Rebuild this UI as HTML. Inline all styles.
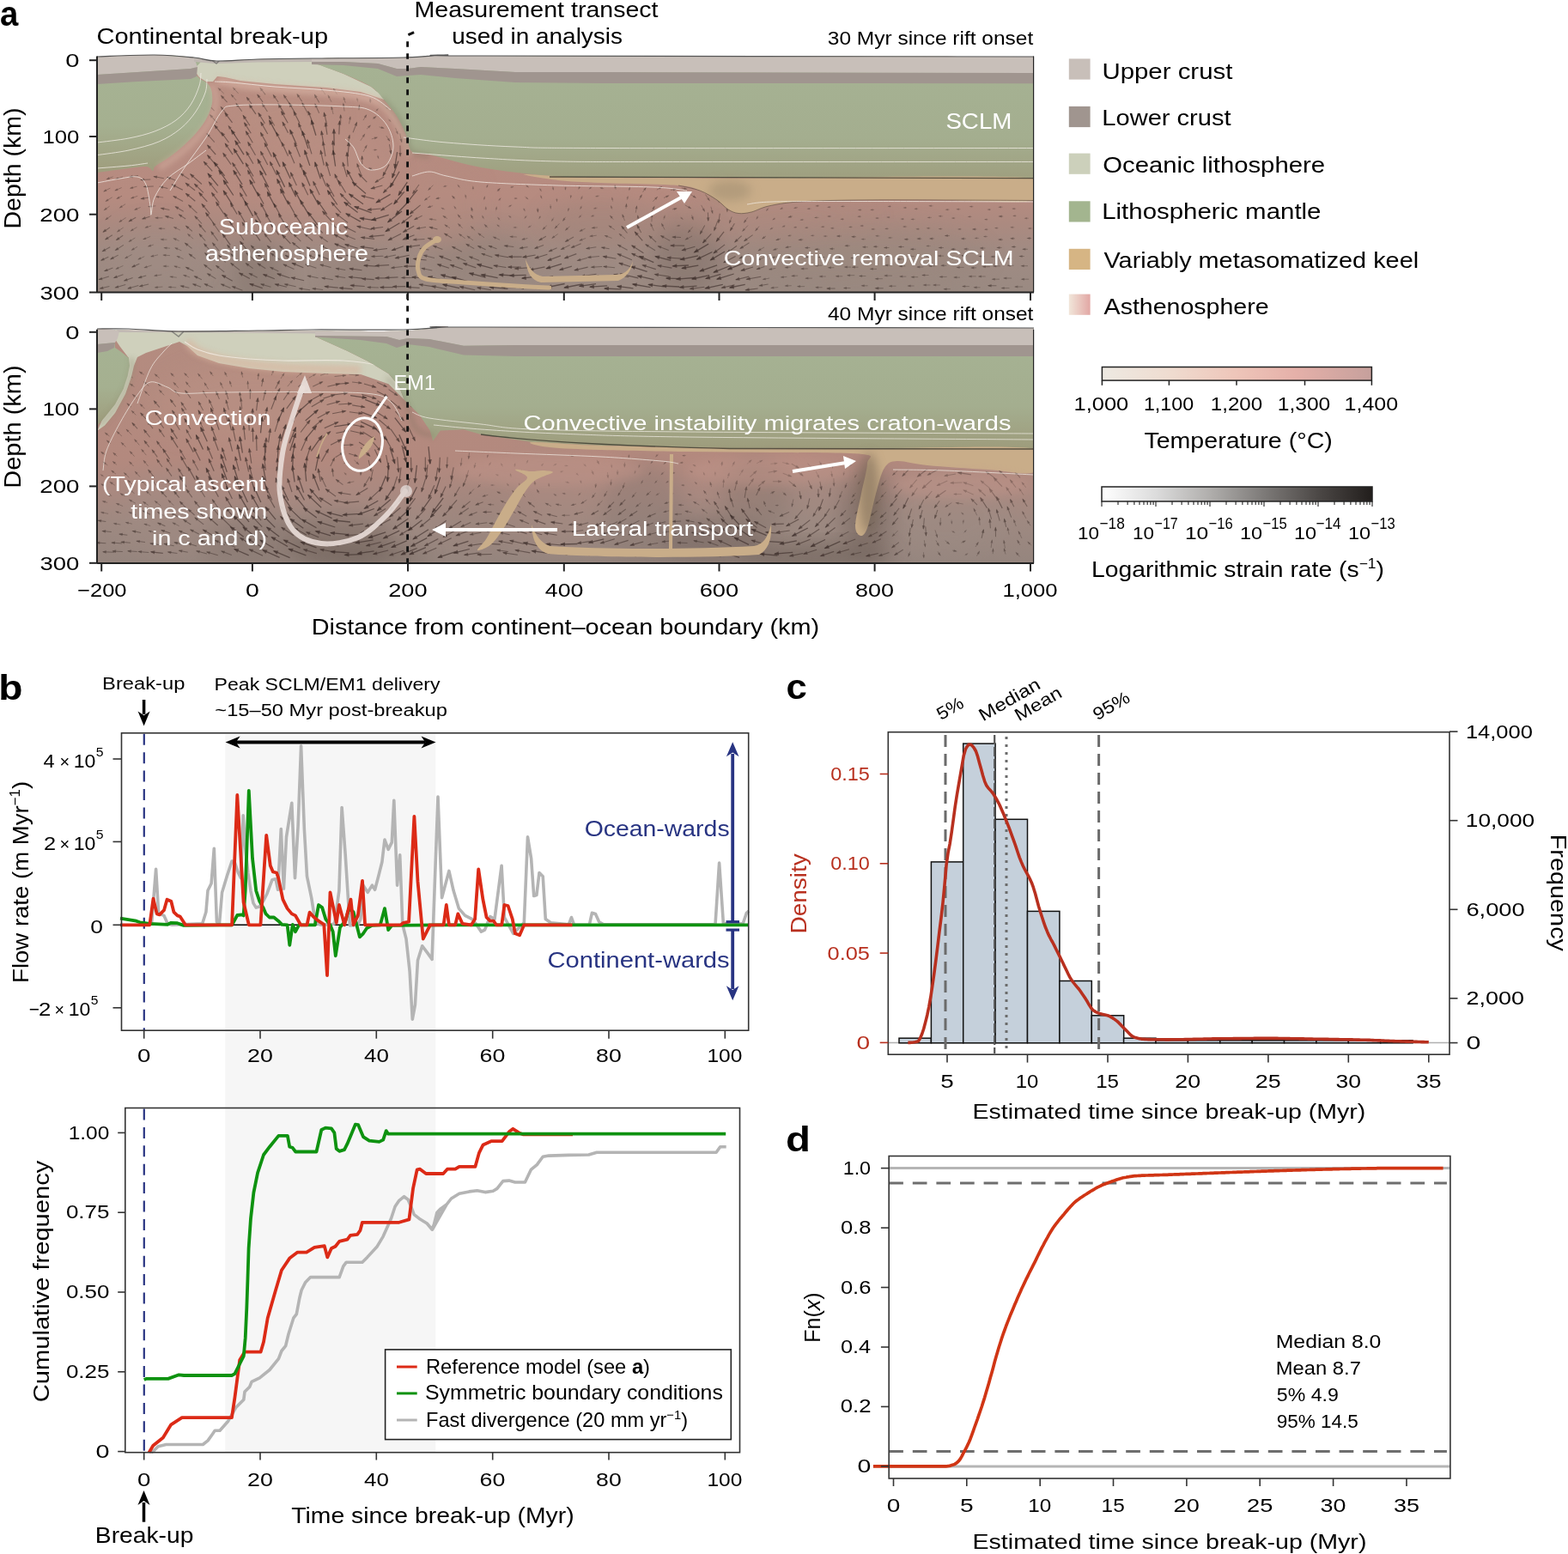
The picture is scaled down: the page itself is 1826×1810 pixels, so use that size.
<!DOCTYPE html>
<html><head><meta charset="utf-8"><title>Figure</title><style>html,body{margin:0;padding:0;background:#fff;overflow:hidden;}svg{display:block;}</style></head><body>
<svg width="1826" height="1810" viewBox="0 0 1826 1810" font-family='"Liberation Sans", Arial, sans-serif'>
<defs>
<linearGradient id="gGreen" x1="0" y1="0" x2="0" y2="1">
 <stop offset="0" stop-color="#a6b394"/><stop offset="0.6" stop-color="#a5b090"/><stop offset="1" stop-color="#9f9d7d"/>
</linearGradient>
<linearGradient id="gGreen2" x1="0" y1="0" x2="0" y2="1">
 <stop offset="0" stop-color="#a6b394"/><stop offset="0.65" stop-color="#a4ae8f"/><stop offset="1" stop-color="#9e9c7c"/>
</linearGradient>
<linearGradient id="gAst1" gradientUnits="userSpaceOnUse" x1="0" y1="60" x2="0" y2="341">
 <stop offset="0" stop-color="#b98e82"/><stop offset="0.6" stop-color="#b68b80"/><stop offset="0.72" stop-color="#ab8a80"/><stop offset="0.83" stop-color="#a08b83"/><stop offset="1" stop-color="#9a8a82"/>
</linearGradient>
<linearGradient id="gAst2" gradientUnits="userSpaceOnUse" x1="0" y1="378" x2="0" y2="656">
 <stop offset="0" stop-color="#b48c80"/><stop offset="0.56" stop-color="#b3897e"/><stop offset="0.7" stop-color="#aa8980"/><stop offset="0.83" stop-color="#9e8981"/><stop offset="1" stop-color="#95857e"/>
</linearGradient>
<linearGradient id="gAstLeg" x1="0" y1="0" x2="1" y2="0">
 <stop offset="0" stop-color="#f1e6da"/><stop offset="1" stop-color="#e2a7a4"/>
</linearGradient>
<linearGradient id="gTemp" x1="0" y1="0" x2="1" y2="0">
 <stop offset="0" stop-color="#ede9e2"/><stop offset="0.25" stop-color="#efdcd0"/><stop offset="0.5" stop-color="#eec5b9"/><stop offset="0.72" stop-color="#e5b0a9"/><stop offset="1" stop-color="#c6a09c"/>
</linearGradient>
<linearGradient id="gStrain" x1="0" y1="0" x2="1" y2="0">
 <stop offset="0" stop-color="#ffffff"/><stop offset="0.2" stop-color="#dcdcdc"/><stop offset="0.4" stop-color="#b0aeac"/><stop offset="0.6" stop-color="#7d7a78"/><stop offset="0.8" stop-color="#4c4846"/><stop offset="1" stop-color="#221e1c"/>
</linearGradient>
<filter id="blur6" x="-50%" y="-50%" width="200%" height="200%"><feGaussianBlur stdDeviation="6"/></filter>
<filter id="blur12" x="-50%" y="-50%" width="200%" height="200%"><feGaussianBlur stdDeviation="12"/></filter>
<filter id="blur3" x="-50%" y="-50%" width="200%" height="200%"><feGaussianBlur stdDeviation="3"/></filter>
<clipPath id="clipTop"><path d="M113 66C124.2 65.7 161.2 63.8 180 64C198.8 64.2 214 65.8 226 67C238 68.2 239.7 70.7 252 71C264.3 71.3 281.5 69.5 300 69C318.5 68.5 334.7 68.3 363 68C391.3 67.7 443.8 67.7 470 67C496.2 66.3 505 64.3 520 64C535 63.7 446 64.7 560 65C674 65.3 1096.7 65.8 1204 66 L1204 340.5 L113 340.5 Z"/></clipPath><clipPath id="clipBot"><path d="M113 383C119.2 383.2 134.2 384.1 150 384.5C165.8 384.9 183 385.3 208 385.5C233 385.7 273.5 385.5 300 385.5C326.5 385.5 338.7 385.5 367 385.5C395.3 385.5 444.5 386.4 470 385.5C495.5 384.6 505 381.1 520 380.4C535 379.6 446 380.7 560 381C674 381.3 1096.7 381.8 1204 382 L1204 656 L113 656 Z"/></clipPath></defs>
<rect width="1826" height="1810" fill="#fff"/>
<g clip-path="url(#clipTop)">
<rect x="113" y="60" width="1091" height="281" fill="url(#gAst1)"/>
<ellipse cx="300" cy="320" rx="30" ry="40" fill="#7f6f68" opacity="0.45" filter="url(#blur12)"/>
<ellipse cx="180" cy="300" rx="60" ry="40" fill="#a08c84" opacity="0.4" filter="url(#blur12)"/>
<ellipse cx="560" cy="300" rx="60" ry="30" fill="#8c7b73" opacity="0.35" filter="url(#blur12)"/>
<ellipse cx="800" cy="300" rx="40" ry="45" fill="#7a6a63" opacity="0.45" filter="url(#blur12)"/>
<ellipse cx="700" cy="260" rx="70" ry="30" fill="#9a8076" opacity="0.3" filter="url(#blur12)"/>
<ellipse cx="380" cy="200" rx="80" ry="60" fill="#b99084" opacity="0.5" filter="url(#blur12)"/>
<ellipse cx="330" cy="140" rx="60" ry="40" fill="#b98f82" opacity="0.5" filter="url(#blur12)"/>
<ellipse cx="1000" cy="300" rx="150" ry="40" fill="#958479" opacity="0.3" filter="url(#blur12)"/>
<ellipse cx="520" cy="240" rx="40" ry="50" fill="#b48c80" opacity="0.4" filter="url(#blur12)"/>
<ellipse cx="900" cy="250" rx="120" ry="30" fill="#ad8a7f" opacity="0.3" filter="url(#blur12)"/>
<ellipse cx="420" cy="320" rx="40" ry="25" fill="#8e7b73" opacity="0.4" filter="url(#blur12)"/>
<path d="M439.3 107.6L437 105.3M416.7 118.6L415.8 114.4M450.2 118.2L447.5 115.8M462.6 116.1L458.9 118.1M437.5 129.8L440.2 126.8M448.8 124.8L452.4 126.3M466.5 123.7L465.6 127.9M451.8 138.3L455 141.4M467.9 136.6L468.6 140M434.6 174.8L438.4 174.3M439.5 180.7L440.8 184.4M520.5 216.4L516.8 217.2M535.6 218.8L533.2 215.6M550.9 221.1L550.9 217.5M566.6 218.8L567.9 215.5M594.3 218.2L597.7 217.6M612.1 215.7L615.3 217.9M628.5 219.2L630.2 222.5M643.7 217L644.4 221M658.7 217.5L658.4 220.9M675.3 216.9L673.9 220M689.1 217.4L686.5 220M703.2 219.6L699.2 218.9M732.4 222L733.5 218.4M850.8 216.2L850.9 220M542.9 231.5L542 227.1M563.5 233.1L564.4 229.2M580.6 233.8L582.8 231M598.8 231.1L602 231.1M611.2 228.9L614.7 231.7M629.3 227.2L630.8 230.8M648.3 230.9L648.5 234.5M665 227L664.5 230.3M678.4 227.9L676.8 231.8M698 228L693.9 228.9M713.6 234.7L712.8 230.4M730.2 233L731.2 228.9M518.1 244L514.2 242.2M531.4 244L529.1 240.5M565.8 244.9L565.8 241.2M577.6 245.4L578.3 241.2M591.8 241.1L595.3 239.1M609.7 242.6L611.1 245.5M641 238.2L641.3 242.7M662.6 242L661.5 245.6M677.5 239.7L675.8 243.1M695.6 242L691.7 243M712.9 243.7L711.5 240M881.4 239.1L880.5 242.6M895.1 242.1L892.6 245.4M911.9 242L908.9 243.4M929.1 241.6L924.9 242.4M944.4 243L940.5 243.2M954.2 239.7L950.4 239.8M967.5 241.2L964.1 241.3M983.8 240.4L979.8 240.4M1003.3 244.5L999.9 244.5M1018.1 244.4L1014.2 244.4M1037.8 240.4L1034.5 240.4M1055.9 241.9L1052.6 241.9M1069.2 243.2L1065.4 243.2M1086.5 239.8L1082.3 239.8M1105.5 244.2L1101.7 244.2M1118.5 243.7L1114.4 243.7M1133.4 240.6L1129.7 240.6M1153.9 244.1L1150.5 244.1M1167.7 241.2L1163.4 241.2M1183.1 243.1L1179.2 243.1M563.6 255.2L561.7 251.5M582.2 256.5L579.9 253.4M595.4 253.6L592.7 251.6M613.4 250.9L611.1 254.2M629.4 251.5L628 254.5M644.9 253.4L642.6 257.3M677.5 250.1L674.4 253.2M692.2 250.9L688.8 252M772.8 255.7L774.1 251.4M792.2 252.9L795.1 255.3M882.9 251.4L881.1 254.9M903 254L900 255.9M936.2 255.8L932.3 256.2M953.5 253.4L949 253.5M968.1 252L964.2 252M983 255.3L979.4 255.3M1003.1 252.2L999.3 252.2M1023.6 254.1L1020 254.1M1036.4 253.1L1033.2 253.1M1053 255.1L1049.5 255.1M1065.5 255.4L1061.4 255.4M1084.9 253.4L1080.6 253.4M1098.1 251.8L1093.6 251.8M1112.2 254.1L1108.8 254.1M1131.5 252.4L1127.7 252.4M1150.3 255.6L1147 255.6M1183.5 251.4L1180.1 251.4M1197.9 254.2L1193.6 254.2M582.2 264.4L579 262M602.4 264.9L598.3 264.9M619 262.6L615.3 264.9M792.3 262.5L788.7 263.1M900.5 265L897.1 267M914.5 263L911.3 264M928 264.5L924.8 264.9M941.3 265.1L937.9 265.3M960.4 264.1L956.7 264.2M971.5 265.8L967.9 265.8M992.6 264.4L989 264.4M1006 263L1002.3 263M1019.3 266.9L1015.1 266.9M1034.8 266.4L1031.1 266.4M1056.2 264L1052 264M1071 266.8L1067.3 266.8M1083.3 265.8L1079.7 265.8M1097.3 266.6L1093.6 266.6M1119.6 266.9L1116.1 266.9M1150.6 267.3L1147 267.3M1162.5 265.6L1158.9 265.6M1181.4 264.8L1177.2 264.8M1202.2 266L1197.8 266M921.7 274.1L918 274.7M948.4 274.3L944.8 274.4M963.7 275.1L959.6 275.1M1008 278.6L1003.6 278.6M1024.5 274.8L1020.1 274.8M1039.4 276.9L1034.9 276.9M1140.1 277.4L1135.6 277.4M1150.1 275.5L1145.9 275.5M1083.7 286.5L1079.2 286.5" stroke="#3a2b27" stroke-opacity="0.27" stroke-width="0.80" fill="none"/><path d="M436.1 104.4L439.6 106.2L437.8 107.9ZM415.6 113.3L417.5 116.6L415.1 117.1ZM446.6 115L450.2 116.6L448.6 118.3ZM457.9 118.6L460.6 115.8L461.7 117.9ZM441 125.9L439.4 129.4L437.6 127.8ZM453.6 126.7L449.7 126.4L450.6 124.2ZM465.3 129.1L465 125.2L467.3 125.7ZM455.8 142.2L452.4 140.5L454 138.8ZM468.9 141.2L466.9 137.8L469.3 137.3ZM439.6 174.2L436.1 175.9L435.8 173.5ZM441.2 185.5L438.9 182.4L441.2 181.6ZM515.6 217.5L519 215.5L519.5 217.9ZM532.5 214.6L535.7 216.9L533.8 218.3ZM550.9 216.3L552.1 220L549.7 220ZM568.4 214.3L568.1 218.2L565.9 217.3ZM598.9 217.3L595.5 219.2L595 216.9ZM616.3 218.6L612.5 217.5L613.9 215.5ZM630.7 223.6L628 220.8L630.1 219.7ZM644.5 222.2L642.8 218.7L645.1 218.3ZM658.3 222.1L657.4 218.3L659.8 218.6ZM673.4 221.1L673.8 217.3L676 218.2ZM685.6 220.8L687.4 217.4L689.1 219.1ZM698 218.6L701.9 218.1L701.4 220.5ZM733.8 217.3L733.9 221.2L731.6 220.5ZM850.9 221.2L849.6 217.5L852 217.5ZM541.7 225.9L543.7 229.3L541.3 229.8ZM564.7 228L565 231.9L562.7 231.4ZM583.6 230L582.3 233.7L580.4 232.2ZM603.2 231.1L599.5 232.3L599.5 229.9ZM615.7 232.5L612 231.1L613.5 229.2ZM631.3 231.9L628.8 229L631 228ZM648.6 235.7L647.2 232.1L649.6 231.9ZM664.3 231.5L663.7 227.6L666.1 228ZM676.3 232.9L676.7 229L678.9 230ZM692.7 229.1L696.1 227.2L696.6 229.5ZM712.5 229.2L714.4 232.6L712.1 233.1ZM731.4 227.7L731.8 231.6L729.4 231.1ZM513.1 241.7L517 242.2L516 244.3ZM528.4 239.5L531.5 241.9L529.5 243.2ZM565.8 240L567 243.7L564.6 243.7ZM578.5 240.1L579.1 243.9L576.7 243.5ZM596.4 238.5L593.8 241.4L592.6 239.3ZM611.6 246.6L609 243.8L611.1 242.7ZM641.4 243.9L639.9 240.3L642.3 240.1ZM661.1 246.7L661.1 242.8L663.4 243.6ZM675.3 244.2L675.9 240.3L678 241.4ZM690.6 243.3L693.8 241.3L694.4 243.6ZM711.1 238.8L713.5 241.9L711.2 242.7ZM880.2 243.7L880 239.9L882.3 240.5ZM891.9 246.3L893.2 242.7L895.1 244.2ZM907.8 244L910.6 241.3L911.7 243.4ZM923.8 242.6L927.2 240.8L927.6 243.1ZM939.3 243.3L942.9 241.9L943 244.2ZM949.2 239.9L952.9 238.5L952.9 240.9ZM962.9 241.3L966.6 240.1L966.6 242.5ZM978.6 240.4L982.3 239.2L982.3 241.6ZM998.7 244.5L1002.4 243.3L1002.4 245.7ZM1013 244.4L1016.7 243.2L1016.7 245.6ZM1033.3 240.4L1037 239.2L1037 241.6ZM1051.4 241.9L1055.1 240.7L1055.1 243.1ZM1064.2 243.2L1067.9 242L1067.9 244.4ZM1081.1 239.8L1084.8 238.6L1084.8 241ZM1100.5 244.2L1104.2 243L1104.2 245.4ZM1113.2 243.7L1116.9 242.5L1116.9 244.9ZM1128.5 240.6L1132.2 239.4L1132.2 241.8ZM1149.3 244.1L1153 242.9L1153 245.3ZM1162.2 241.2L1165.9 240L1165.9 242.4ZM1178 243.1L1181.7 241.9L1181.7 244.3ZM561.2 250.4L563.9 253.2L561.8 254.3ZM579.2 252.5L582.4 254.8L580.4 256.2ZM591.8 250.9L595.5 252.1L594 254ZM610.5 255.1L611.6 251.4L613.6 252.8ZM627.4 255.6L628 251.8L630.1 252.8ZM642 258.3L642.8 254.5L644.9 255.7ZM673.6 254L675.4 250.6L677.1 252.3ZM687.6 252.3L690.8 250.1L691.5 252.4ZM774.5 250.3L774.6 254.2L772.3 253.5ZM796 256L792.4 254.6L793.9 252.7ZM880.5 255.9L881.2 252.1L883.3 253.2ZM899 256.6L901.5 253.5L902.8 255.6ZM931.1 256.3L934.7 254.7L934.9 257.1ZM947.8 253.5L951.4 252.2L951.5 254.6ZM963 252L966.6 250.8L966.7 253.2ZM978.2 255.3L981.9 254.1L981.9 256.5ZM998.1 252.2L1001.8 251L1001.8 253.4ZM1018.8 254.1L1022.5 252.9L1022.5 255.3ZM1032 253.1L1035.7 251.9L1035.7 254.3ZM1048.3 255.1L1052 253.9L1052 256.3ZM1060.2 255.4L1063.9 254.2L1063.9 256.6ZM1079.4 253.4L1083.1 252.2L1083.1 254.6ZM1092.4 251.8L1096.1 250.6L1096.1 253ZM1107.6 254.1L1111.3 252.9L1111.3 255.3ZM1126.5 252.4L1130.2 251.2L1130.2 253.6ZM1145.8 255.6L1149.5 254.4L1149.5 256.8ZM1178.9 251.4L1182.6 250.2L1182.6 252.6ZM1192.4 254.2L1196.1 253L1196.1 255.4ZM578 261.3L581.7 262.5L580.3 264.4ZM597.1 265L600.8 263.7L600.9 266.1ZM614.3 265.5L616.8 262.5L618.1 264.6ZM787.5 263.3L791 261.5L791.4 263.9ZM896.1 267.6L898.7 264.7L899.9 266.8ZM910.2 264.4L913.4 262.1L914.1 264.4ZM923.6 265.1L927.1 263.4L927.4 265.7ZM936.7 265.3L940.3 263.9L940.4 266.3ZM955.5 264.2L959.2 262.9L959.3 265.3ZM966.7 265.8L970.4 264.6L970.4 267ZM987.8 264.4L991.5 263.2L991.5 265.6ZM1001.1 263L1004.8 261.8L1004.8 264.2ZM1013.9 266.9L1017.6 265.7L1017.6 268.1ZM1029.9 266.4L1033.6 265.2L1033.6 267.6ZM1050.8 264L1054.5 262.8L1054.5 265.2ZM1066.1 266.8L1069.8 265.6L1069.8 268ZM1078.5 265.8L1082.2 264.6L1082.2 267ZM1092.4 266.6L1096.1 265.4L1096.1 267.8ZM1114.9 266.9L1118.6 265.7L1118.6 268.1ZM1145.8 267.3L1149.5 266.1L1149.5 268.5ZM1157.7 265.6L1161.4 264.4L1161.4 266.8ZM1176 264.8L1179.7 263.6L1179.7 266ZM1196.6 266L1200.3 264.8L1200.3 267.2ZM916.8 275L920.2 273.1L920.7 275.5ZM943.6 274.5L947.2 273.2L947.3 275.6ZM958.4 275.1L962.1 273.9L962.1 276.3ZM1002.4 278.6L1006.1 277.4L1006.1 279.8ZM1018.9 274.8L1022.6 273.6L1022.6 276ZM1033.7 276.9L1037.4 275.7L1037.4 278.1ZM1134.4 277.4L1138.1 276.2L1138.1 278.6ZM1144.7 275.5L1148.4 274.3L1148.4 276.7ZM1078 286.5L1081.7 285.3L1081.7 287.7Z" fill="#3a2b27" fill-opacity="0.27"/><path d="M260.7 109L254.4 102.8M277.5 108.8L271.5 102.2M378.8 110L374 102.9M392.5 109.7L388.2 102.9M245.8 116.9L240.2 111.8M275 116.9L269.5 110.4M385.9 118.6L382.2 111.1M402.2 119.7L400.2 113.3M431.5 119.7L431 115.2M388.1 133L386 124.6M401.1 129.4L399.8 120.8M417.9 128.2L418.5 122.8M406.5 144.3L408 136.1M423 140.1L426.6 134M434 138.5L437.7 135.8M427 150.3L431.2 146.3M441.7 147.9L446.8 149.1M460.5 148.9L463.2 155.8M419.8 163.8L424.6 156.5M432.8 161.9L439.1 160.1M449.8 158.1L453.7 164.1M423 177L427 169.5M434.5 198.2L429.8 195.5M131.6 205.9L124.5 208.5M143 206L134.8 208.6M128.4 219.1L121 222.9M141.7 218.5L134.2 221.8M159.5 217.2L151.9 219.2M504.4 215.7L498.9 221.1M579 222.9L582 219.6M717.1 220.5L716.1 216M748.5 223.8L752.1 218.7M764.9 221.2L770.4 217.7M781 221.4L786.9 220.5M793.7 219L799.6 220.3M814 218L818.7 222.2M829 218.5L831.5 222.9M130.6 229.8L123.3 234.3M142 228.2L136.2 231.3M160.2 228.3L152.8 230.9M190.2 230L182.1 229M501 228.4L494.6 233M512.5 230.5L508 231.4M529.9 231.8L526.8 228.4M744.3 232.7L747.2 227.1M760.2 234.7L765.3 229.6M773 230.5L778.5 227.9M790.7 228L797.7 229.1M804.2 226.5L810.1 230.2M821.5 226.6L826.1 233.4M835.3 229.3L837.4 235.5M854 230L854 236.4M127.7 240.1L121.5 244.5M146.1 237.7L139.6 241.8M163.6 241.5L157 244.3M181.3 239.8L173.1 240.7M504.1 239.7L498.5 241.5M550.2 246.5L549 242M626.1 242.3L626.3 246.8M729 242.7L729.5 237.8M740.3 247.7L741.5 240.2M758.7 247L761.9 240.7M769.9 243.2L775.4 238.6M783 243.9L787.8 242.8M797.8 238.9L804.4 242.6M816.6 238.9L820.4 245.9M827.9 240.8L829.8 248.2M846.6 238.5L846.9 246.4M864.9 238.5L863.6 243.6M129.6 251.1L123.1 255.7M146.6 253.5L139.1 258.5M189.4 253.8L181.1 253.8M508.2 256.2L500.3 255.1M520.9 254.6L516.2 251.6M537.1 255L533.4 250.3M551 255.2L548.5 250.7M658.5 252.9L655.7 257.1M714.2 255.5L710.7 251.5M727.5 257L724.9 250M743.8 258.6L742.7 251.2M758.9 258.3L759.2 249.9M805.6 250.6L807.1 255.6M852.2 252.5L849.6 259.7M870.7 253.3L866.6 259.1M922.7 251.9L918.3 252.9M1168.2 252L1163.6 252M143.7 265L136.8 269.7M159.5 264.6L152.4 268.8M176.1 263L169.3 265.1M192.2 266.3L185.2 266.1M209.8 268L202.7 264.6M524 265.7L518.2 262M538.6 265.6L533.7 261M553.1 268.3L548.6 263.9M568 265.3L564.5 261.7M636.7 262.8L632.2 267.1M651.4 260.4L646.3 265.8M663.4 263.8L658.7 267.9M681.5 266.2L675.3 269.3M695.9 264.9L689.6 265.5M715.9 267.6L709.4 263.1M761.3 268.7L757.8 260.6M774.1 267.5L770.6 260.7M806.7 264.4L801.5 270.6M870.9 262.6L864.9 269.1M884 263.6L880 268.6M1137.4 267L1132.9 267M157.4 277L150.3 281.4M175.1 275.5L167 278.7M194.4 279.1L187.5 278.9M208.6 280.5L202.3 277.8M225.1 278.2L218.8 272.7M541.8 277.7L534.7 272.6M551 279.9L544.4 275.2M564 276.8L557.1 271.9M582.1 279.3L574.7 276.1M601.8 276L594.3 275.7M614.4 277.5L608.1 278.9M649.7 272.5L643.1 277.2M682.1 277.5L675.2 280.1M694.7 274.2L687.2 275.2M712.6 277.4L704.6 274.5M727.9 277.9L721.3 272.4M806 275L798.5 278.9M892 275L887.9 277.9M909 278L904 279.7M935.3 279L930.4 279.4M979.8 275L974.9 275M997 275.7L992.1 275.7M1058.2 278.7L1053.7 278.7M1073.2 278.1L1068.5 278.1M1087.8 277.9L1083 277.9M1105.9 274.6L1100.8 274.6M1124.9 278L1119.8 278M1168 279.1L1163.2 279.1M1181.9 277.8L1177.2 277.8M1201.2 277.5L1196.6 277.5M160 287.4L153.5 291.1M178.8 285L172.8 286.9M198 289.2L191.3 288.6M211.3 291.9L204.1 288.8M890 287.9L883.2 291.9M905.7 289.6L900.8 291.1M921.3 287.3L915.1 288.2M943.3 288.5L937.9 288.7M954.6 290.3L949.4 290.4M971.7 289.8L966.8 289.8M989.8 286.2L984.4 286.2M1010.6 287.8L1004.9 287.8M1022.4 287.3L1017.7 287.3M1035.5 288.5L1029.9 288.5M1052.7 287.5L1046.8 287.5M1066.4 290.3L1060.8 290.3M1098.9 288.5L1093.6 288.5M1112.8 290.2L1108.2 290.2M1128.1 290L1123.1 290M1147.3 289L1141.8 289M1166.7 288.4L1161.4 288.4M1183.2 287.5L1178.6 287.5M1196.9 290.3L1191.2 290.3M153.5 296.5L145.8 300.8M168.2 298.7L161.2 302M184 296.8L176 298.8M198 297.6L190.3 297.2M213.6 301.6L206.3 298.4M890.6 299.4L882.7 302.9M904.4 298.9L899 300.3M924.4 299.3L917.3 300M944.4 299.2L937.4 299.4M960.6 299.6L953.5 299.6M982.1 299.8L976.7 299.8M997.2 300.4L991.3 300.4M1016.6 299.2L1009.7 299.2M1036.2 297.9L1031 297.9M1051.3 301.8L1045.1 301.8M1064.7 298.6L1058 298.6M1084.2 297.9L1078.1 297.9M1099.1 298.1L1092.8 298.1M1112 300.3L1106.7 300.3M1126 297.7L1120.1 297.7M1146.4 298.6L1140.4 298.6M1160.3 298.9L1154.5 298.9M1178.4 301.2L1173 301.2M1192.8 298.5L1187.5 298.5M143.4 309.5L135.3 313.2M176.6 309L168.4 311.7M196.6 310.2L190.5 310.1M210.2 312L203.1 310M903.2 312.4L895.9 313.9M920.8 311.1L914.6 311.7M940.7 312.9L933.2 313.1M957.3 309.2L949.5 309.2M971.3 311.7L964.8 311.7M990.9 311.1L983.8 311.1M999.5 311.2L992.8 311.2M1021 313.3L1013.8 313.3M1038.4 309L1031 309M1054.4 309.9L1047.6 309.9M1075.3 311L1068.2 311M1089.1 309.8L1081.9 309.8M1102.2 309.3L1096.3 309.3M1122.6 311.4L1114.5 311.4M1137 311.9L1131.3 311.9M1152.8 310.7L1144.8 310.7M1164.9 309.9L1157.1 309.9M1180.6 309.2L1173.7 309.2M1197 309.7L1189.6 309.7M188.3 320L180 321.2M205.8 323.2L198.3 322.3M221.1 323L213.9 320.4M896.2 324L888.7 325.4M916.3 322.4L909.7 322.9M929.1 321.1L922.2 321.4M945.9 324.1L938.3 324.2M961.8 322L954.7 322M981.2 321.8L973.8 321.8M995.2 320.7L987 320.7M1008.4 321.5L1001 321.5M1027.9 324.7L1019.7 324.7M1038.9 321.1L1030.3 321.1M1055.3 322.1L1048.1 322.1M1069.1 322.7L1061.6 322.7M1081.6 320.5L1074.2 320.5M1102.6 322.4L1094.6 322.4M1118 323.1L1111.2 323.1M1136.7 321.9L1128.6 321.9M1147.7 322L1139.9 322M1164 325.2L1155.7 325.2M1178.1 324L1169.2 324M1198.2 325.2L1189.8 325.2M189.4 334L180.7 334.8M205.2 334.9L196.5 334.3M906.2 334.6L898.1 335.4M921.7 332.7L914.6 333M937.1 333.6L928.9 333.7M957.6 334.7L950.1 334.8M990.4 335.5L982.9 335.5M1010.6 332.8L1003.6 332.8M1043.5 333.2L1035.8 333.2M1064.6 333L1057.5 333M1083.3 332L1075.7 332M1094.9 332L1087.1 332M1106.7 336.7L1099.5 336.7M1128.9 333.6L1121.1 333.6M1141.5 334.8L1134.5 334.8M1175.5 335.5L1166.6 335.5M1191.1 334L1182.2 334" stroke="#3a2b27" stroke-opacity="0.35" stroke-width="0.92" fill="none"/><path d="M253.5 102L257.7 103.9L255.6 106ZM270.7 101.3L274.7 103.5L272.5 105.5ZM373.3 101.9L376.9 104.6L374.5 106.3ZM387.6 101.9L391.2 104.8L388.6 106.4ZM239.4 111L243.5 112.8L241.5 115ZM268.7 109.5L272.6 111.8L270.3 113.7ZM381.6 110L384.9 113.2L382.2 114.6ZM399.8 112.2L402.5 115.8L399.7 116.7ZM430.9 114L432.8 118.1L429.8 118.4ZM385.7 123.4L388.2 127.2L385.3 127.9ZM399.6 119.6L401.7 123.6L398.8 124.1ZM418.6 121.6L419.7 126L416.7 125.7ZM408.2 134.9L408.9 139.4L406 138.8ZM427.2 133L426.3 137.4L423.7 135.9ZM438.7 135.1L436 138.9L434.3 136.4ZM432.1 145.5L430 149.5L427.9 147.3ZM448 149.4L443.5 149.9L444.2 147ZM463.7 156.9L460.7 153.5L463.5 152.4ZM425.2 155.5L424.1 159.9L421.6 158.3ZM440.2 159.8L436.5 162.4L435.7 159.5ZM454.3 165.1L450.7 162.3L453.2 160.7ZM427.5 168.4L426.9 172.9L424.2 171.5ZM428.8 194.9L433.2 195.8L431.7 198.4ZM123.4 209L126.9 206.1L127.9 208.9ZM133.7 209L137.3 206.2L138.2 209.1ZM120 223.4L123.1 220.1L124.5 222.8ZM133.1 222.3L136.4 219.2L137.6 221.9ZM150.7 219.5L154.5 217L155.3 219.9ZM498.1 222L500.1 217.9L502.2 220ZM582.8 218.7L581 222.9L578.8 220.9ZM715.9 214.8L718.2 218.7L715.3 219.3ZM752.8 217.8L751.5 222.1L749.1 220.4ZM771.4 217.1L768.6 220.7L767 218.1ZM788.1 220.3L784.1 222.5L783.6 219.5ZM800.7 220.5L796.2 221.1L796.8 218.2ZM819.6 223L815.4 221.3L817.4 219.1ZM832.1 224L828.7 221L831.3 219.5ZM122.3 234.9L125.1 231.4L126.7 233.9ZM135.1 231.9L138.2 228.6L139.6 231.2ZM151.7 231.3L155.3 228.5L156.3 231.3ZM180.9 228.9L185.3 227.9L185 230.9ZM493.7 233.8L496.2 230L498 232.4ZM506.8 231.6L510.7 229.3L511.3 232.3ZM526 227.5L530 229.7L527.8 231.7ZM747.8 226L747.1 230.5L744.4 229.2ZM766.1 228.7L764.2 232.9L762 230.8ZM779.6 227.4L776.3 230.6L775.1 227.9ZM798.9 229.3L794.4 230.1L794.9 227.2ZM811.1 230.8L806.7 229.8L808.2 227.3ZM826.8 234.4L823.1 231.7L825.6 230ZM837.8 236.7L835 233.1L837.8 232.1ZM854 237.6L852.5 233.2L855.5 233.3ZM120.5 245.2L123.1 241.5L124.9 243.9ZM138.6 242.4L141.4 238.9L143 241.4ZM155.9 244.7L159.2 241.7L160.4 244.4ZM171.9 240.8L176 238.9L176.3 241.9ZM497.4 241.9L501 239.1L501.9 242ZM548.7 240.8L551.2 244.6L548.3 245.4ZM626.4 248L624.7 243.8L627.7 243.7ZM729.7 236.6L730.7 241.1L727.7 240.7ZM741.7 239.1L742.5 243.5L739.5 243.1ZM762.5 239.6L761.9 244.2L759.2 242.8ZM776.4 237.9L774 241.7L772.1 239.4ZM789 242.5L785.2 244.9L784.5 242ZM805.4 243.1L800.9 242.3L802.4 239.7ZM821 247L817.6 243.9L820.2 242.5ZM830.1 249.4L827.6 245.6L830.5 244.9ZM846.9 247.6L845.3 243.3L848.3 243.2ZM863.3 244.8L862.9 240.2L865.8 241ZM122.1 256.4L124.7 252.7L126.5 255.1ZM138.1 259.1L140.8 255.5L142.5 258ZM179.9 253.8L184.2 252.3L184.2 255.3ZM499.1 255L503.6 254.1L503.2 257ZM515.2 251L519.6 252L518 254.5ZM532.6 249.3L536.5 251.8L534.1 253.6ZM547.9 249.7L551.3 252.7L548.7 254.2ZM655 258.1L656.2 253.7L658.6 255.4ZM709.9 250.6L713.9 252.8L711.7 254.8ZM724.5 248.9L727.4 252.4L724.6 253.4ZM742.5 250L744.6 254L741.7 254.5ZM759.3 248.7L760.6 253L757.6 252.9ZM807.4 256.7L804.7 253L807.6 252.2ZM849.1 260.8L849.2 256.3L852 257.3ZM865.9 260.1L867.2 255.7L869.6 257.5ZM917.1 253.2L921 250.8L921.7 253.7ZM1162.4 252L1166.7 250.5L1166.7 253.5ZM135.8 270.4L138.5 266.7L140.2 269.2ZM151.4 269.4L154.3 265.9L155.8 268.5ZM168.2 265.4L171.8 262.7L172.7 265.6ZM184 266L188.3 264.7L188.2 267.7ZM201.7 264.1L206.2 264.6L204.9 267.3ZM517.2 261.3L521.6 262.4L520 264.9ZM532.9 260.1L537 262L534.9 264.2ZM547.8 263L551.9 265L549.8 267.1ZM563.6 260.8L567.7 262.9L565.6 264.9ZM631.3 267.9L633.4 263.9L635.5 266.1ZM645.5 266.7L647.4 262.5L649.6 264.5ZM657.8 268.7L660 264.8L662 267ZM674.3 269.8L677.4 266.5L678.8 269.2ZM688.4 265.6L692.5 263.7L692.8 266.7ZM708.4 262.4L712.8 263.6L711.1 266.1ZM757.3 259.5L760.4 262.9L757.7 264.1ZM770.1 259.6L773.4 262.8L770.7 264.1ZM800.8 271.5L802.4 267.2L804.7 269.2ZM864 269.9L865.9 265.8L868.1 267.8ZM879.2 269.5L880.7 265.2L883.1 267.1ZM1131.7 267L1136 265.5L1136 268.5ZM149.3 282L152.1 278.5L153.7 281.1ZM165.8 279.1L169.3 276.2L170.4 279ZM186.3 278.8L190.7 277.5L190.5 280.5ZM201.2 277.3L205.8 277.6L204.6 280.4ZM217.9 272L222.1 273.6L220.2 275.9ZM533.8 271.9L538.1 273.2L536.3 275.6ZM543.4 274.5L547.8 275.8L546 278.2ZM556.2 271.2L560.5 272.5L558.8 274.9ZM573.6 275.6L578.1 275.9L576.9 278.7ZM593.1 275.6L597.4 274.3L597.3 277.3ZM607 279.2L610.8 276.8L611.5 279.7ZM642.1 277.9L644.7 274.2L646.5 276.6ZM674.1 280.5L677.6 277.6L678.7 280.4ZM686 275.3L690.1 273.3L690.5 276.3ZM703.5 274L708 274.1L707 276.9ZM720.4 271.7L724.6 273.2L722.7 275.6ZM797.4 279.4L800.5 276.1L801.9 278.8ZM886.9 278.6L889.5 274.9L891.3 277.3ZM902.8 280.1L906.4 277.3L907.4 280.1ZM929.2 279.5L933.4 277.7L933.6 280.7ZM973.7 275L978 273.5L978 276.5ZM990.9 275.7L995.2 274.2L995.2 277.2ZM1052.5 278.7L1056.8 277.2L1056.8 280.2ZM1067.3 278.1L1071.6 276.6L1071.6 279.6ZM1081.8 277.9L1086.1 276.4L1086.1 279.4ZM1099.6 274.6L1103.9 273.1L1103.9 276.1ZM1118.6 278L1122.9 276.5L1122.9 279.5ZM1162 279.1L1166.3 277.6L1166.3 280.6ZM1176 277.8L1180.3 276.3L1180.3 279.3ZM1195.4 277.5L1199.7 276L1199.7 279ZM152.5 291.7L155.4 288.3L156.9 290.9ZM171.7 287.3L175.3 284.5L176.2 287.4ZM190.2 288.4L194.6 287.4L194.3 290.4ZM203 288.3L207.5 288.6L206.3 291.4ZM882.2 292.5L885.1 289L886.7 291.6ZM899.6 291.5L903.3 288.8L904.2 291.6ZM913.9 288.4L917.9 286.3L918.4 289.2ZM936.7 288.8L940.9 287.1L941 290.1ZM948.2 290.4L952.5 288.8L952.6 291.8ZM965.6 289.8L969.9 288.3L969.9 291.3ZM983.2 286.2L987.5 284.7L987.5 287.7ZM1003.7 287.8L1008 286.3L1008 289.3ZM1016.5 287.3L1020.8 285.8L1020.8 288.8ZM1028.7 288.5L1033 287L1033 290ZM1045.6 287.5L1049.9 286L1049.9 289ZM1059.6 290.3L1063.9 288.8L1063.9 291.8ZM1092.4 288.5L1096.7 287L1096.7 290ZM1107 290.2L1111.3 288.7L1111.3 291.7ZM1121.9 290L1126.2 288.5L1126.2 291.5ZM1140.6 289L1144.9 287.5L1144.9 290.5ZM1160.2 288.4L1164.5 286.9L1164.5 289.9ZM1177.4 287.5L1181.7 286L1181.7 289ZM1190 290.3L1194.3 288.8L1194.3 291.8ZM144.8 301.3L147.8 297.9L149.3 300.6ZM160.1 302.5L163.4 299.3L164.6 302ZM174.8 299.1L178.6 296.6L179.3 299.5ZM189.1 297.1L193.5 295.8L193.3 298.8ZM205.2 297.9L209.7 298.3L208.5 301ZM881.6 303.4L884.9 300.3L886.2 303ZM897.8 300.7L901.6 298.1L902.4 301ZM916.1 300.1L920.2 298.2L920.5 301.2ZM936.2 299.4L940.5 297.8L940.6 300.8ZM952.3 299.7L956.6 298.1L956.6 301.1ZM975.5 299.8L979.8 298.3L979.8 301.3ZM990.1 300.4L994.4 298.9L994.4 301.9ZM1008.5 299.2L1012.8 297.7L1012.8 300.7ZM1029.8 297.9L1034.1 296.4L1034.1 299.4ZM1043.9 301.8L1048.2 300.3L1048.2 303.3ZM1056.8 298.6L1061.1 297.1L1061.1 300.1ZM1076.9 297.9L1081.2 296.4L1081.2 299.4ZM1091.6 298.1L1095.9 296.6L1095.9 299.6ZM1105.5 300.3L1109.8 298.8L1109.8 301.8ZM1118.9 297.7L1123.2 296.2L1123.2 299.2ZM1139.2 298.6L1143.5 297.1L1143.5 300.1ZM1153.3 298.9L1157.6 297.4L1157.6 300.4ZM1171.8 301.2L1176.1 299.7L1176.1 302.7ZM1186.3 298.5L1190.6 297L1190.6 300ZM134.2 313.7L137.5 310.5L138.7 313.3ZM167.2 312.1L170.9 309.3L171.8 312.2ZM189.3 310.1L193.7 308.6L193.6 311.6ZM202 309.7L206.5 309.4L205.7 312.3ZM894.7 314.1L898.6 311.8L899.2 314.7ZM913.4 311.8L917.5 309.9L917.8 312.9ZM932 313.1L936.2 311.5L936.3 314.5ZM948.3 309.2L952.6 307.7L952.6 310.7ZM963.6 311.7L967.9 310.2L967.9 313.2ZM982.6 311.1L986.9 309.6L986.9 312.6ZM991.6 311.2L995.9 309.7L995.9 312.7ZM1012.6 313.3L1016.9 311.8L1016.9 314.8ZM1029.8 309L1034.1 307.5L1034.1 310.5ZM1046.4 309.9L1050.7 308.4L1050.7 311.4ZM1067 311L1071.3 309.5L1071.3 312.5ZM1080.7 309.8L1085 308.3L1085 311.3ZM1095.1 309.3L1099.4 307.8L1099.4 310.8ZM1113.3 311.4L1117.6 309.9L1117.6 312.9ZM1130.1 311.9L1134.4 310.4L1134.4 313.4ZM1143.6 310.7L1147.9 309.2L1147.9 312.2ZM1155.9 309.9L1160.2 308.4L1160.2 311.4ZM1172.5 309.2L1176.8 307.7L1176.8 310.7ZM1188.4 309.7L1192.7 308.2L1192.7 311.2ZM178.8 321.3L182.8 319.3L183.2 322.2ZM197.1 322.1L201.5 321.2L201.2 324.1ZM212.8 320L217.4 320L216.3 322.9ZM887.5 325.6L891.4 323.4L892 326.3ZM908.5 323L912.6 321.2L912.9 324.2ZM921 321.4L925.3 319.8L925.4 322.8ZM937.1 324.2L941.3 322.6L941.4 325.6ZM953.5 322.1L957.8 320.5L957.8 323.5ZM972.6 321.8L976.9 320.3L976.9 323.3ZM985.8 320.7L990.1 319.2L990.1 322.2ZM999.8 321.5L1004.1 320L1004.1 323ZM1018.5 324.7L1022.8 323.2L1022.8 326.2ZM1029.1 321.1L1033.4 319.6L1033.4 322.6ZM1046.9 322.1L1051.2 320.6L1051.2 323.6ZM1060.4 322.7L1064.7 321.2L1064.7 324.2ZM1073 320.5L1077.3 319L1077.3 322ZM1093.4 322.4L1097.7 320.9L1097.7 323.9ZM1110 323.1L1114.3 321.6L1114.3 324.6ZM1127.4 321.9L1131.7 320.4L1131.7 323.4ZM1138.7 322L1143 320.5L1143 323.5ZM1154.5 325.2L1158.8 323.7L1158.8 326.7ZM1168 324L1172.3 322.5L1172.3 325.5ZM1188.6 325.2L1192.9 323.7L1192.9 326.7ZM179.5 334.9L183.6 333L183.9 336ZM195.3 334.2L199.7 333L199.5 336ZM896.9 335.5L901.1 333.6L901.4 336.6ZM913.4 333L917.6 331.3L917.8 334.3ZM927.7 333.7L932 332.1L932.1 335.1ZM948.9 334.8L953.1 333.2L953.2 336.2ZM981.7 335.5L986 334L986 337ZM1002.4 332.8L1006.7 331.3L1006.7 334.3ZM1034.6 333.2L1038.9 331.7L1038.9 334.7ZM1056.3 333L1060.6 331.5L1060.6 334.5ZM1074.5 332L1078.8 330.5L1078.8 333.5ZM1085.9 332L1090.2 330.5L1090.2 333.5ZM1098.3 336.7L1102.6 335.2L1102.6 338.2ZM1119.9 333.6L1124.2 332.1L1124.2 335.1ZM1133.3 334.8L1137.6 333.3L1137.6 336.3ZM1165.4 335.5L1169.7 334L1169.7 337ZM1181 334L1185.3 332.5L1185.3 335.5Z" fill="#3a2b27" fill-opacity="0.35"/><path d="M309.1 110.2L303 102.4M264.6 119.2L257.6 111.5M293.1 121.1L287.4 113.5M306.1 118.9L299.8 110.3M324.1 119L318.3 110.6M337.3 120.9L330.4 110.7M351.7 118.2L346.1 109.7M371.7 119.5L366.4 110.3M249.6 129.1L242.6 121.8M264.7 133.5L257.2 124.5M281.7 129.7L275.1 120.8M311.4 130L305.4 120.8M358.2 131.6L351.9 119.9M371.7 131.8L367 121.3M252.9 143L244.7 133.8M319.8 146.6L313.1 135.1M396.7 143.6L396.7 133.9M273.7 157.6L266.2 146.8M411.1 154.2L415.5 142.8M249.8 165.7L241.1 155.8M404.6 170L407.1 157.5M465.7 155.4L467.8 165.5M453.4 168.1L455.5 179M466 169.5L466.1 181.7M421.8 191L421.6 181.9M420.4 203L415.9 191M160.9 204.5L150.9 206.2M175.3 209.1L164.2 209.5M190.8 207.7L179.2 205.6M204.1 210L195 206.3M220.4 208.9L210.3 202.2M447.2 206L437.1 212.3M178.8 217L167.6 217.4M195.3 219.5L186.3 217.3M488 215L480.8 225.3M173.5 230L164.4 231.6M213.1 234.5L202 228.5M197.4 244.5L187.6 242.5M213.7 246.3L204.3 240.7M229.5 248.1L219.7 238.8M158.2 253.3L150.3 257.8M174.5 252.3L165.9 255M201.9 254.5L192.7 251.8M216.2 255L208.5 249.9M235 260.5L227 251.9M491.6 251.3L482.8 255.7M824.4 247.6L824.8 257M838.3 248.7L836.8 259.4M128 264.9L120.2 270.2M223.9 269.4L216.6 263.2M239.5 270.4L231.9 261.4M255.5 270.2L247.9 259.2M274.9 269.8L268.1 258.7M288.8 270L282.2 259.1M355.9 270.4L348.3 261.4M396.7 268.8L386.2 261M496 264.4L485.4 266.2M509.4 267L500.3 264.5M730.5 271.5L724 263.6M746.7 270.9L742 262.3M820.7 262.4L815.4 272.3M835.8 257.3L831.7 268.3M855.4 260.3L850.5 268.6M130.8 273.7L122.8 278.9M143.2 274.3L135.6 279.5M239.1 280.5L232.2 272.6M253.7 280.5L246 269.9M284 279.7L277.4 269.8M315.8 282.1L308.1 272.4M350.4 281.2L342.1 273M364.1 280.5L354.9 272.3M381.7 281.8L372.4 275.4M413.8 278.8L402 273.9M494.5 278.4L481.5 279.3M507.9 280.1L498.4 277.3M526.3 277.3L517.7 272.1M635.9 275.3L627.9 279.8M668 276L658.6 281.4M764.1 282L756.1 274.7M780.2 280.4L769.7 274.6M793 276.6L783.3 276M863.7 274.7L855.8 281.9M876.6 273.6L866.8 280.6M128.2 287.7L119.4 292.6M143.9 285.4L134.5 291.4M223.5 289.3L215.6 283.2M244.7 291.9L237.8 284.1M254.9 292L247.6 283M272.5 294.9L264.8 285.4M301.1 295.4L292.5 286.1M320.1 294.4L311.4 286.2M334.9 294L325.8 286.5M349.6 289.8L340.6 282.5M366.8 293.6L357.3 288M499.5 291.1L489.2 289.4M515.4 290.5L504.7 286.3M537.9 293.2L526.7 287.3M552.2 289.6L543 284.4M565.6 290.8L556.7 286.5M578.5 289.7L569.3 286.3M598.3 287.4L587.6 286.2M614.5 287.8L605.5 289.1M633.1 285.4L622.9 289.3M648.6 288.7L639.5 292.8M663.7 285.4L653.6 290.4M676.6 283.7L665.5 288.4M694.3 287.7L682.9 289.5M709.6 289.7L700.7 288.2M730.6 291.2L719.6 285.2M763 291.8L751.9 284.7M778.7 291.4L766.4 286.7M872.5 282.8L862.1 289.4M126.3 299.2L117.8 303.2M137.7 297.1L128.9 301.8M227.6 301.3L220.4 295.9M245.5 301.5L238.7 294.7M262.6 305.3L254.8 297.4M276.9 303.9L268.9 295.7M296.4 303.4L286.9 294.5M325.8 302.5L315.6 295.1M340.9 302.5L332.3 297.3M358.7 301.4L347.2 295.4M370.5 302L359 296.9M414.8 300L403.5 297.3M446.3 298.2L432.8 298.8M460.9 296.9L447.8 299.8M506 300.6L493.7 297.4M542.5 304L531.5 299.3M558.2 303.5L546.7 298.9M573.3 299.6L561 295.4M683.8 300.5L672.5 303.4M698 298.4L684.7 299.8M872 295.8L861.2 300.9M131.4 311.9L121.8 315.7M162.3 307.2L153.9 311M225.4 315.7L216.6 311.3M246.5 315L237.8 308.4M261.2 316.8L251.7 309.4M279.2 314.7L268.8 306.5M294.6 312.6L286.4 306.7M309.3 312.8L300.1 307M324.3 316L314.8 311.4M342.5 313.5L330.2 308.1M368.4 312.2L356 308.1M385.5 311.6L373.1 308.3M402.2 314.6L391.4 312.6M468.8 310.4L455.8 312M503.3 315L491.2 312.5M701.1 310.4L688.7 311.2M716.1 311.8L703 310.4M890.3 310.5L881.4 313.6M126.9 322.1L115.5 325.5M143.5 319.7L132.8 323.6M154.6 323.6L144.7 326.9M170.2 320.9L161.5 323.6M234.9 325.7L226.5 321.8M251.4 324.6L241.7 318.8M299.7 323.2L290.4 318.5M370.5 323.7L358.3 321.2M387.8 325.7L375 323.7M402.1 323.4L390.6 321.8M481.1 323.5L467.8 323.4M127.4 333.5L116.6 336M146.2 331.6L134.4 334.9M161.3 332.6L149.1 335.9M173.1 331L162.6 333.5M220.3 335.3L210.5 333.1M234 334.2L224.7 330.8M247.7 334.8L238.3 330.8M268.5 335.6L257.6 330.9M282.4 338.2L270.6 333.7M315.4 334.3L304 330.9M344.6 333.7L331.6 331M361.1 337.8L348.6 335.9M376.1 337.6L364.1 336.1M440.9 335.1L428.1 334.6M894.6 331L884.4 332.8M972.6 336.1L963.2 336.1M1028.7 335.8L1019.6 335.8M1160.4 332.8L1150.9 332.8" stroke="#3a2b27" stroke-opacity="0.44" stroke-width="1.04" fill="none"/><path d="M302.2 101.5L306.7 104.2L303.8 106.4ZM256.8 110.6L261.4 113.1L258.7 115.5ZM286.7 112.5L291 115.3L288.1 117.5ZM299.1 109.3L303.5 112.2L300.5 114.3ZM317.6 109.7L321.9 112.7L318.9 114.7ZM329.7 109.7L334 112.7L331 114.8ZM345.4 108.7L349.6 111.8L346.6 113.7ZM365.8 109.3L369.8 112.6L366.7 114.4ZM241.7 121L246.4 123.2L243.9 125.7ZM256.4 123.5L260.9 126.2L258.2 128.5ZM274.4 119.8L278.8 122.7L275.9 124.9ZM304.7 119.8L308.9 122.9L305.9 124.9ZM351.4 118.9L355.3 122.3L352.1 124ZM366.5 120.2L370.2 124L366.9 125.4ZM243.9 132.9L248.5 135.3L245.8 137.7ZM312.5 134.1L316.6 137.4L313.4 139.2ZM396.7 132.7L398.5 137.6L394.9 137.6ZM265.5 145.8L269.8 148.8L266.9 150.9ZM415.9 141.6L415.9 146.9L412.5 145.6ZM240.3 154.9L244.9 157.4L242.2 159.8ZM407.3 156.4L408.1 161.5L404.6 160.8ZM468.1 166.6L465.3 162.2L468.8 161.5ZM455.7 180.1L453 175.7L456.5 175ZM466.1 182.9L464.3 178L467.9 178ZM421.6 180.7L423.5 185.6L419.9 185.7ZM415.5 189.8L418.9 193.8L415.5 195.1ZM149.7 206.4L154.2 203.8L154.8 207.3ZM163 209.5L167.9 207.5L168 211.1ZM178.1 205.4L183.2 204.5L182.6 208ZM193.9 205.9L199.1 206L197.8 209.4ZM209.3 201.5L214.4 202.7L212.4 205.7ZM436 212.9L439.3 208.8L441.2 211.8ZM166.4 217.5L171.2 215.5L171.3 219.1ZM185.1 217.1L190.3 216.4L189.4 219.9ZM480.1 226.3L481.4 221.2L484.4 223.3ZM163.2 231.8L167.7 229.2L168.4 232.7ZM200.9 227.9L206.1 228.7L204.4 231.8ZM186.4 242.2L191.5 241.5L190.8 245ZM203.3 240.1L208.4 241.1L206.6 244.2ZM218.8 238L223.6 240L221.2 242.7ZM149.2 258.4L152.6 254.4L154.4 257.5ZM164.7 255.3L168.9 252.1L169.9 255.6ZM191.5 251.5L196.7 251.1L195.8 254.6ZM207.5 249.3L212.5 250.4L210.6 253.5ZM226.2 251L230.9 253.4L228.2 255.8ZM481.7 256.2L485.3 252.4L486.9 255.6ZM824.8 258.2L822.8 253.4L826.4 253.2ZM836.6 260.6L835.5 255.5L839.1 256ZM119.2 270.8L122.2 266.6L124.3 269.6ZM215.7 262.5L220.6 264.3L218.3 267ZM231.1 260.5L235.6 263.1L232.9 265.4ZM247.2 258.3L251.5 261.3L248.5 263.3ZM267.4 257.7L271.6 260.9L268.5 262.8ZM281.5 258.1L285.6 261.3L282.6 263.2ZM347.6 260.5L352.1 263.1L349.3 265.4ZM385.2 260.3L390.2 261.8L388.1 264.7ZM484.2 266.4L488.7 263.8L489.3 267.4ZM499.1 264.2L504.3 263.7L503.4 267.2ZM723.2 262.7L727.8 265.3L725 267.6ZM741.4 261.3L745.4 264.7L742.2 266.5ZM814.8 273.4L815.6 268.2L818.7 269.9ZM831.3 269.4L831.3 264.2L834.7 265.5ZM849.8 269.6L850.8 264.5L853.9 266.3ZM121.8 279.5L124.9 275.4L126.9 278.4ZM134.6 280.1L137.6 275.9L139.7 278.9ZM231.5 271.7L236 274.3L233.3 276.6ZM245.3 268.9L249.6 271.8L246.7 273.9ZM276.7 268.8L281 271.9L278 273.9ZM307.4 271.4L311.8 274.2L309 276.4ZM341.2 272.1L346 274.3L343.4 276.8ZM354 271.5L358.9 273.4L356.5 276.1ZM371.4 274.7L376.5 276L374.4 279ZM400.9 273.4L406.1 273.7L404.8 277ZM480.3 279.3L485.1 277.2L485.4 280.8ZM497.2 276.9L502.5 276.6L501.4 280ZM516.7 271.5L521.8 272.5L519.9 275.6ZM626.9 280.4L630.3 276.4L632 279.6ZM657.5 282L660.8 278L662.7 281.1ZM755.2 273.9L760 275.8L757.6 278.5ZM768.6 274L773.8 274.8L772 278ZM782.1 275.9L787.1 274.4L786.9 278ZM854.9 282.7L857.3 278.1L859.8 280.7ZM865.8 281.3L868.7 277L870.8 279.9ZM118.4 293.2L121.8 289.2L123.5 292.4ZM133.5 292L136.6 287.9L138.6 290.9ZM214.6 282.5L219.6 284L217.4 286.9ZM237 283.1L241.6 285.6L238.9 288ZM246.8 282.1L251.3 284.8L248.5 287ZM264 284.4L268.5 287.1L265.7 289.4ZM291.7 285.2L296.3 287.6L293.7 290.1ZM310.5 285.4L315.3 287.4L312.9 290ZM324.9 285.7L329.8 287.5L327.5 290.2ZM339.7 281.8L344.6 283.4L342.3 286.2ZM356.3 287.3L361.4 288.3L359.5 291.4ZM488 289.2L493.1 288.2L492.5 291.8ZM503.6 285.9L508.8 286L507.5 289.4ZM525.6 286.8L530.8 287.4L529.1 290.6ZM542 283.8L547.1 284.6L545.3 287.7ZM555.6 286L560.8 286.5L559.3 289.8ZM568.2 285.9L573.4 285.9L572.1 289.2ZM586.4 286.1L591.5 284.8L591.1 288.4ZM604.3 289.3L608.9 286.8L609.5 290.4ZM621.8 289.7L625.7 286.3L627 289.7ZM638.4 293.3L642.1 289.7L643.6 292.9ZM652.5 290.9L656.1 287.2L657.7 290.4ZM664.4 288.8L668.2 285.3L669.6 288.6ZM681.8 289.7L686.3 287.2L686.9 290.7ZM699.5 288L704.6 287.1L704 290.6ZM718.5 284.6L723.7 285.4L722 288.5ZM750.9 284.1L756 285.2L754.1 288.2ZM765.3 286.3L770.5 286.4L769.3 289.7ZM861.1 290.1L864.3 285.9L866.2 288.9ZM116.7 303.7L120.4 300L121.9 303.2ZM127.8 302.4L131.3 298.5L133 301.6ZM219.4 295.2L224.4 296.7L222.3 299.6ZM237.9 293.9L242.6 296.1L240.1 298.6ZM254 296.5L258.7 298.7L256.1 301.3ZM268 294.9L272.7 297.1L270.2 299.6ZM286 293.7L290.8 295.7L288.4 298.3ZM314.7 294.4L319.7 295.8L317.5 298.7ZM331.3 296.7L336.4 297.7L334.5 300.8ZM346.2 294.8L351.3 295.5L349.7 298.7ZM357.9 296.4L363.1 296.7L361.6 300ZM402.3 297L407.5 296.4L406.7 299.9ZM431.6 298.8L436.4 296.8L436.6 300.4ZM446.6 300.1L451 297.3L451.8 300.8ZM492.5 297.1L497.7 296.6L496.8 300.1ZM530.4 298.9L535.6 299.1L534.2 302.4ZM545.6 298.5L550.8 298.6L549.5 302ZM559.9 295L565.1 294.9L563.9 298.3ZM671.4 303.7L675.7 300.7L676.6 304.2ZM683.5 299.9L688.2 297.6L688.6 301.2ZM860.1 301.4L863.7 297.7L865.3 300.9ZM120.7 316.1L124.6 312.7L125.9 316ZM152.8 311.5L156.5 307.8L158 311.1ZM215.5 310.8L220.7 311.4L219.1 314.6ZM236.8 307.6L241.8 309.2L239.6 312ZM250.8 308.7L255.8 310.3L253.6 313.1ZM267.9 305.8L272.8 307.4L270.6 310.2ZM285.4 306L290.4 307.4L288.3 310.4ZM299.1 306.3L304.2 307.4L302.3 310.5ZM313.7 310.8L318.9 311.4L317.3 314.6ZM329.1 307.6L334.3 307.9L332.9 311.2ZM354.9 307.7L360.1 307.6L358.9 311ZM371.9 307.9L377.1 307.5L376.2 311ZM390.2 312.4L395.3 311.5L394.7 315.1ZM454.7 312.2L459.3 309.8L459.7 313.4ZM490 312.3L495.2 311.5L494.5 315ZM687.5 311.3L692.3 309.2L692.5 312.8ZM701.8 310.2L706.9 309L706.5 312.6ZM880.2 314L884.3 310.7L885.5 314.1ZM114.3 325.8L118.5 322.7L119.5 326.2ZM131.7 324L135.7 320.6L136.9 324ZM143.6 327.3L147.7 324L148.8 327.4ZM160.3 323.9L164.5 320.8L165.6 324.2ZM225.4 321.3L230.6 321.7L229.1 325ZM240.6 318.2L245.8 319.1L243.9 322.2ZM289.3 318L294.5 318.6L292.9 321.8ZM357.1 320.9L362.3 320.2L361.6 323.7ZM373.8 323.5L378.9 322.5L378.3 326ZM389.4 321.6L394.5 320.5L394 324.1ZM466.6 323.4L471.5 321.6L471.5 325.2ZM115.4 336.3L119.8 333.5L120.6 337ZM133.2 335.2L137.5 332.2L138.4 335.6ZM148 336.2L152.2 333.2L153.2 336.7ZM161.5 333.7L165.8 330.9L166.6 334.4ZM209.3 332.8L214.5 332.1L213.7 335.6ZM223.6 330.4L228.8 330.4L227.6 333.8ZM237.2 330.3L242.4 330.6L241 333.9ZM256.5 330.5L261.7 330.7L260.3 334ZM269.5 333.3L274.7 333.3L273.4 336.7ZM302.8 330.6L308.1 330.3L307 333.7ZM330.4 330.7L335.6 330L334.8 333.5ZM347.4 335.7L352.5 334.7L352 338.2ZM362.9 335.9L368 334.8L367.5 338.3ZM426.9 334.6L431.9 333L431.7 336.6ZM883.2 333L887.7 330.4L888.3 333.9ZM962 336.1L966.9 334.3L966.9 337.9ZM1018.4 335.8L1023.3 334L1023.3 337.6ZM1149.7 332.8L1154.6 331L1154.6 334.6Z" fill="#3a2b27" fill-opacity="0.44"/><path d="M297.9 132.9L290.3 121.7M331.7 133.4L324.2 121.1M344.3 132.8L336.9 120.2M270.5 142.9L262 131.6M290.9 146.3L283.2 134.5M308.4 143.7L301 131.7M335.2 143.2L327.6 129.7M349 143.6L342.1 130.1M364.9 144.6L358.9 129.8M380.6 144.9L377.4 131.4M259.6 158.2L249.8 145.9M292.3 155.3L284.6 143.1M311.7 156L303.8 142.3M335.5 154.8L329.1 142.3M354.3 159.9L347.7 143.7M381 156.8L379 143.1M394.8 156.5L395.5 141M266.5 166L257.9 154.3M294.3 166.2L286.4 152.9M311.6 169.1L303.5 154.5M329.2 169.1L321.8 154.4M376.8 167.4L374.3 152.8M251.2 180L241.7 169.1M271.1 180.1L262.3 167.3M297.5 180.7L288.8 165.7M316.4 182.5L308.2 166.8M335.5 181.8L328.2 166.1M349.5 182.7L343 166.5M363 179.4L357.9 162.8M379 182.1L376.1 165.2M388.7 180.5L387.5 164.1M404.9 182.9L406.5 165.9M251.7 192.5L241.7 180.8M269.1 191.7L259.9 178.5M294.9 190.7L286.9 176.9M311.7 191.9L303.6 176.5M342.9 190.2L336.5 175.2M377.3 192.5L373.3 175.4M405.2 193.8L404 177.6M247.3 199.3L237.4 188.4M280.1 204.6L270.8 189.7M295 205.4L286.2 190.1M321.9 203.5L314.5 188.7M355.3 205.6L349.2 190.5M384.6 204.9L379.9 189M404.1 206.2L399.2 189.4M453.1 191.4L446.1 204.8M234.9 214.5L221.8 202.9M296.8 213.3L288.6 198.6M345.4 216.1L338.5 201.1M379.8 216.7L373.6 201.8M396.3 216.8L390 202.9M427.3 212.2L417.8 202.5M212.8 221.2L200.4 214.9M227.1 221.8L216.3 213.4M236.9 224.3L226.6 214.3M253.3 224.5L243.3 212M287.3 228.6L279.3 214.8M315.6 227.7L308.4 213.7M358.7 227.2L351.9 213.2M372.2 226.9L364.8 211.6M389.1 228.9L380.6 213.6M402.6 224.4L394 210.2M445.4 216L432.2 219.8M458.1 212.4L446.6 224.4M227.3 234.3L216.5 225.4M241.3 234.9L231.9 224.5M255.3 236.4L246.6 224.6M288 239.7L279.5 224.7M307.1 237.6L299.8 224.1M408.6 238.5L396.4 225.5M435.7 231.6L421 228M244.2 248.9L235.1 237.7M261 249.5L251.7 235.5M276.1 249.5L268.5 236.6M311.8 251.9L303.6 236.7M326.4 250.8L319 237.3M342.6 247.9L334.8 233.9M397 247.9L386.1 235.6M443.7 243L428.3 244.3M456.6 236.6L443.7 245M489.6 238.9L477.4 249M248.4 259.5L239.7 247.9M268.5 259.7L261.4 248.2M285.1 258.8L277.7 246M303.7 259.4L296.3 246.3M316.2 260.8L309.3 248.9M331.5 260.6L324.4 249.1M350.8 260.8L342.7 248.9M386 257.7L375.7 246.2M405 259.4L391.2 248.6M479.8 250.7L467.8 260M306.3 270.2L297.6 256M324.6 273.5L315.5 260.4M340.2 272.3L331.8 261.3M375.8 271.3L364.4 260M414.3 270.5L400.8 263.7M433 267.5L415.9 263.5M446.1 264.5L432.1 266.4M482.2 263.3L469.6 270.2M268.2 285.3L259.3 272.6M302.9 280.4L294.9 269M338.4 283.8L328.7 273.6M401.3 279.6L389.2 272.9M436.1 278.4L420.6 276.5M447.6 273.8L430.2 275.6M467 272.2L452.3 279.7M482.5 273.8L469.4 279M748.3 280.4L739.4 270.1M828.3 272.3L818.6 282.8M843.1 269.9L834.3 281.1M289 292.8L279.8 281.5M385.2 292L373.2 285.8M402.7 289.3L389.9 283.9M416.7 289.3L401.9 284.6M435.2 289.3L420 287.4M451 289.5L435.1 291.5M469.9 286.8L456.5 291.6M489 285.7L475.1 287.5M749.4 294.8L735.8 286M797.1 286.1L781 286M809.4 287.2L794.4 291.5M844.1 284.9L831.2 294.8M858 286.4L846.7 294.5M310 304L299.3 295.2M382.4 301.9L369.5 296.8M402.7 302.1L388.6 297.9M430.6 303.4L415.5 301.3M476.7 297.2L460.5 300.6M496.6 303L481.6 301.3M525.6 303.5L511.9 298.2M592 299.8L576.7 297M607.7 299.1L592.6 299.1M623.6 297L609 299.6M637.4 296.3L623.1 300.7M652.9 297.9L638 303.4M671.3 295.6L657.7 300.8M717.4 301.3L702.5 298.6M735.9 302.7L719.3 295.7M751.7 303.2L735.8 295.3M793.4 301.1L777.2 300M856.6 298.4L842.9 305.7M353.3 311.7L340.2 306.4M421.5 314.8L407.2 312.9M437.6 310.2L423.9 309.2M453.1 308.6L437.3 309.7M486.6 310.1L470.5 310.2M523 312.3L509.6 307.9M538.7 313.5L524.6 308.5M554.3 311.9L539.7 306.7M589.4 311.5L575.1 309.3M606.7 311.2L591.8 311.1M617.6 311.7L599.6 313M634.5 310.9L617.1 314.4M665.9 310.1L651.8 314.4M684.6 311.1L669.2 314.7M737.7 311.7L721.1 306.4M763.8 313.6L748.3 308.7M782.4 312.1L766 309.2M877 311L863.2 315.1M270.7 327.2L258.7 320.5M290.8 324.5L278.7 318M319.8 324.8L306.7 319.6M337.5 323.7L323 318.9M354.1 326.8L339.3 323.3M422.3 324.2L406.3 322.5M435.7 325.6L421.7 324.7M450.8 323.8L437.2 323.9M463.5 322.8L449.1 323.6M496.7 324.6L480.2 322.6M658.1 322.9L643 326.5M676.9 323.1L660.8 326.7M694.5 319.3L677 321.9M709 321.8L692.9 322.1M732.3 322.8L715.1 319.7M779.4 322.1L762.6 319.5M872.2 322.1L857.1 325.8M886.2 322.2L869.4 325.2M305.7 335.6L291 330.6M333.9 334.2L320.5 331M393.7 335.2L378.2 333.6M410.5 336.6L395.5 335.4M424.7 333.5L408.3 332.3M458 334.6L442.9 334.7M472.2 333.7L457.7 333.8M488.6 335.4L474.6 334.3M505.1 333.9L488.3 331.3M520.3 336.7L503.2 333.3M553.2 337.7L535.6 333.9M571.9 337.7L555.9 335M600.8 335L584.1 334.4M640.1 333.4L623.7 335.9M820.3 334.2L803.6 336.5M855.5 331.9L840.4 335.2M882.6 336L868.3 337.8" stroke="#3a2b27" stroke-opacity="0.52" stroke-width="1.16" fill="none"/><path d="M289.6 120.7L294.4 124.1L291 126.5ZM323.5 120.1L328.2 123.7L324.6 125.9ZM336.3 119.1L340.9 122.8L337.3 124.9ZM261.3 130.7L266.3 133.8L262.9 136.3ZM282.5 133.5L287.3 136.9L283.8 139.2ZM300.4 130.7L305 134.3L301.5 136.5ZM327.1 128.7L331.6 132.4L327.9 134.5ZM341.6 129L346 133L342.2 134.9ZM358.4 128.7L362.5 133L358.6 134.6ZM377.1 130.2L380.4 135.1L376.3 136.1ZM249.1 145L254.1 148L250.9 150.6ZM284 142L288.7 145.6L285.1 147.8ZM303.2 141.3L307.7 145L304.1 147.1ZM328.6 141.3L333 145.2L329.2 147.1ZM347.3 142.6L351.3 146.9L347.4 148.5ZM378.8 142L381.7 147.1L377.5 147.7ZM395.6 139.8L397.4 145.4L393.2 145.2ZM257.2 153.3L262.2 156.5L258.8 159ZM285.7 151.9L290.4 155.5L286.8 157.7ZM303 153.4L307.5 157.2L303.8 159.3ZM321.3 153.3L325.6 157.3L321.9 159.2ZM374.1 151.6L377.1 156.7L372.9 157.4ZM240.9 168.2L246.1 171L242.9 173.7ZM261.6 166.3L266.5 169.6L263 172ZM288.2 164.6L292.8 168.4L289.1 170.5ZM307.6 165.7L312 169.6L308.3 171.5ZM327.7 165L331.9 169.1L328.1 170.9ZM342.6 165.4L346.6 169.7L342.7 171.3ZM357.6 161.7L361.2 166.3L357.2 167.6ZM375.9 164L378.9 169.1L374.7 169.8ZM387.4 162.9L389.9 168.2L385.7 168.5ZM406.6 164.7L408.2 170.4L404 170ZM240.9 179.8L246 182.7L242.9 185.4ZM259.2 177.5L264.1 180.8L260.6 183.2ZM286.3 175.8L290.9 179.5L287.2 181.6ZM303 175.4L307.4 179.3L303.7 181.3ZM336 174.1L340.1 178.4L336.2 180ZM373.1 174.2L376.4 179.1L372.3 180ZM403.9 176.5L406.4 181.8L402.2 182.1ZM236.6 187.5L241.9 190.2L238.8 193ZM270.1 188.7L274.8 192.2L271.3 194.5ZM285.6 189L290.2 192.8L286.5 194.8ZM314 187.6L318.3 191.6L314.6 193.5ZM348.8 189.4L352.8 193.7L348.9 195.3ZM379.6 187.8L383.2 192.5L379.1 193.7ZM398.9 188.2L402.4 192.9L398.4 194.1ZM445.5 205.8L446.2 200L449.9 201.9ZM220.9 202.1L226.5 204.2L223.7 207.4ZM288 197.5L292.5 201.3L288.8 203.4ZM338 200L342.2 204.1L338.4 205.9ZM373.2 200.7L377.2 204.9L373.3 206.5ZM389.5 201.9L393.6 206L389.8 207.7ZM417 201.6L422.3 204.1L419.3 207.1ZM199.3 214.4L205.2 215L203.2 218.7ZM215.4 212.6L221 214.4L218.4 217.7ZM225.7 213.5L231.1 215.8L228.2 218.8ZM242.6 211.1L247.7 214.1L244.4 216.7ZM278.7 213.8L283.3 217.5L279.7 219.6ZM307.8 212.7L312.2 216.6L308.5 218.5ZM351.4 212.1L355.7 216.1L351.9 218ZM364.3 210.5L368.6 214.5L364.8 216.4ZM380 212.5L384.5 216.3L380.8 218.3ZM393.3 209.2L398 212.8L394.4 215ZM431.1 220.1L435.8 216.6L436.9 220.6ZM445.7 225.3L448 219.9L451.1 222.8ZM215.6 224.7L221.2 226.6L218.5 229.8ZM231.1 223.6L236.3 226.3L233.2 229.1ZM245.9 223.6L250.8 226.8L247.4 229.3ZM278.9 223.7L283.4 227.4L279.8 229.5ZM299.2 223L303.7 226.9L300 228.9ZM395.6 224.7L400.9 227.2L397.8 230.1ZM419.9 227.7L425.7 227L424.7 231.1ZM234.4 236.7L239.5 239.7L236.2 242.3ZM251.1 234.5L255.9 237.9L252.3 240.2ZM267.9 235.6L272.5 239.3L268.9 241.4ZM303 235.7L307.5 239.5L303.8 241.5ZM318.4 236.2L322.9 240L319.3 242.1ZM334.2 232.8L338.7 236.6L335.1 238.7ZM385.3 234.7L390.5 237.4L387.4 240.2ZM427.1 244.4L432.4 241.8L432.8 246ZM442.7 245.7L446.2 240.9L448.5 244.4ZM476.5 249.8L479.4 244.7L482 247.9ZM239 247L244 250.1L240.6 252.6ZM260.8 247.2L265.5 250.8L261.9 253ZM277.2 245L281.7 248.7L278.1 250.8ZM295.7 245.2L300.2 249L296.6 251ZM308.7 247.8L313.2 251.5L309.6 253.6ZM323.8 248L328.5 251.6L324.9 253.8ZM342 247.9L346.9 251.3L343.4 253.6ZM374.9 245.3L380.1 247.9L377 250.8ZM390.3 247.8L395.9 249.6L393.3 252.9ZM466.9 260.7L470 255.7L472.5 259ZM296.9 255L301.6 258.6L298 260.8ZM314.8 259.4L319.7 262.7L316.2 265.1ZM331.1 260.4L336.1 263.5L332.8 266ZM363.5 259.1L368.9 261.5L366 264.5ZM399.8 263.2L405.6 263.8L403.7 267.5ZM414.7 263.3L420.5 262.5L419.6 266.6ZM430.9 266.6L436 263.7L436.6 267.9ZM468.5 270.8L472.4 266.3L474.4 270ZM258.6 271.6L263.5 274.9L260.1 277.3ZM294.2 268L299 271.3L295.6 273.7ZM327.9 272.7L333.2 275.3L330.2 278.2ZM388.1 272.4L394 273.2L392 276.9ZM419.4 276.3L425.2 274.9L424.6 279.1ZM429 275.8L434.3 273.1L434.7 277.3ZM451.2 280.2L455.2 275.8L457.1 279.6ZM468.2 279.5L472.6 275.5L474.1 279.4ZM738.6 269.2L743.8 272L740.6 274.7ZM817.8 283.6L820 278.2L823.1 281ZM833.6 282L835.3 276.4L838.6 279ZM279 280.5L284.1 283.5L280.8 286.1ZM372.1 285.3L377.9 285.9L376 289.6ZM388.8 283.4L394.7 283.7L393.1 287.5ZM400.8 284.2L406.7 283.9L405.4 287.9ZM418.8 287.2L424.6 285.8L424 290ZM433.9 291.7L439.1 288.9L439.6 293.1ZM455.3 292L459.8 288.2L461.2 292.1ZM474 287.7L479.1 284.9L479.7 289.1ZM734.8 285.3L740.6 286.6L738.3 290.1ZM779.8 286L785.4 283.9L785.3 288.1ZM793.2 291.9L797.9 288.3L799.1 292.4ZM830.2 295.6L833.3 290.5L835.9 293.9ZM845.7 295.2L849 290.3L851.4 293.7ZM298.4 294.4L304 296.3L301.3 299.5ZM368.3 296.3L374.2 296.4L372.7 300.3ZM387.4 297.6L393.3 297.1L392.1 301.1ZM414.3 301.1L420 299.8L419.5 303.9ZM459.3 300.9L464.2 297.7L465.1 301.8ZM480.4 301.2L486.1 299.7L485.7 303.9ZM510.7 297.7L516.6 297.8L515.1 301.7ZM575.5 296.8L581.3 295.7L580.6 299.9ZM591.4 299.1L596.9 297L596.9 301.2ZM607.8 299.8L612.8 296.8L613.6 300.9ZM621.9 301.1L626.6 297.4L627.8 301.5ZM636.9 303.8L641.3 299.9L642.8 303.9ZM656.5 301.2L660.9 297.3L662.4 301.2ZM701.3 298.4L707.1 297.3L706.3 301.4ZM718.2 295.3L724 295.4L722.4 299.3ZM734.7 294.8L740.5 295.3L738.7 299.1ZM776 299.9L781.6 298.2L781.3 302.4ZM841.9 306.3L845.7 301.8L847.7 305.5ZM339.1 305.9L345 306.1L343.4 309.9ZM406 312.7L411.7 311.4L411.2 315.5ZM422.7 309.2L428.4 307.4L428.1 311.6ZM436.1 309.7L441.5 307.3L441.7 311.5ZM469.3 310.2L474.8 308.1L474.8 312.3ZM508.5 307.5L514.3 307.2L513 311.2ZM523.5 308.1L529.3 307.9L528 311.9ZM538.6 306.3L544.4 306.1L543 310.1ZM573.9 309.1L579.7 307.9L579.1 312ZM590.6 311.1L596.1 309.1L596.1 313.3ZM598.4 313.1L603.8 310.6L604.1 314.8ZM615.9 314.7L620.9 311.5L621.7 315.6ZM650.7 314.8L655.3 311.1L656.5 315.2ZM668 314.9L672.9 311.7L673.8 315.7ZM719.9 306L725.8 305.7L724.5 309.7ZM747.1 308.4L753 308L751.7 312ZM764.8 309L770.6 307.9L769.9 312ZM862 315.5L866.7 311.9L867.9 315.9ZM257.7 319.9L263.5 320.7L261.4 324.4ZM277.7 317.5L283.5 318.2L281.5 321.9ZM305.6 319.2L311.5 319.2L309.9 323.1ZM321.9 318.5L327.8 318.3L326.5 322.2ZM338.2 323L344 322.2L343 326.3ZM405.1 322.4L410.8 320.9L410.3 325ZM420.5 324.6L426.1 322.9L425.8 327.1ZM436 324L441.5 321.8L441.5 326ZM447.9 323.6L453.2 321.2L453.5 325.4ZM479 322.5L484.7 321L484.2 325.2ZM641.9 326.8L646.7 323.4L647.7 327.5ZM659.6 326.9L664.5 323.7L665.4 327.8ZM675.8 322.1L680.9 319.2L681.5 323.4ZM691.7 322.2L697.2 320L697.3 324.2ZM713.9 319.5L719.7 318.4L718.9 322.6ZM761.4 319.3L767.1 318.1L766.5 322.3ZM855.9 326.1L860.7 322.7L861.7 326.8ZM868.2 325.4L873.3 322.4L874 326.5ZM289.8 330.2L295.7 330L294.4 334ZM319.3 330.7L325.1 330L324.1 334ZM377 333.5L382.7 332L382.3 336.1ZM394.3 335.3L400 333.6L399.6 337.8ZM407.1 332.2L412.7 330.5L412.4 334.7ZM441.7 334.7L447.2 332.6L447.2 336.8ZM456.5 333.8L461.9 331.7L462 335.9ZM473.4 334.2L479 332.6L478.7 336.7ZM487.1 331.1L492.8 329.9L492.2 334ZM502 333L507.8 332L507 336.2ZM534.5 333.7L540.3 332.8L539.4 336.9ZM554.7 334.8L560.5 333.6L559.8 337.8ZM582.9 334.3L588.5 332.4L588.3 336.6ZM622.5 336.1L627.7 333.2L628.3 337.3ZM802.5 336.6L807.6 333.8L808.2 338ZM839.3 335.5L844.2 332.2L845.1 336.3ZM867.1 338L872.3 335.2L872.9 339.3Z" fill="#3a2b27" fill-opacity="0.52"/><path d="M323 157.4L313.7 140.3M367.9 157.7L362.6 140.2M279.7 167L269.4 151.5M345.2 168.1L337.8 151.4M359 173L352 152.9M389.2 169.5L388.8 150.6M284 180.1L273.9 164M283.4 191.2L272.3 173.4M326.1 194.2L318.1 177.9M360.8 192.9L354.8 175.2M390.6 193.7L387.9 175.4M462.6 177.1L459.7 195.9M261.6 204.9L249.5 189.1M310 204.1L300.1 185.5M338.2 208L329.3 188.9M373.3 208.2L366.8 189M463.9 187.6L456.8 207M253.9 216.4L242.2 202.2M265.7 213.5L254.9 198.4M282 214.9L272 198.7M312.8 218.1L302.7 199M331.6 217.9L322.1 198.6M361 216.5L353.4 198.5M413.5 215.8L404.2 198.3M465.1 199.8L454.4 218M271.8 227.5L260.3 210.1M301 228.1L290.9 209.7M331.2 225.5L322.8 208.8M344.6 229.1L336.5 212.8M426 225.5L410.5 212.3M474.3 212.2L464.2 227.3M270.3 237.9L260.3 222.2M320.7 241.4L311.4 223.7M335.4 237.3L326.6 220.3M353.2 240.5L343.4 222.1M370.8 238.2L361.1 220.6M392.8 238.5L381.5 221.9M423 237.7L406.6 225.9M454.6 226.4L438.3 235.9M470.8 223.3L458.9 237.5M486.1 221.1L473.1 237.2M294.7 252L285.1 234.5M359.5 249.9L349.6 233.2M380.8 249.7L369.5 233.5M416.6 247.4L400.9 235.6M432.6 247.8L412.9 240.7M475.3 235.3L461 250M369.9 261.8L358.5 247.1M419.8 258.1L403 248.8M438.3 256.9L419.2 254.1M452.7 250.4L432.8 256.4M468 245.9L451.7 258.7M465.4 259.7L449.1 269.5M825.1 284.1L808.6 293.9M761.3 305.6L744.6 298.4M781.2 303.3L763.2 298.6M812.9 297.9L792.4 302.4M829.4 293.5L811.5 302.2M844 293L827.4 302.9M573.5 312.7L555.8 307.8M654 307.4L636.3 312.8M753.6 316.4L734.9 310.3M801.9 309L783.4 309.8M813.3 309.2L794.1 312.5M835.1 308.8L815 315.9M850.6 309.5L831.1 317.2M865.6 306.7L847.7 313.9M516.5 326.4L498.7 322.4M531.4 324.9L513.7 320.1M546.2 328L526.4 322.7M565.6 323.1L546.7 318.2M579.6 323.6L560.5 319.9M600.2 321.2L581.4 320M612.6 320.4L593.8 320.9M628.9 321.6L607.9 324.1M644.1 321.7L624.3 325.6M743.3 323.9L722.5 319M761.5 325.7L742.6 321.3M794.1 324.7L775.9 324.1M808.7 323.5L787.8 325.1M826 320.7L805.9 325M839.3 319.4L822 324.5M854.6 319L834.9 325.1M535 335.7L515.8 331.4M591.4 336.4L570.3 334.3M625.5 333.5L605 335.1M657.6 330.5L637.6 334.5M677.9 331L657.2 335M694 330.7L674.8 333.3M707.2 332.9L687 334.2M723.3 336.8L704 336M737.5 335.8L718.9 333.4M757.5 334.7L736.8 331M773.2 333.9L755.2 331.3M791.1 334L771.4 333M811.5 333.1L791.5 334.7M841.8 331.4L821.4 335.8M867.7 331.3L849.8 335" stroke="#3a2b27" stroke-opacity="0.61" stroke-width="1.28" fill="none"/><path d="M313.1 139.3L318.1 143.4L313.9 145.8ZM362.2 139.1L366.3 144.2L361.7 145.6ZM268.7 150.5L274.1 154.3L270.1 156.9ZM337.3 150.3L342 154.9L337.6 156.8ZM351.6 151.8L355.9 156.7L351.3 158.3ZM388.8 149.4L391.3 155.5L386.5 155.6ZM273.2 163L278.5 166.8L274.5 169.4ZM271.6 172.4L276.9 176.2L272.8 178.8ZM317.6 176.8L322.4 181.2L318.1 183.4ZM354.4 174.1L358.6 179.1L354.1 180.6ZM387.7 174.2L391 179.9L386.2 180.6ZM459.5 197.1L458.1 190.7L462.8 191.5ZM248.7 188.1L254.3 191.5L250.5 194.4ZM299.5 184.4L304.5 188.7L300.3 191ZM328.8 187.8L333.6 192.3L329.2 194.4ZM366.4 187.9L370.6 192.9L366.1 194.4ZM456.4 208.1L456.2 201.6L460.7 203.2ZM241.4 201.2L247.1 204.4L243.4 207.5ZM254.2 197.4L259.7 201L255.8 203.8ZM271.3 197.7L276.6 201.6L272.5 204.1ZM302.2 197.9L307.1 202.2L302.9 204.4ZM321.6 197.5L326.4 202L322.1 204.1ZM352.9 197.4L357.5 202.1L353.1 203.9ZM403.7 197.2L408.6 201.5L404.4 203.7ZM453.8 219L454.8 212.5L459 215ZM259.6 209.1L265 212.8L261 215.5ZM290.3 208.7L295.4 212.9L291.2 215.2ZM322.2 207.7L327.1 212.1L322.8 214.2ZM336 211.7L340.8 216.1L336.5 218.3ZM409.6 211.6L415.8 213.7L412.7 217.3ZM463.5 228.3L464.9 221.9L468.9 224.5ZM259.6 221.2L264.9 225.1L260.9 227.7ZM310.8 222.6L315.8 226.9L311.5 229.2ZM326 219.2L331 223.5L326.7 225.7ZM342.9 221L347.8 225.3L343.6 227.5ZM360.5 219.6L365.6 223.8L361.4 226.1ZM380.8 220.9L386.2 224.6L382.2 227.3ZM405.7 225.2L412 226.9L409.2 230.8ZM437.2 236.5L441.3 231.3L443.7 235.5ZM458.1 238.4L460.2 232.2L463.8 235.3ZM472.4 238.1L474.3 231.8L478.1 234.9ZM284.5 233.4L289.5 237.6L285.3 239.9ZM349 232.2L354.2 236.2L350.1 238.6ZM368.8 232.6L374.3 236.2L370.4 238.9ZM400 234.9L406.3 236.6L403.4 240.5ZM411.8 240.3L418.4 240.1L416.7 244.6ZM460.1 250.9L462.7 244.8L466.1 248.2ZM357.7 246.1L363.4 249.5L359.6 252.4ZM401.9 248.2L408.4 249.1L406.1 253.3ZM418 253.9L424.4 252.4L423.7 257.2ZM431.6 256.7L436.8 252.7L438.2 257.2ZM450.8 259.4L454.1 253.8L457.1 257.6ZM448 270.2L452 265L454.5 269.1ZM807.5 294.5L811.6 289.3L814 293.4ZM743.5 297.9L750.1 298.1L748.1 302.5ZM762 298.3L768.5 297.5L767.3 302.2ZM791.2 302.6L796.7 299L797.7 303.7ZM810.4 302.7L814.9 297.9L817 302.2ZM826.4 303.5L830.4 298.3L832.8 302.5ZM554.6 307.4L561.2 306.8L559.9 311.4ZM635.1 313.1L640.2 309.1L641.6 313.6ZM733.7 309.9L740.3 309.5L738.8 314.1ZM782.2 309.9L788.2 307.2L788.4 312ZM793 312.7L798.6 309.3L799.4 314ZM813.9 316.3L818.8 312L820.4 316.6ZM830 317.7L834.8 313.2L836.6 317.6ZM846.6 314.3L851.3 309.8L853.1 314.3ZM497.5 322.1L504 321.1L502.9 325.8ZM512.5 319.7L519.1 319L517.8 323.7ZM525.3 322.4L531.8 321.7L530.5 326.3ZM545.5 317.9L552 317.1L550.9 321.8ZM559.3 319.7L565.7 318.5L564.8 323.2ZM580.2 319.9L586.4 317.9L586.1 322.7ZM592.6 320.9L598.6 318.4L598.7 323.2ZM606.7 324.3L612.4 321.2L613 325.9ZM623.1 325.8L628.6 322.3L629.6 327ZM721.3 318.8L727.8 317.8L726.7 322.5ZM741.4 321L747.9 320.1L746.8 324.7ZM774.7 324L780.9 321.8L780.7 326.6ZM786.6 325.2L792.5 322.3L792.8 327.1ZM804.7 325.2L810.2 321.6L811.2 326.3ZM820.8 324.8L826 320.8L827.3 325.4ZM833.7 325.5L838.8 321.4L840.3 326ZM514.6 331.1L521.1 330.1L520 334.8ZM569.1 334.2L575.4 332.4L574.9 337.2ZM603.8 335.2L609.7 332.3L610.1 337.1ZM636.5 334.7L642 331.2L642.9 335.9ZM656 335.3L661.5 331.7L662.5 336.5ZM673.7 333.5L679.4 330.3L680 335ZM685.8 334.3L691.7 331.5L692 336.3ZM702.8 336L709 333.8L708.8 338.6ZM717.7 333.3L724.1 331.7L723.5 336.5ZM735.6 330.7L742 329.5L741.2 334.2ZM754 331.2L760.4 329.7L759.7 334.4ZM770.2 332.9L776.4 330.9L776.1 335.6ZM790.3 334.8L796.2 331.9L796.6 336.7ZM820.2 336L825.7 332.4L826.7 337.1ZM848.7 335.2L854.2 331.6L855.1 336.4Z" fill="#3a2b27" fill-opacity="0.61"/>
<path d="M226 66 L363 66 L363 72 L400 86 L432 101 L447 113 L447 116 L420 107 L380 102 L320 98 L280 94 L262 90 L253 89 L248 95 L240 95 L232 90 L227 83 L226 72 Z" fill="#cfd0bc"/>
<path d="M253 94C254.5 94.2 257.5 94.2 262 95C266.5 95.8 270.3 97.7 280 99C289.7 100.3 303.3 101.7 320 103C336.7 104.3 363.3 105.5 380 107C396.7 108.5 409.2 109.7 420 112C430.8 114.3 438 116.2 445 121C452 125.8 457.5 134.3 462 141C466.5 147.7 469.3 154.5 472 161C474.7 167.5 477 176.8 478 180" fill="none" stroke="#dcb8a8" stroke-width="9" opacity="0.6" filter="url(#blur3)"/>
<path d="M113 66C131.8 66 207.2 63.3 226 66C244.8 68.7 225 77.8 226 82C227 86.2 229.7 88.7 232 91C234.3 93.3 237.7 93.8 240 96C242.3 98.2 244.8 100 246 104C247.2 108 247.8 114.5 247 120C246.2 125.5 243.8 131.5 241 137C238.2 142.5 234.5 147.6 230 153C225.5 158.4 219.4 164.6 214 169.5C208.6 174.4 203.1 178.7 197.6 182.7C192.1 186.7 184.3 190.9 181 193.6C177.7 196.3 179.8 198.9 178 199C176.2 199.1 175.8 194.3 170 194C164.2 193.7 152.5 195.8 143 197C133.5 198.2 118 200.3 113 201Z" fill="url(#gGreen)"/>
<path d="M244 98C245 99.3 248.8 102 250 106C251.2 110 251.8 116.5 251 122C250.2 127.5 247.8 133.5 245 139C242.2 144.5 238.5 149.6 234 155C229.5 160.4 223.4 166.6 218 171.5C212.6 176.4 207.1 180.7 201.6 184.7C196.1 188.7 187.8 193.8 185 195.6" fill="none" stroke="#d9b5a6" stroke-width="7" opacity="0.5" filter="url(#blur3)"/>
<path d="M363 66C503.2 65 1063.8 42.5 1204 66C1344.2 89.5 1261.3 183.5 1204 207C1146.7 230.5 944 207.1 860 207C776 206.9 736.7 206.8 700 206.5C663.3 206.2 663.3 206.9 640 205C616.7 203.1 583.3 199.2 560 195C536.7 190.8 513.3 183 500 180C486.7 177 484.7 181.2 480 177C475.3 172.8 475 162 472 155C469 148 466.2 141.5 462 135C457.8 128.5 452 121.7 447 116C442 110.3 439.8 106 432 101C424.2 96 411.5 90.8 400 86C388.5 81.2 369.2 75.3 363 72C356.8 68.7 222.8 67 363 66Z" fill="url(#gGreen2)"/>
<path d="M445 115C447.8 118.3 457.5 128.3 462 135C466.5 141.7 469.3 148.2 472 155C474.7 161.8 473.3 171.5 478 176C482.7 180.5 496.3 181 500 182" fill="none" stroke="#6f6a55" stroke-width="5" opacity="0.35" filter="url(#blur3)"/>
<path d="M610 203C611.7 202.3 645 205.3 660 206C675 206.7 666.7 206.8 700 207C733.3 207.2 776 207.4 860 207.5C944 207.6 1146.7 203.2 1204 207.5C1261.3 211.8 1221.3 229.2 1204 233.5C1186.7 237.8 1134 233.1 1100 233C1066 232.9 1028.3 232.7 1000 233C971.7 233.3 947.5 233.8 930 235C912.5 236.2 904.2 238 895 240C885.8 242 880.8 245.6 875 247C869.2 248.4 864.5 249 860 248.5C855.5 248 852.2 246.6 848 244C843.8 241.4 840.5 236.7 835 233C829.5 229.3 822.5 224.8 815 222C807.5 219.2 809.2 217.5 790 216C770.8 214.5 723.3 214 700 213C676.7 212 665 211.7 650 210C635 208.3 608.3 203.7 610 203Z" fill="#c9ad89"/>
<ellipse cx="850" cy="222" rx="25" ry="12" fill="#9c8a6e" opacity="0.5" filter="url(#blur6)"/>
<path d="M640 206 C700 207.2 800 207.6 1204 207.6" fill="none" stroke="#3b3a30" stroke-width="1.3" opacity="0.8"/>
<path d="M790 216C794.2 217 807.5 219.2 815 222C822.5 224.8 829.5 229.3 835 233C840.5 236.7 843.8 241.4 848 244C852.2 246.6 855.5 248 860 248.5C864.5 249 869.2 248.4 875 247C880.8 245.6 885.8 242 895 240C904.2 238 912.5 236.2 930 235C947.5 233.8 971.7 233.3 1000 233C1028.3 232.7 1066 232.9 1100 233C1134 233.1 1186.7 233.4 1204 233.5" fill="none" stroke="#5a4a40" stroke-width="1" opacity="0.6"/>
<path d="M509 279C506.7 280.5 498.5 284.5 495 288C491.5 291.5 489.3 295.5 488 300C486.7 304.5 485.7 310.8 487 315C488.3 319.2 487.2 322.7 496 325C504.8 327.3 522.7 327.7 540 329C557.3 330.3 583.3 332 600 333C616.7 334 633.3 334.7 640 335" fill="none" stroke="#c9ad89" stroke-width="5" stroke-linecap="round"/>
<ellipse cx="509" cy="279" rx="5" ry="4" fill="#c9ad89"/>
<path d="M612 302 C614 318 618 326 630 329 L720 327 C730 323 736 314 737 304 C733 316 726 320 716 320 L632 322 C622 320 617 314 612 302 Z" fill="#c9ad89"/>
<path d="M113 166C119.2 165.2 138.8 163.2 150 161C161.2 158.8 170.8 156.5 180 153C189.2 149.5 198 145.2 205 140C212 134.8 217.5 128.7 222 122C226.5 115.3 230 106.2 232 100C234 93.8 233.7 87.5 234 85" fill="none" stroke="#f4efe8" stroke-width="1" opacity="0.75"/>
<path d="M113 180.6C119.2 179.7 138 177.6 150 175C162 172.4 175 169.2 185 165C195 160.8 202.8 155.8 210 150C217.2 144.2 223.2 137 228 130C232.8 123 236.8 114.3 239 108C241.2 101.7 240.7 94.7 241 92" fill="none" stroke="#f4efe8" stroke-width="1" opacity="0.75"/>
<path d="M113 196C119.2 195.5 140.2 194 150 193C159.8 192 168.3 190.5 172 190" fill="none" stroke="#f4efe8" stroke-width="1" opacity="0.75"/>
<path d="M198 222C200.8 217.5 208 205.3 215 195C222 184.7 232.8 170.8 240 160C247.2 149.2 252.7 136.2 258 130C263.3 123.8 260 124.3 272 123C284 121.7 308.7 121.8 330 122C351.3 122.2 383.3 123 400 124C416.7 125 421.7 124.5 430 128C438.3 131.5 445.3 138 450 145C454.7 152 458 162.2 458 170C458 177.8 454.3 187.3 450 192C445.7 196.7 437 198.3 432 198C427 197.7 423.3 194.3 420 190C416.7 185.7 415 176.7 412 172C409 167.3 403.7 163.7 402 162" fill="none" stroke="#f4efe8" stroke-width="1" opacity="0.75"/>
<path d="M113 213C117.5 212.2 132.2 209.2 140 208C147.8 206.8 155 204.8 160 206C165 207.2 167.5 209.3 170 215C172.5 220.7 174 234.2 175 240C176 245.8 175.2 251.7 176 250C176.8 248.3 176.8 237 180 230C183.2 223 188.3 214.7 195 208C201.7 201.3 212.5 195.5 220 190C227.5 184.5 236.7 177.5 240 175" fill="none" stroke="#f4efe8" stroke-width="1" opacity="0.75"/>
<path d="M250 95C253.3 95.2 258.3 95 270 96C281.7 97 301.7 99.5 320 101C338.3 102.5 361.7 103.2 380 105C398.3 106.8 417.5 108.2 430 112C442.5 115.8 450.8 125.3 455 128" fill="none" stroke="#f4efe8" stroke-width="1" opacity="0.75"/>
<path d="M470 160C478.3 161 498.3 164.2 520 166C541.7 167.8 570 169.9 600 171C630 172.1 599.3 172.2 700 172.5C800.7 172.8 1120 172.5 1204 172.5" fill="none" stroke="#f4efe8" stroke-width="1" opacity="0.75"/>
<path d="M480 178C493.3 179 531.7 182.3 560 184C588.3 185.7 610 187.2 650 188C690 188.8 707.7 188.4 800 188.5C892.3 188.6 1136.7 188.5 1204 188.5" fill="none" stroke="#f4efe8" stroke-width="1" opacity="0.75"/>
<path d="M480 205C483.3 204.2 493.3 200 500 200C506.7 200 510 203 520 205C530 207 538.3 210.2 560 212C581.7 213.8 616.7 215 650 216C683.3 217 735 217 760 218C785 219 793.3 221.3 800 222" fill="none" stroke="#f4efe8" stroke-width="1" opacity="0.75"/>
<path d="M870 238C875 237.5 878.3 235.6 900 235C921.7 234.4 949.3 234.5 1000 234.5C1050.7 234.5 1170 234.9 1204 235" fill="none" stroke="#f4efe8" stroke-width="1" opacity="0.75"/>
<path d="M113 65 L180 64 L226 67 L230 78 L222 80 L160 84 L113 87 Z" fill="#c8bfb9"/>
<path d="M113 87 L160 84 L222 80 L230 78 L229 89 L222 92 L160 95 L113 98 Z" fill="#a0958f"/>
<path d="M226 67 L250 70 L300 69 L363 68 L363 72 L300 72.5 L250 74 L226 72 Z" fill="#bfb7b1"/>
<path d="M363 67 L470 67 L520 64 L560 65 L700 65.5 L1204 66 L1204 85 L900 84.5 L700 84 L600 84 L530 80 L490 78 L475 80 L462 80 L440 74 L400 72 L363 72 Z" fill="#c8bfb9"/>
<path d="M363 72 L400 72 L440 74 L462 80 L475 80 L490 78 L530 80 L600 84 L700 84 L900 84.5 L1204 85 L1204 97.3 L900 97 L700 97 L600 96 L530 91 L490 87 L475 88 L462 89 L440 80 L400 76 L363 75 Z" fill="#a0958f"/>
<path d="M244 68 L252 74 L258 68" fill="none" stroke="#555" stroke-width="1.5" opacity="0.6"/>
</g>
<path d="M113 66C124.2 65.7 161.2 63.8 180 64C198.8 64.2 214 65.8 226 67C238 68.2 239.7 70.7 252 71C264.3 71.3 281.5 69.5 300 69C318.5 68.5 334.7 68.3 363 68C391.3 67.7 443.8 67.7 470 67C496.2 66.3 505 64.3 520 64C535 63.7 446 64.7 560 65C674 65.3 1096.7 65.8 1204 66" fill="none" stroke="#555" stroke-width="1.2"/>
<g clip-path="url(#clipBot)">
<rect x="113" y="378" width="1091" height="278" fill="url(#gAst2)"/>
<ellipse cx="300" cy="630" rx="70" ry="30" fill="#7c6d66" opacity="0.35" filter="url(#blur12)"/>
<ellipse cx="400" cy="630" rx="60" ry="30" fill="#6f6059" opacity="0.4" filter="url(#blur12)"/>
<ellipse cx="200" cy="600" rx="60" ry="50" fill="#a08b83" opacity="0.4" filter="url(#blur12)"/>
<ellipse cx="750" cy="600" rx="50" ry="60" fill="#867670" opacity="0.4" filter="url(#blur12)"/>
<ellipse cx="830" cy="630" rx="60" ry="25" fill="#6f615b" opacity="0.5" filter="url(#blur12)"/>
<ellipse cx="950" cy="600" rx="60" ry="50" fill="#9a8a82" opacity="0.35" filter="url(#blur12)"/>
<ellipse cx="1100" cy="600" rx="80" ry="50" fill="#9d8e86" opacity="0.3" filter="url(#blur12)"/>
<ellipse cx="300" cy="470" rx="120" ry="50" fill="#ba9285" opacity="0.5" filter="url(#blur12)"/>
<ellipse cx="640" cy="580" rx="60" ry="60" fill="#a88a80" opacity="0.3" filter="url(#blur12)"/>
<ellipse cx="880" cy="580" rx="40" ry="50" fill="#7e6f68" opacity="0.35" filter="url(#blur12)"/>
<ellipse cx="1010" cy="600" rx="30" ry="55" fill="#6a5b54" opacity="0.45" filter="url(#blur12)"/>
<ellipse cx="560" cy="600" rx="50" ry="40" fill="#9a8279" opacity="0.35" filter="url(#blur12)"/>
<ellipse cx="950" cy="648" rx="90" ry="14" fill="#5f524c" opacity="0.5" filter="url(#blur12)"/>
<ellipse cx="420" cy="648" rx="80" ry="12" fill="#5f524c" opacity="0.4" filter="url(#blur12)"/>
<path d="M568.4 529.3L567.4 532.6M663.5 530.4L667.6 531.4M732.6 529.3L732.2 533M766.7 529L763.8 531.7M798.8 530.5L795 530.7M399.6 540.1L403.4 538.2M571.8 538.1L569.7 541.7M585.6 543.8L583.6 540M599.2 544L599.8 540M612.9 540.2L614.7 536.3M630.4 542.8L632.4 540.1M644.1 542.5L647.9 540.4M657.2 542.4L661 542.5M679.2 539.8L682.2 543M711.8 540.3L712.5 544.4M745.1 540.6L743.8 544.5M760.3 536.5L758.2 539.5M775.9 538.3L773.1 540.2M795.8 538.7L792.3 539.1M810.7 543.2L807.4 541.5M826.8 540.2L825.2 536.6M991.8 539.5L989.8 542.5M121.1 555.2L117.5 552.9M403.6 553.2L401.2 550.9M560.1 551.1L558.1 554.8M580.8 554L577.7 552.7M595.2 556L594.4 551.9M607.1 551.7L607.6 547.7M622.2 556L623.2 551.7M636.4 553.3L638.9 549.6M652.1 549.8L655.3 548.8M670.6 550.8L673.2 553.2M740.2 547.5L739.1 551.3M758 549.5L756 552.8M773.4 549.7L770.1 552.6M786.2 550.2L782.9 551.5M807 550.2L803.9 548.7M820.8 553.8L819.2 550.4M832.9 554.4L832.8 549.9M983.1 549.3L982.3 553.2M997.7 552.3L995.4 556M1013 548.9L1009.7 551.9M576.2 565.1L571.8 565M592.6 566.3L590.6 563.4M605.9 567.1L604.6 563.3M639.5 567L639.1 563.3M658.1 561.1L662.4 562.2M675.9 559.3L676.8 562.5M748.8 559L746.9 562.8M765.4 559.4L762.9 562.4M778.6 560.4L775.9 562.1M797.3 565.3L793.9 565M811.9 564.1L809.4 561.7M1001.9 560.1L999.3 563.8M648.3 577.5L645.2 575.5M659.1 575.2L655.4 574.7M676.6 573.8L673.8 576.5M768.1 574.2L764.4 576.7M784.6 574.7L780.6 575.8M907 588.5L903.3 588.6M1122.3 599.4L1119.8 597.2M1108.1 605.5L1108.4 609.9M1121.5 610.4L1122 605.9M1108.4 618.5L1111.6 620.3M1122.4 620.6L1125.2 617.7M1123.5 646.8L1126.7 644.9" stroke="#3a2b27" stroke-opacity="0.27" stroke-width="0.80" fill="none"/><path d="M567.1 533.8L567 529.9L569.3 530.6ZM668.7 531.7L664.8 532L665.4 529.7ZM732.1 534.2L731.3 530.4L733.6 530.6ZM762.9 532.5L764.8 529.1L766.5 530.8ZM793.8 530.8L797.4 529.4L797.5 531.8ZM404.5 537.7L401.7 540.4L400.6 538.3ZM569.1 542.7L569.9 538.9L572 540.1ZM583 538.9L585.8 541.6L583.7 542.7ZM600 538.8L600.6 542.6L598.2 542.3ZM615.2 535.2L614.7 539.1L612.6 538.1ZM633.2 539.2L631.8 542.9L629.9 541.4ZM648.9 539.8L646.3 542.6L645.1 540.5ZM662.2 542.5L658.5 543.6L658.6 541.2ZM683.1 543.8L679.6 542L681.4 540.3ZM712.7 545.6L710.9 542.2L713.3 541.8ZM743.5 545.6L743.5 541.8L745.8 542.5ZM757.5 540.5L758.7 536.8L760.6 538.2ZM772.1 540.9L774.5 537.8L775.8 539.8ZM791.1 539.2L794.7 537.6L794.9 540ZM806.3 541L810.2 541.6L809.1 543.7ZM824.8 535.5L827.3 538.4L825.1 539.3ZM989.2 543.5L990.2 539.7L992.2 541ZM116.5 552.3L120.2 553.2L118.9 555.3ZM400.3 550.1L403.8 551.8L402.2 553.5ZM557.6 555.8L558.2 552L560.4 553.1ZM576.6 552.2L580.5 552.6L579.5 554.8ZM594.1 550.7L596 554.1L593.7 554.6ZM607.7 546.6L608.5 550.4L606.1 550.1ZM623.5 550.5L623.8 554.4L621.5 553.8ZM639.5 548.6L638.5 552.4L636.5 551.1ZM656.5 548.5L653.3 550.7L652.6 548.4ZM674.1 554L670.6 552.4L672.2 550.6ZM738.8 552.5L738.6 548.6L740.9 549.2ZM755.3 553.9L756.2 550.1L758.3 551.3ZM769.2 553.4L771.2 550.1L772.7 551.9ZM781.8 551.9L784.8 549.5L785.7 551.7ZM802.8 548.2L806.7 548.7L805.7 550.9ZM818.7 549.3L821.4 552.2L819.2 553.2ZM832.8 548.7L834.1 552.3L831.7 552.4ZM982 554.4L981.6 550.5L984 551ZM994.8 557L995.7 553.3L997.7 554.5ZM1008.9 552.7L1010.8 549.3L1012.4 551.1ZM570.6 565L574.3 563.9L574.3 566.3ZM589.9 562.4L593 564.8L591 566.1ZM604.2 562.1L606.5 565.2L604.3 566ZM638.9 562.1L640.5 565.7L638.1 565.9ZM663.5 562.4L659.6 562.8L660.2 560.4ZM677.2 563.6L675 560.4L677.3 559.7ZM746.4 563.9L746.9 560.1L749.1 561.1ZM762.1 563.3L763.6 559.7L765.4 561.3ZM774.9 562.8L777.4 559.8L778.6 561.8ZM792.8 564.9L796.5 564L796.3 566.4ZM808.5 560.9L812 562.5L810.4 564.3ZM998.7 564.8L999.8 561.1L1001.7 562.4ZM644.2 574.9L648 575.9L646.7 577.9ZM654.2 574.6L658 573.8L657.7 576.2ZM672.9 577.4L674.7 573.9L676.4 575.7ZM763.3 577.3L765.8 574.3L767.1 576.3ZM779.4 576.1L782.7 574L783.3 576.3ZM902.1 588.7L905.8 587.4L905.9 589.7ZM1118.9 596.4L1122.5 597.9L1120.9 599.8ZM1108.5 611.1L1107 607.5L1109.4 607.3ZM1122.2 604.7L1122.9 608.5L1120.5 608.2ZM1112.6 620.8L1108.8 620.1L1110 618ZM1126 616.8L1124.3 620.3L1122.6 618.7ZM1127.7 644.3L1125.1 647.2L1123.9 645.2Z" fill="#3a2b27" fill-opacity="0.27"/><path d="M154.7 440.1L150.2 437.5M167.5 436.3L162.7 433.2M185.7 440.3L180.4 436M203 438.6L199 434.9M219.5 439.7L214.9 434.9M235.5 441.4L230.7 435.4M248.2 437.9L244.8 433M264.3 438.7L261.8 433.6M282.7 439.6L281.2 433.1M300.4 442.1L301 435.1M316.2 437.2L318.6 431M327 441L330.8 435M345.2 439.6L351.6 434M359.8 440.1L367.5 435.8M471.3 434.1L476.1 438.4M156.4 450.5L151.7 447.2M173.3 449.4L167.8 445M188.2 450.7L184.1 446.8M207.7 451.7L202.3 445.6M221.5 451.2L216.6 445.1M242.7 453.3L238.2 446M259.7 452.4L256.7 445.6M269.7 450.6L267.5 444M289 453.1L288.5 444.3M334.8 450.2L340.4 443.4M159.5 463.8L154.5 459.5M173.9 460.8L168.7 455.9M191.1 460.3L185.8 454.6M209.1 461.7L203.5 454.7M240.9 463.3L236.6 455.6M152.9 474.1L148.1 470M168.4 475.9L163.4 470.8M158.3 483.4L153.5 478.6M127.4 508L122.6 504.3M141.9 508L136.4 502.9M153.3 506.4L147.3 500.2M128.7 516.6L124.6 513.3M146.4 520.5L141.5 515.6M162.3 518.4L156.8 512M123.1 530.2L117.9 526.5M136.3 531.3L132 527.6M156.6 531.6L151.4 525.9M170.3 530.2L165 523.6M546.5 527.4L545.7 534.2M125.3 541.9L120.4 538.3M135.9 541.3L131.6 537.7M155.6 543L150.8 538M172.5 542.9L167.3 536.5M412.4 535.9L417.6 540.8M537.8 533.4L536.7 542.3M553.8 539L552.3 544.7M695.2 535.8L697.4 540.1M727.5 538.7L727.3 543.7M840.4 542.8L841 538.1M852.7 543.3L855.2 538.1M869.9 540.5L874.9 536M881.2 539.7L887.7 536.3M897.4 540.3L904.8 539.6M911.2 538.6L918.5 540.4M940.5 539.6L945.6 545.6M954.4 537.5L956.7 542.2M969.1 539.8L969.7 544.8M135 552.2L130 548.2M150.4 556.2L144.7 550.8M163.1 555.6L157.5 549.5M420.6 546.1L420 553.2M689 547.6L691 552.3M707.5 550.1L708 556.4M719.1 547.3L719.1 552.6M847.4 557.1L849.1 551.2M861 554L865.3 547.2M950.2 549L953.7 556.2M968 548.5L969 555M1026.2 551.6L1021.8 555.5M1045.2 548.3L1039.7 553.1M122.5 566.3L118.1 564M133.7 565.2L128.3 561.6M154 564L149.1 559.6M170.7 566L164.6 559.5M182.3 565.8L177.2 559.8M412.3 560.8L404.9 562.4M559.9 564.1L556.7 567.3M623.1 565.3L622.7 560.7M694.1 563L693.4 567.5M711.9 558.4L711.3 564.7M727.4 562.2L725.3 568.5M828.5 567.1L827.1 561.8M842.2 567.7L842.8 558.8M970.9 557.1L971.2 565.8M986 562.7L984.2 568M1019.1 562.2L1014.2 567.2M1031.8 559.6L1026.6 565.1M1046.3 562.6L1040.9 568.6M1194.7 567.8L1190.2 561.9M130.2 577.6L125.6 575.6M145.4 577.8L140.4 574.9M156.6 574.8L151.2 570.7M175.7 576.9L170.4 572.1M552 569.5L546.4 575.6M568.3 576.4L562.2 578.1M583.4 574.8L579.1 573M600.2 575.6L596.9 571.7M611.8 579.1L607.7 574M627.8 574.6L625.4 570.4M693.4 574.2L689.7 579.5M707 571.9L703.8 577.9M723.8 570.2L719.9 577.1M740.7 573.5L736.3 579.1M757.8 572.2L753 576.7M805.8 577.1L801.4 575.5M822.7 575.8L819.7 571.6M837.8 580.5L835.4 573.2M897.3 574.8L901.6 572.6M911.6 573.4L915.2 576.7M980.7 572.2L977.7 579.6M996.4 574L992.7 578.8M1020.2 574.4L1014.8 579.5M1032 572.9L1026 579.1M1119.8 575.6L1111 575.5M1192 576.6L1187 569.2M125.1 585.4L119.7 583.8M143.1 589.5L135.7 586.5M158 586.3L150.7 582.2M172.7 588.4L166.9 584.5M187.4 589.2L180.5 583.7M202.5 588.8L196.2 582.8M575.3 587.9L568.8 587.5M589.5 586.2L583.3 583.3M605.8 590.9L598.5 585.8M642 589.6L635.5 586.2M654 588.7L647.6 587.2M671 587L665.6 588.4M683.3 582.3L677 586.4M701.5 583.3L695.7 588.8M746.3 585.6L740.8 590M760.3 586.2L754.8 589.6M779.4 584.8L774.1 586.4M796.3 588.4L790.4 588.1M814.4 588.2L807.8 584.5M827.1 587.6L822.1 581.6M891.7 590L889.7 584.3M923.9 581.5L922.2 589.8M995.8 581.1L990.8 586.8M1010.8 586L1005.4 590.5M1025.8 581.2L1019.8 586.8M1108.3 585.5L1101 590.3M1121.7 587L1113.5 585.7M126.1 598.4L117.9 596.7M141.3 597.8L135 595.9M158.1 599.6L150.2 596.6M190.4 600.5L183.5 596.4M663.6 600.2L654.8 600.2M779.4 594.8L772.9 596.4M793.9 598.8L786 599M805.7 597L798.2 595.3M823.8 597.8L817.6 593.2M902 597.8L895 594.9M1002.4 593L995.8 598.3M1107.3 596.9L1104.5 600.6M1137.7 600.3L1134.1 592.6M1194.9 603.9L1190.7 596M140.3 611L132.7 609.7M153.9 610.2L146.7 608.5M175.2 612.5L168.1 610.3M208.7 612.7L201.3 608.9M1018.5 608.2L1011.4 612.6M1032.1 604.8L1025.3 610.6M1095.4 603.1L1095 611.7M1141.1 611.6L1140.4 602.7M1183.3 613.1L1180.7 605.7M1200.1 612.3L1196.5 606.7M181.1 620.5L173.3 618.4M1045.6 618.1L1039.4 624.4M1089 617.4L1091.5 625.6M1175.1 622.7L1173.4 614.9M1189.9 626.9L1186.2 619.1M1060.4 626.3L1059.1 634.9M1076.3 629.2L1077.5 636.5M1089.9 629.4L1093.2 635.5M1100.7 629.6L1105.4 633.5M1119.4 632.2L1124 630.1M1136 637L1139.1 631.8M1154.1 637.9L1155.3 629.3M1170.4 638.5L1169 629.6M1187.8 634.7L1184.9 629.4M1201.1 635.2L1197 631.3M1059.8 642.5L1058 647.7M1075.5 643.3L1075.8 649.4M1092.1 642.4L1094.9 646.7M1109.2 641.1L1113.6 642M1137.5 647.6L1140.4 642.4M1156.2 645.2L1156.5 639.4M1171 645.5L1169.3 639.1M1187.4 648.3L1183.4 643.7" stroke="#3a2b27" stroke-opacity="0.35" stroke-width="0.92" fill="none"/><path d="M149.2 436.8L153.7 437.7L152.2 440.3ZM161.7 432.6L166.1 433.6L164.5 436.2ZM179.5 435.3L183.8 436.8L181.9 439.1ZM198.2 434.1L202.3 435.9L200.3 438.2ZM214.1 434L218.1 436.1L216 438.1ZM230 434.4L233.8 436.9L231.5 438.7ZM244.1 432.1L247.8 434.7L245.3 436.4ZM261.3 432.5L264.5 435.7L261.8 437ZM281 431.9L283.4 435.8L280.5 436.4ZM301.2 433.9L302.3 438.3L299.3 438.1ZM319 429.9L318.9 434.4L316.1 433.4ZM331.5 434L330.5 438.4L327.9 436.8ZM352.5 433.2L350.2 437.2L348.3 434.9ZM368.5 435.2L365.5 438.6L364 436ZM477 439.2L472.8 437.4L474.8 435.2ZM150.7 446.5L155.1 447.7L153.4 450.2ZM166.9 444.2L171.2 445.8L169.3 448.1ZM183.2 446L187.4 447.9L185.3 450ZM201.5 444.8L205.5 447L203.2 449ZM215.9 444.1L219.7 446.6L217.4 448.4ZM237.6 445L241.1 447.9L238.5 449.4ZM256.2 444.5L259.3 447.8L256.5 449ZM267.1 442.9L269.9 446.5L267.1 447.5ZM288.4 443.1L290.2 447.3L287.2 447.4ZM341.2 442.4L339.6 446.7L337.3 444.8ZM153.6 458.8L157.9 460.4L155.9 462.7ZM167.8 455L172 456.9L169.9 459.1ZM185 453.7L189 455.8L186.8 457.9ZM202.8 453.7L206.6 456.2L204.3 458ZM236 454.6L239.4 457.6L236.8 459ZM147.2 469.2L151.5 470.9L149.5 473.2ZM162.6 469.9L166.7 472L164.5 474.1ZM152.6 477.7L156.7 479.7L154.6 481.8ZM121.6 503.5L125.9 504.9L124.1 507.3ZM135.5 502.1L139.7 503.9L137.6 506.1ZM146.5 499.4L150.5 501.4L148.4 503.5ZM123.7 512.6L128 514.1L126.1 516.4ZM140.6 514.8L144.7 516.7L142.6 518.9ZM156 511.1L160 513.4L157.7 515.3ZM116.9 525.8L121.3 527.1L119.5 529.5ZM131.1 526.8L135.4 528.5L133.4 530.7ZM150.6 525L154.6 527.2L152.4 529.2ZM164.2 522.7L168.1 525.1L165.8 527ZM545.6 535.4L544.6 530.9L547.6 531.3ZM119.4 537.6L123.8 538.9L122 541.4ZM130.7 536.9L135 538.5L133 540.8ZM150 537.1L154.1 539.2L151.9 541.3ZM166.5 535.6L170.4 538L168.1 539.9ZM418.5 541.6L414.3 539.8L416.4 537.6ZM536.5 543.5L535.6 539.1L538.6 539.5ZM552 545.9L551.7 541.4L554.6 542.1ZM697.9 541.2L694.6 538L697.3 536.7ZM727.2 544.9L725.9 540.6L728.9 540.7ZM841.2 536.9L842.1 541.4L839.1 541ZM855.8 537L855.2 541.5L852.5 540.2ZM875.8 535.2L873.6 539.2L871.6 537ZM888.7 535.8L885.6 539.1L884.2 536.4ZM906 539.5L901.9 541.4L901.6 538.4ZM919.7 540.7L915.2 541.1L915.9 538.2ZM946.3 546.5L942.4 544.2L944.7 542.3ZM957.2 543.3L954 540.1L956.7 538.8ZM969.8 546L967.8 541.9L970.8 541.5ZM129 547.4L133.3 548.9L131.5 551.3ZM143.8 550L148 551.9L145.9 554.1ZM156.7 548.6L160.7 550.8L158.5 552.8ZM419.9 554.4L418.8 549.9L421.8 550.2ZM691.4 553.4L688.4 550L691.2 548.9ZM708.2 557.6L706.3 553.5L709.3 553.2ZM719.1 553.8L717.6 549.5L720.6 549.5ZM849.4 550L849.7 554.6L846.8 553.7ZM866 546.2L864.9 550.6L862.4 549ZM954.2 557.3L951 554.1L953.7 552.8ZM969.2 556.2L967.1 552.2L970 551.7ZM1020.9 556.3L1023.1 552.3L1025.1 554.6ZM1038.8 553.9L1041.1 550L1043 552.2ZM117.1 563.4L121.6 564.1L120.2 566.7ZM127.4 561L131.8 562.1L130.1 564.6ZM148.2 558.8L152.4 560.6L150.4 562.8ZM163.8 558.7L167.8 560.8L165.7 562.8ZM176.4 558.9L180.3 561.2L178 563.1ZM403.8 562.7L407.6 560.3L408.3 563.2ZM555.8 568.2L557.8 564.1L559.9 566.2ZM622.6 559.5L624.5 563.7L621.5 563.9ZM693.3 568.7L692.4 564.3L695.4 564.7ZM711.2 565.9L710.1 561.5L713.1 561.8ZM724.9 569.6L724.9 565.1L727.7 566ZM826.8 560.6L829.4 564.4L826.5 565.2ZM842.9 557.6L844.1 562L841.1 561.8ZM971.3 567L969.6 562.7L972.6 562.6ZM983.8 569.2L983.8 564.6L986.6 565.6ZM1013.4 568L1015.3 563.9L1017.4 566ZM1025.7 566L1027.6 561.8L1029.8 563.9ZM1040.1 569.5L1041.9 565.3L1044.1 567.3ZM1189.5 560.9L1193.3 563.5L1190.9 565.3ZM124.5 575.1L129 575.5L127.8 578.2ZM139.4 574.3L143.8 575.2L142.3 577.8ZM150.2 570L154.6 571.4L152.8 573.8ZM169.5 571.3L173.7 573.1L171.7 575.3ZM545.6 576.5L547.4 572.3L549.6 574.3ZM561.1 578.4L564.8 575.8L565.6 578.7ZM578 572.6L582.6 572.8L581.4 575.6ZM596.1 570.8L600 573.1L597.8 575ZM607 573.1L610.8 575.5L608.5 577.4ZM624.9 569.4L628.3 572.4L625.7 573.8ZM689 580.5L690.2 576.1L692.7 577.8ZM703.2 579L703.9 574.5L706.6 575.9ZM719.4 578.1L720.1 573.7L722.8 575.1ZM735.6 580L737.1 575.7L739.4 577.6ZM752.1 577.5L754.2 573.5L756.3 575.7ZM800.3 575L804.8 575.1L803.8 577.9ZM819 570.7L822.7 573.3L820.3 575ZM835 572L837.8 575.7L834.9 576.6ZM902.7 572.1L899.6 575.4L898.2 572.7ZM916.1 577.5L911.9 575.7L913.9 573.5ZM977.3 580.8L977.5 576.2L980.3 577.3ZM992 579.8L993.4 575.4L995.8 577.2ZM1013.9 580.4L1016 576.3L1018 578.5ZM1025.2 580L1027.1 575.8L1029.3 577.9ZM1109.8 575.5L1114.1 574L1114.1 577ZM1186.3 568.2L1190 571L1187.5 572.6ZM118.6 583.4L123.1 583.2L122.2 586.1ZM134.6 586.1L139.1 586.3L138 589.1ZM149.7 581.6L154.2 582.4L152.7 585ZM165.9 583.9L170.3 585L168.7 587.5ZM179.6 583L183.9 584.5L182 586.8ZM195.3 582L199.5 583.9L197.4 586ZM567.6 587.5L572 586.2L571.8 589.2ZM582.2 582.8L586.8 583.3L585.5 586ZM597.5 585.1L601.9 586.3L600.2 588.8ZM634.4 585.7L638.9 586.3L637.6 589ZM646.5 587L651 586.5L650.3 589.4ZM664.4 588.7L668.2 586.2L668.9 589.1ZM676 587.1L678.8 583.4L680.4 585.9ZM694.9 589.7L696.9 585.6L699 587.8ZM739.9 590.8L742.3 586.9L744.2 589.2ZM753.8 590.2L756.7 586.7L758.2 589.3ZM773 586.7L776.7 584.1L777.5 586.9ZM789.2 588.1L793.6 586.8L793.5 589.8ZM806.8 583.9L811.2 584.7L809.8 587.3ZM821.3 580.7L825.2 583L822.9 584.9ZM889.3 583.1L892.1 586.7L889.3 587.7ZM922 590.9L921.4 586.4L924.3 587ZM990.1 587.7L991.7 583.5L994 585.4ZM1004.5 591.3L1006.8 587.4L1008.8 589.7ZM1018.9 587.6L1021 583.6L1023.1 585.8ZM1100 590.9L1102.8 587.3L1104.4 589.8ZM1112.3 585.6L1116.7 584.7L1116.3 587.7ZM116.7 596.5L121.3 595.9L120.7 598.8ZM133.8 595.6L138.4 595.4L137.6 598.3ZM149.1 596.2L153.7 596.3L152.6 599.1ZM182.5 595.8L186.9 596.7L185.4 599.2ZM653.6 600.2L657.9 598.7L657.9 601.7ZM771.8 596.7L775.6 594.2L776.3 597.1ZM784.8 599L789.1 597.4L789.1 600.4ZM797.1 595L801.6 594.5L800.9 597.4ZM816.6 592.5L821 593.9L819.2 596.3ZM893.9 594.4L898.4 594.7L897.3 597.4ZM994.9 599.1L997.3 595.2L999.2 597.5ZM1103.8 601.6L1105.2 597.3L1107.6 599ZM1133.6 591.5L1136.8 594.8L1134.1 596ZM1190.2 595L1193.5 598.1L1190.9 599.5ZM131.6 609.5L136.1 608.8L135.5 611.7ZM145.5 608.2L150.1 607.8L149.4 610.7ZM167 609.9L171.5 609.8L170.6 612.6ZM200.2 608.4L204.8 609L203.4 611.7ZM1010.4 613.2L1013.2 609.7L1014.8 612.2ZM1024.4 611.4L1026.7 607.4L1028.7 609.7ZM1095 612.9L1093.6 608.5L1096.6 608.6ZM1140.3 601.6L1142.1 605.7L1139.1 605.9ZM1180.3 604.5L1183.2 608.1L1180.3 609.1ZM1195.8 605.7L1199.4 608.5L1196.9 610.2ZM172.2 618.1L176.7 617.7L175.9 620.6ZM1038.5 625.3L1040.4 621.2L1042.6 623.3ZM1091.9 626.8L1089.2 623.1L1092.1 622.2ZM1173.2 613.7L1175.5 617.6L1172.6 618.2ZM1185.7 618L1188.9 621.2L1186.2 622.5ZM1059 636.1L1058.1 631.6L1061.1 632ZM1077.7 637.7L1075.5 633.7L1078.5 633.2ZM1093.8 636.6L1090.4 633.5L1093.1 632.1ZM1106.3 634.2L1102 632.7L1103.9 630.4ZM1125.1 629.6L1121.8 632.7L1120.6 630ZM1139.7 630.7L1138.8 635.2L1136.2 633.7ZM1155.4 628.1L1156.3 632.6L1153.4 632.2ZM1168.8 628.4L1171 632.5L1168 632.9ZM1184.4 628.4L1187.7 631.5L1185.1 632.9ZM1196.2 630.5L1200.3 632.4L1198.3 634.6ZM1057.6 648.9L1057.6 644.3L1060.4 645.3ZM1075.9 650.6L1074.1 646.4L1077.1 646.2ZM1095.6 647.7L1091.9 645L1094.4 643.3ZM1114.8 642.2L1110.3 642.9L1110.9 639.9ZM1141 641.3L1140.2 645.8L1137.6 644.4ZM1156.6 638.2L1157.8 642.6L1154.8 642.4ZM1169 637.9L1171.6 641.7L1168.7 642.5ZM1182.6 642.8L1186.6 645.1L1184.3 647Z" fill="#3a2b27" fill-opacity="0.35"/><path d="M373.1 437.2L383.8 433.6M389.6 438.6L402.6 437M406.4 436.2L417.6 436.9M423.2 435.4L433.5 438M443 435.8L453.5 441M457.9 435.8L466.3 441.7M304.6 450.1L306.4 441M320.7 452.8L325.4 443.6M347.4 450.5L357 442.7M364.2 450.2L375.5 444.7M410.1 445L421.1 446.2M439.2 445.3L450.2 450.5M455 442.9L465.6 450.1M470.6 444.1L478.5 451.5M222.1 463.8L215.8 455M255.4 464.9L251.7 456.3M265.9 465.2L262.9 455.7M280.5 466.4L279.1 456.9M291.3 464.8L291.4 453.6M306.5 466.4L309.2 455.1M320 464.6L325.9 452.6M330.2 465.9L337 455.8M348.8 462L358.5 454M452.6 453.6L462.7 460.5M472 452.9L481.4 462.4M185.8 474.4L179.4 467M204.7 473.8L198.4 465.4M216.9 477.5L211.1 468.7M236.6 478L231.2 468M248.5 476.9L243.4 465.7M266.4 477.3L263.2 466.1M281.8 476.1L280.4 463.9M474.2 466.5L481.6 475.1M170 488L163.8 481.1M187.3 488.6L180.6 480.1M206.3 486.6L200.6 478.2M217.5 485L211.6 475.6M281 486.6L279.5 473.7M160.1 499.3L154 492.7M178.1 499.1L171.6 491M190.7 498.6L185.1 490.9M209.3 500.8L202.2 489.6M238 502.1L232.4 490.4M174.6 509.3L167.7 500.6M191.5 508.9L185.3 500M222.9 511.3L217.1 500.7M173.7 520.6L168.2 513.5M188.3 522L182.7 514.1M399.3 518.5L411.2 518.1M183.3 532.4L177.2 524M216 535L209.5 523.8M390.5 532.8L399.7 527M406.2 528.3L416.2 531.2M188.9 543.7L182.8 535.2M200.2 543.3L194.3 534.5M230.9 547.8L224.6 535.9M384.8 543L389.4 533.5M429.1 535.8L432.1 548.7M521.1 532.4L520.4 544.7M921.8 540.3L930.2 545M179.4 555.5L172.8 547.4M200 554.6L193.7 545.5M214 556L207.7 545.9M388.2 555.1L387 545.9M434.3 546.9L431.7 560.1M545.7 547.6L543.1 556.4M873.5 555.5L880.8 548.7M894.6 550.2L904.4 548.6M911.7 551.3L921.4 554.9M926.6 547.2L935 554.1M1058.1 547.2L1051 554.3M1092.1 547L1080.4 553.3M1113 552L1100.1 554.2M1157.5 556L1148.4 549.4M1172.4 556.3L1163.7 548.1M1188 556.3L1181.8 549.5M201.3 567.8L194.5 558.6M379.6 567.3L374 555.5M399.4 564.7L391.5 558.6M430.6 555.1L423.8 566.7M527.3 556.2L523.7 567.8M543 557.2L539.2 566.3M855.6 571.2L858.3 560M871.8 565.6L877.4 557.7M883.2 566.3L890.5 560.2M899.9 560.8L909.7 560.8M918.6 560.2L926.7 566.8M941.1 559.6L945.2 569.1M954.9 560.9L956.7 570.3M1067.7 558.6L1059.8 567.9M1103.3 560L1091.3 565.5M1120.5 562.1L1107.1 562.6M1133.4 565.7L1122.2 561.9M1152.6 568.6L1142.3 560.1M1183 567.7L1176.5 559.1M194.1 579.2L187.6 572.3M208.7 579.7L202.7 572.4M223.8 579.4L217.4 570.4M238.7 579L232.7 569.3M535.5 567L529.2 578M850.6 582.3L849.2 570M867.1 579.9L869.3 567.2M880.6 577.1L885 568M931 572.1L932.8 580.9M952.9 569.5L953 578.9M967.2 568.5L965.9 578.2M1050.3 569.9L1042.3 579.5M1068.3 568.2L1062 577.2M1085.3 572L1077.7 581M1133.7 576.1L1122.1 570.9M1147.7 577.5L1139.7 570M1178.1 577.1L1171.9 567.7M217 591.9L209.6 584.3M234.4 593.1L226.7 583.9M254.8 592.6L247.3 581.9M547.6 583.9L538.2 591.5M562.6 584.8L554.1 588.1M622.6 590.5L615.2 584.9M715 584.6L708.2 591.4M728.2 581.8L721.9 588.5M837 592.6L831.7 584.4M854.2 590.6L851 580.5M873.3 592.1L870.6 580.6M942.9 580.3L940.1 592.2M977.4 582.2L971.5 592.8M1044.4 580.6L1036.8 589.7M1075.8 581.7L1070.3 592.7M1094.3 583.2L1088.4 591.2M1138 588.1L1131.1 581.2M1180.8 590.2L1176.6 581.7M1196.2 589.9L1191.1 581.5M175 599.2L166.5 595M207.4 602.3L199.3 596.6M226.6 600L219.3 593.3M238.9 603.4L229.9 594.7M255.3 600.8L247.1 590.9M545.8 591.7L534.8 599.3M555.6 596.6L546.5 600.3M572.6 596.2L562.9 596.6M588 600.7L578.8 598M600.5 597.6L592.1 593.3M613.2 601.2L603.3 595.7M631.3 600.3L621.6 595.5M648.8 601.8L637.4 598.8M679.2 596.2L669 599M697 594.7L688.9 599.3M712.1 592.9L702.9 599.7M728.7 593L720 599.6M742.1 595.2L733.3 601M763.6 598L754.3 602.1M842.7 604L834.8 594.7M886.9 600L880.5 591.9M919 596.4L908.3 601.3M934.5 593.9L925.8 604.1M953.1 590.6L947 601.3M966.2 592.4L959.9 601.9M985.1 594.3L978.9 601M1021.4 594.8L1013.9 600.6M1032.1 596.6L1025.2 603M1047.1 591.9L1040.9 600M1061.7 592.5L1057.7 604.5M1074.2 594L1071.4 603.8M1091.9 593.8L1088.6 603.6M1154.6 604.6L1151 592.3M1164.2 606.6L1160.6 593.8M1177.7 602.6L1173.1 590.4M123.3 607.5L114.3 606.3M192.4 612.7L183.8 609.1M222.3 611L213.9 605.6M237.2 610.8L227.1 603M548.3 608.5L537 613.4M567.2 608.7L554.3 610.4M581.1 610.7L570 609.4M599.7 613.4L587.4 609.4M616 610.1L605.5 605.6M674.5 609.9L662.6 611.3M685.2 608.8L673.8 611.7M719.1 607.6L708.6 613M729.4 604.1L719.8 609.7M744.5 606.4L732.8 612.2M760.8 609.1L752.4 612.2M775.2 607.7L765.5 610.1M793.1 607.1L783.2 607.5M808.6 608L798.9 605.9M823.3 613.2L813.1 608.5M834.1 611.7L823.2 603.9M990.1 603.3L980.4 610.8M1004.2 604.3L996 609.6M1045.8 603.1L1039.3 611.2M1063.4 605L1061.6 614.2M1076.4 603.4L1075.3 615.8M1153.4 615.3L1152.6 605M1171.7 613.9L1169.6 604.5M129.8 619.6L119.4 618.5M148.3 623.2L139.1 622M164.1 620.4L154.5 618.5M198.3 621L188 617.6M218.8 622.5L208.5 618.2M231.7 622L221.8 617M261.1 625.8L250.7 619.3M560.3 620.3L547.5 622.7M577.3 618.7L565.2 618.1M593.6 622.8L582.1 620.3M679.2 617.6L666.4 619.4M727.3 618.6L716.8 622.9M765.7 620.1L754.3 623M783.5 618.6L772.3 620.1M794.6 622.3L783.7 622.6M815.1 622.4L805.6 620.1M827 624L816.5 619.9M988.5 619.1L978 624.8M1008.2 616.4L998.1 621.2M1022 619.8L1011.7 624.9M1032.5 618.8L1023.8 624.5M1060.2 614.9L1058.8 624.3M1077.8 613.2L1078.5 623.8M1143.1 626.9L1145.4 617M1159.5 625.3L1159.4 614.5M123.4 632.7L112.5 632.1M142.1 633L130.2 632.1M151.9 632.3L141.3 631.3M169 631.6L159.2 630.3M185.3 634.5L175 632.9M202.6 635.7L191.2 633.4M213.2 634.3L203.2 631.8M229 635.9L219.1 632.9M242.9 633.3L233.1 629.4M261.7 634.6L250.9 629.5M274.1 637.6L262.4 631.8M766.2 632.4L754.7 634.6M783 629.7L771.1 631M800.5 632.4L789.1 632.1M819.6 632.1L808 629.7M836.4 635.5L824.5 631.2M1010.6 632.5L999.9 635.9M1025.9 627.8L1016.2 632.1M1046.9 631.6L1038.8 637.7M133.2 643.3L120.1 642.8M142.8 642.5L131.4 641.9M159.6 642.6L149 641.8M173.2 643.5L161.4 642.4M206.4 644.6L195.7 642.9M218.7 643.2L208.5 641.2M240.9 645L228.9 641.8M253.8 646.8L241 642.9M269.8 646.4L258 642.1M591.9 642.4L579 640.8M777.1 644.6L763.7 646M825.7 645.6L812.7 643.3M1003 643.3L991 646M1035.4 643.5L1023.8 647.4M1051.7 640.3L1041.8 646.5" stroke="#3a2b27" stroke-opacity="0.44" stroke-width="1.04" fill="none"/><path d="M385 433.2L380.9 436.5L379.8 433.1ZM403.7 436.9L399.1 439.3L398.7 435.7ZM418.8 437L413.8 438.5L414 434.9ZM434.7 438.3L429.5 438.8L430.4 435.3ZM454.6 441.5L449.4 441L451 437.7ZM467.3 442.3L462.2 441L464.3 438.1ZM306.6 439.8L307.4 445L303.9 444.3ZM325.9 442.5L325.3 447.7L322.1 446.1ZM357.9 441.9L355.2 446.4L353 443.6ZM376.6 444.2L372.9 447.9L371.4 444.7ZM422.3 446.3L417.2 447.6L417.6 444ZM451.3 451L446.1 450.5L447.7 447.3ZM466.6 450.8L461.5 449.5L463.5 446.6ZM479.4 452.4L474.6 450.3L477 447.7ZM215.1 454L219.4 456.9L216.5 459ZM251.3 455.2L254.9 459L251.5 460.4ZM262.5 454.6L265.7 458.7L262.3 459.8ZM279 455.7L281.4 460.3L277.9 460.8ZM291.4 452.4L293.2 457.3L289.6 457.3ZM309.5 454L310.1 459.2L306.6 458.3ZM326.4 451.5L325.9 456.7L322.6 455.1ZM337.7 454.8L336.4 459.9L333.4 457.8ZM359.4 453.2L356.8 457.7L354.5 455ZM463.7 461.2L458.6 459.9L460.7 457ZM482.2 463.3L477.5 461.1L480.1 458.5ZM178.6 466.1L183.2 468.6L180.4 470.9ZM197.7 464.4L202.1 467.2L199.2 469.4ZM210.4 467.7L214.6 470.8L211.6 472.8ZM230.7 466.9L234.6 470.4L231.4 472.1ZM242.9 464.7L246.6 468.4L243.3 469.9ZM262.9 465L265.9 469.2L262.5 470.2ZM280.3 462.7L282.6 467.3L279 467.7ZM482.4 476L477.8 473.4L480.6 471.1ZM163 480.2L167.6 482.6L164.9 485ZM179.9 479.1L184.3 481.9L181.5 484.1ZM199.9 477.2L204.1 480.2L201.2 482.2ZM210.9 474.6L215.1 477.8L212 479.7ZM279.4 472.6L281.8 477.2L278.2 477.6ZM153.2 491.8L157.8 494.2L155.2 496.6ZM170.9 490L175.4 492.7L172.6 495ZM184.4 490L188.8 492.9L185.8 495ZM201.6 488.6L205.7 491.8L202.7 493.7ZM231.9 489.3L235.6 493L232.4 494.5ZM166.9 499.7L171.4 502.4L168.6 504.7ZM184.6 499L188.9 502L185.9 504.1ZM216.5 499.6L220.4 503L217.3 504.8ZM167.4 512.6L171.9 515.3L169 517.6ZM182 513.1L186.3 516.1L183.3 518.1ZM412.4 518.1L407.6 520L407.5 516.4ZM176.5 523.1L180.8 526L177.9 528.1ZM208.9 522.8L212.9 526.1L209.8 527.9ZM400.7 526.3L397.5 530.5L395.6 527.4ZM417.3 531.5L412.1 531.9L413.1 528.4ZM182.1 534.3L186.4 537.2L183.5 539.3ZM193.7 533.5L197.9 536.6L194.9 538.6ZM224 534.8L227.9 538.3L224.7 540ZM390 532.4L389.5 537.6L386.2 536ZM432.4 549.9L429.5 545.5L433 544.7ZM520.3 545.9L518.8 540.9L522.4 541.1ZM931.2 545.6L926.1 544.8L927.8 541.6ZM172.1 546.4L176.6 549.1L173.8 551.4ZM193.1 544.5L197.3 547.5L194.4 549.5ZM207.1 544.9L211.2 548.1L208.1 550ZM386.8 544.7L389.3 549.3L385.7 549.8ZM431.5 561.3L430.7 556.2L434.2 556.8ZM542.7 557.6L542.4 552.4L545.9 553.4ZM881.7 547.9L879.3 552.5L876.9 549.9ZM905.6 548.4L901.1 551L900.5 547.4ZM922.6 555.3L917.3 555.3L918.6 551.9ZM935.9 554.8L931 553.1L933.3 550.3ZM1050.1 555.2L1052.3 550.4L1054.9 553ZM1079.3 553.8L1082.8 549.9L1084.5 553.1ZM1098.9 554.4L1103.4 551.8L1104 555.4ZM1147.5 548.7L1152.5 550.2L1150.4 553.1ZM1162.8 547.3L1167.6 549.4L1165.1 552ZM1180.9 548.6L1185.6 551L1182.9 553.4ZM193.8 557.6L198.1 560.5L195.2 562.7ZM373.5 554.4L377.2 558.1L373.9 559.6ZM390.5 557.8L395.5 559.4L393.3 562.3ZM423.2 567.7L424.1 562.6L427.3 564.4ZM523.3 568.9L523.1 563.7L526.5 564.8ZM538.8 567.4L539 562.2L542.3 563.6ZM858.5 558.8L859.2 564L855.7 563.2ZM878.1 556.7L876.7 561.7L873.8 559.6ZM891.4 559.5L888.8 564L886.5 561.2ZM910.9 560.7L906.1 562.6L906 559ZM927.6 567.5L922.7 565.8L924.9 563ZM945.7 570.2L942.1 566.4L945.4 565ZM956.9 571.5L954.2 567L957.8 566.3ZM1059 568.9L1060.8 564L1063.6 566.3ZM1090.2 565.9L1093.9 562.3L1095.4 565.6ZM1105.9 562.6L1110.7 560.6L1110.9 564.2ZM1121 561.5L1126.3 561.4L1125.1 564.8ZM1141.4 559.3L1146.3 561L1144 563.8ZM1175.8 558.1L1180.2 560.9L1177.3 563.1ZM186.8 571.4L191.4 573.8L188.8 576.2ZM202 571.5L206.5 574.1L203.7 576.4ZM216.8 569.4L221.1 572.3L218.1 574.4ZM232.1 568.3L236.2 571.5L233.1 573.4ZM528.6 579.1L529.5 573.9L532.6 575.7ZM849.1 568.8L851.4 573.5L847.8 573.9ZM869.5 566L870.5 571.1L866.9 570.5ZM885.5 566.9L885 572.1L881.8 570.6ZM933 582.1L930.3 577.6L933.8 576.9ZM953.1 580.1L951.2 575.3L954.8 575.2ZM965.7 579.4L964.6 574.3L968.2 574.8ZM1041.5 580.4L1043.3 575.5L1046 577.8ZM1061.3 578.2L1062.6 573.1L1065.6 575.2ZM1076.9 581.9L1078.7 577L1081.5 579.3ZM1121 570.4L1126.2 570.8L1124.8 574.1ZM1138.8 569.1L1143.6 571.2L1141.1 573.8ZM1171.2 566.7L1175.4 569.8L1172.4 571.8ZM208.8 583.5L213.5 585.7L210.9 588.2ZM225.9 583L230.4 585.6L227.7 587.9ZM246.6 580.9L250.9 583.9L248 586ZM537.2 592.2L539.9 587.8L542.2 590.6ZM553 588.5L556.9 585.1L558.2 588.4ZM614.3 584.1L619.2 585.7L617 588.5ZM707.4 592.2L709.6 587.5L712.1 590.1ZM721.1 589.4L723.1 584.6L725.7 587ZM831 583.4L835.2 586.5L832.2 588.5ZM850.6 579.3L853.8 583.5L850.4 584.6ZM870.3 579.4L873.2 583.8L869.7 584.6ZM939.8 593.4L939.2 588.2L942.7 589ZM970.9 593.9L971.7 588.7L974.8 590.5ZM1036.1 590.7L1037.8 585.7L1040.6 588ZM1069.7 593.7L1070.3 588.6L1073.6 590.2ZM1087.6 592.2L1089.1 587.2L1092 589.4ZM1130.2 580.3L1135 582.5L1132.4 585.1ZM1176 580.7L1179.9 584.2L1176.6 585.9ZM1190.5 580.5L1194.5 583.7L1191.5 585.6ZM165.4 594.4L170.6 595L169 598.2ZM198.4 595.9L203.4 597.3L201.3 600.2ZM218.5 592.4L223.3 594.5L220.8 597.1ZM229.1 593.9L233.8 596L231.3 598.6ZM246.3 590L250.8 592.6L248.1 594.9ZM533.8 600L536.8 595.7L538.9 598.7ZM545.4 600.8L549.2 597.3L550.6 600.6ZM561.7 596.6L566.6 594.6L566.7 598.2ZM577.6 597.7L582.8 597.3L581.8 600.8ZM591 592.8L596.2 593.4L594.5 596.6ZM602.2 595.2L607.4 595.9L605.6 599.1ZM620.5 594.9L625.7 595.5L624.1 598.7ZM636.3 598.5L641.5 598L640.5 601.5ZM667.9 599.3L672.1 596.3L673.1 599.7ZM687.9 600L691.2 595.9L693 599ZM701.9 600.4L704.8 596L706.9 598.9ZM719.1 600.3L721.9 595.9L724 598.8ZM732.3 601.7L735.4 597.5L737.4 600.5ZM753.2 602.5L757 598.9L758.4 602.2ZM834.1 593.8L838.6 596.3L835.8 598.7ZM879.8 590.9L884.2 593.7L881.4 595.9ZM907.2 601.8L910.9 598.1L912.4 601.4ZM925.1 605L926.9 600.1L929.6 602.4ZM946.4 602.3L947.3 597.2L950.4 599ZM959.3 602.9L960.5 597.9L963.5 599.8ZM978.1 601.8L980.1 597L982.8 599.5ZM1012.9 601.4L1015.7 597L1017.9 599.8ZM1024.3 603.8L1026.7 599.2L1029.2 601.8ZM1040.2 600.9L1041.7 595.9L1044.6 598.1ZM1057.4 605.6L1057.2 600.4L1060.6 601.5ZM1071 605L1070.6 599.8L1074.1 600.7ZM1088.2 604.7L1088.1 599.5L1091.5 600.6ZM1150.7 591.1L1153.8 595.3L1150.3 596.4ZM1160.3 592.6L1163.3 596.8L1159.9 597.8ZM1172.7 589.3L1176.1 593.3L1172.7 594.5ZM113.1 606.1L118.2 605L117.8 608.6ZM182.7 608.7L187.9 608.9L186.5 612.2ZM212.9 604.9L218 606.1L216 609.1ZM226.1 602.3L231.1 603.9L228.9 606.7ZM535.9 613.9L539.7 610.3L541.2 613.6ZM553.1 610.5L557.7 608.1L558.2 611.7ZM568.8 609.3L573.9 608.1L573.5 611.6ZM586.3 609L591.5 608.8L590.4 612.3ZM604.4 605.2L609.7 605.4L608.2 608.8ZM661.4 611.4L666.1 609.1L666.5 612.6ZM672.7 612L677 609.1L677.8 612.6ZM707.5 613.6L711.1 609.7L712.7 612.9ZM718.7 610.3L722.1 606.3L723.9 609.4ZM731.8 612.7L735.3 608.9L736.9 612.2ZM751.2 612.6L755.2 609.3L756.5 612.6ZM764.4 610.3L768.7 607.4L769.6 610.9ZM782 607.5L786.8 605.5L786.9 609.1ZM797.7 605.7L802.9 605L802.1 608.5ZM812 608L817.2 608.4L815.7 611.7ZM822.2 603.2L827.2 604.6L825.1 607.5ZM979.5 611.6L982.2 607.1L984.5 610ZM995 610.2L998.1 606.1L1000.1 609.1ZM1038.5 612.1L1040.2 607.2L1043 609.5ZM1061.4 615.4L1060.5 610.2L1064 610.9ZM1075.2 617L1073.8 612L1077.4 612.3ZM1152.5 603.8L1154.7 608.6L1151.1 608.8ZM1169.3 603.4L1172.1 607.8L1168.6 608.6ZM118.2 618.4L123.2 617.1L122.9 620.7ZM137.9 621.9L143 620.7L142.5 624.3ZM153.3 618.3L158.4 617.5L157.8 621ZM186.9 617.2L192.1 617.1L191 620.5ZM207.4 617.7L212.6 617.9L211.2 621.3ZM220.8 616.4L225.9 617.1L224.3 620.3ZM249.7 618.6L254.8 619.7L252.9 622.7ZM546.3 622.9L550.8 620.2L551.5 623.7ZM564 618L569 616.5L568.8 620.1ZM581 620.1L586.1 619.4L585.4 622.9ZM665.2 619.6L669.8 617.1L670.3 620.7ZM715.7 623.3L719.6 619.8L720.9 623.2ZM753.1 623.3L757.4 620.4L758.3 623.8ZM771.1 620.2L775.7 617.8L776.2 621.4ZM782.5 622.6L787.4 620.7L787.4 624.3ZM804.4 619.9L809.6 619.2L808.7 622.8ZM815.4 619.5L820.6 619.6L819.3 622.9ZM977 625.4L980.4 621.4L982.1 624.6ZM997 621.7L1000.7 618L1002.2 621.2ZM1010.6 625.4L1014.2 621.6L1015.8 624.9ZM1022.8 625.2L1025.9 621L1027.9 624ZM1058.6 625.5L1057.6 620.4L1061.1 621ZM1078.5 625L1076.4 620.3L1080 620ZM1145.6 615.8L1146.3 621L1142.8 620.2ZM1159.3 613.3L1161.2 618.2L1157.6 618.2ZM111.3 632.1L116.3 630.5L116.2 634.1ZM129 632L134.1 630.5L133.8 634.1ZM140.1 631.2L145.1 629.8L144.8 633.4ZM158 630.1L163.1 629L162.6 632.6ZM173.8 632.7L178.9 631.7L178.4 635.2ZM190 633.1L195.2 632.3L194.5 635.9ZM202 631.5L207.2 630.9L206.3 634.4ZM217.9 632.6L223.2 632.3L222.1 635.7ZM232 628.9L237.2 629.1L235.9 632.4ZM249.8 628.9L255 629.4L253.4 632.7ZM261.4 631.3L266.6 631.8L264.9 635ZM753.5 634.9L758 632.2L758.7 635.7ZM770 631.2L774.6 628.8L775 632.4ZM787.9 632.1L792.9 630.4L792.8 634ZM806.9 629.4L812 628.7L811.3 632.2ZM823.4 630.8L828.6 630.8L827.4 634.1ZM998.7 636.2L1002.9 633.1L1003.9 636.5ZM1015.1 632.6L1018.8 629L1020.3 632.3ZM1037.9 638.4L1040.7 634L1042.9 636.9ZM118.9 642.8L123.8 641.1L123.7 644.7ZM130.2 641.8L135.2 640.3L135 643.9ZM147.8 641.7L152.9 640.3L152.6 643.9ZM160.2 642.3L165.2 641L164.9 644.6ZM194.5 642.7L199.6 641.7L199.1 645.3ZM207.4 641L212.5 640.2L211.8 643.7ZM227.8 641.5L233 641L232 644.5ZM239.8 642.6L245 642.2L244 645.7ZM256.8 641.6L262.1 641.7L260.8 645ZM577.8 640.6L582.9 639.4L582.5 643ZM762.5 646.1L767.2 643.8L767.5 647.4ZM811.5 643.1L816.6 642.2L816 645.7ZM989.8 646.3L994.2 643.4L995 647ZM1022.6 647.8L1026.7 644.5L1027.9 647.9ZM1040.8 647.1L1044 643L1045.9 646Z" fill="#3a2b27" fill-opacity="0.44"/><path d="M381.4 450.2L395.3 447M391.4 447.5L405.9 446.1M423.9 447L437.5 451M364 465L376 458.6M376.5 464.1L389.7 459.8M386.8 460.3L404.5 457.8M421.3 459.2L437.8 464.3M439 455.8L451.3 462.1M298.6 478.3L300.3 463.7M315.8 476.8L321.6 461.6M333.8 475.9L344.2 461.7M362.8 473.8L376.8 465.6M380.6 471.5L395.5 467.5M394.4 471L409.4 470M410.2 471.9L424.7 474.3M439.5 466.8L454.3 475.8M455 466.6L466.7 476.4M237.5 490.7L231.1 478M251 489.1L245.4 475.4M265.2 491.2L260.7 475.4M293.8 493.4L294.2 476.3M308.1 488.9L311.2 474.6M369.7 487L383.5 479.5M387.1 481.7L402.4 478.8M406.9 479.8L421.8 481.8M436.3 478.4L450.9 487.7M460.3 479.2L470.2 489.9M222 500L215 487.8M255.2 500.7L250.1 486.4M269.4 501.2L266.2 487.5M290.2 501.6L289.7 486.8M320.1 502.8L325.4 485.7M334.3 503L342.3 487.1M350.1 503.5L360.8 489.6M363.6 498.4L375.5 488.8M377.8 498.6L393.7 491.6M407.1 494L424 497.3M441.5 489L454.2 499.9M206.4 511.1L199 499.5M252.2 513L246.2 497.2M274.4 514L270.9 497M285.4 512.3L283.7 496.1M294.7 514.6L294.3 498.6M312.6 515.4L314.8 499.5M371.8 512.9L384.6 502.7M391.4 504.5L405.1 501.9M408 501.8L423.3 505.3M422.4 502.9L437.1 512M455.1 499.8L465 514.4M475.5 497.3L483.2 513.2M207.2 521.4L198.9 508.2M225.2 526.6L216.9 511.3M254.3 524.7L248.6 509.2M270.6 525.6L266.6 510M299 525L298.5 507M309.4 527.6L310 510.2M350.6 524.9L357.6 509.2M385 518.2L397.4 512.1M418.1 515L429.7 522.4M432 512.3L443.3 525.3M450 511.9L458 526.5M197.6 534.8L189.7 523M233.2 536.4L225.7 521.4M247.6 534.6L241.5 520.2M263.3 536.4L258.6 521.8M292.8 539.6L290.3 522.6M356.3 536.2L361.7 519.5M374.3 537.6L382.4 523.2M420.1 521.3L430.6 531.1M436.4 523.5L443.6 538.5M218.4 545.2L210.6 531.8M249.2 548.7L243.2 534.7M278.3 548.3L274 532.1M289.5 549.5L286 532.9M309.3 547.9L307.6 531.2M323.8 550.1L322.7 534.1M356.2 549.1L357.5 531.9M449.6 530L452.8 546.7M462.7 532.3L464.2 549.8M478.5 532.8L479.1 549.6M495.3 532.6L495.4 549M512.3 532.8L511.4 550M227.3 558.9L219 544.1M294.5 559.2L290.4 542.2M325.1 561.2L322.2 543.8M373.3 560.9L370.6 546.2M467 544.5L464.9 562.2M498 541.2L496.3 557.9M509.7 544.6L507.4 559.8M528.2 544.3L525.5 558.4M1079.5 546.8L1068.5 555.1M1131 552.9L1115.7 550.4M217 567L209.1 554.7M235.7 567.7L228.4 554.4M249.2 567.6L243.1 554.8M340 573.1L335 557.8M462.5 554.8L457.3 571.3M477.1 556.9L472.6 571.9M495.5 557.6L491 572.5M1085 559.1L1074.3 568.7M1166.9 566.6L1157.3 556.3M254.4 578.7L247.8 566.4M270.4 581.1L263.4 566.6M316.7 582.6L309.7 566.4M391 578.1L379.4 569.7M408.6 576L394.1 573.8M428.3 568.4L415 576.4M442.5 570.3L429.4 582.6M505.8 565.2L499 580.5M519.1 566.6L513.2 579M1101.5 571.3L1090 579.3M1160.9 580.8L1152.2 569.2M270.1 591.1L262.8 579.1M320 591.4L311.6 576.8M386.4 588.7L372.2 579.7M406.6 586.1L389.4 583M418.1 584.1L400.8 585.7M483.6 580.4L473 594.3M532.1 582.3L522.4 593.3M958.5 581.4L953.7 594.5M1057.8 579.7L1051.9 592M1149.5 591.7L1141.8 579.7M1167.2 591.9L1160.5 578.7M274.3 605.2L263.4 591.8M304.1 606.2L293.2 592.5M338.1 602.5L326.6 589.4M449.1 592.6L435.7 600.8M466.4 591.3L453.7 602M495.3 593.2L484.4 604.4M526.9 590L515.7 601.2M852.4 602.4L844.4 589.8M873.7 606.8L863.6 592.9M253.7 612L243.4 602.9M268.9 613.4L256.4 601.3M305.2 613.7L293.1 600.9M338.3 612.1L326.6 601.6M422.9 610.2L406.6 612.2M441.4 607.6L425.5 613.2M454.8 604.7L440.8 612.2M501.1 604L489.3 613.8M519.7 606.2L505.8 616.6M537.1 606.9L522.6 615.7M635.3 610.4L622.4 605.8M655.3 610L641.8 608.1M704.9 607.3L692.6 612.8M851.7 615.2L839.9 604.3M881.5 614.6L868.9 604.7M892.1 614.7L878.7 607.5M912.8 610.2L899 610.6M930.3 604.7L915.8 612.6M943.3 605.6L930.2 616M959.7 602.6L949.5 613.3M972.6 603.2L961.4 614.1M249.1 624.5L236.5 617.1M341.8 623.7L327.9 614.3M356.8 623L342.8 615.1M371.2 625.7L356.8 619.8M420 622.5L402.1 623.6M435 617.1L420.1 620.6M479.9 614.5L465.6 623.3M530.2 618.1L516.3 625.5M545.9 618.1L531.3 623.8M613.5 621.6L600.5 617.4M631.2 622.8L614.5 618M648.6 623.2L634.1 620.8M667.8 618.9L654.3 619.1M696.3 616.6L681.7 620.8M715.7 617.3L701.2 622.9M745.8 617.6L732.3 622.8M838.9 622.9L826.1 615.6M854 624.7L839.3 614.6M908.7 621.5L891.8 619.9M919.7 618L904.1 620.3M954.2 616.3L940.5 625.3M972.6 614.5L961.4 622.7M293 634.6L279.7 626.5M394.5 635.9L378.7 633.4M413.6 631.1L396.7 631.1M443.6 631.5L426.6 635.6M510.3 627.6L494.6 635.8M525.7 626.8L510.6 634M561.4 633.3L545.5 635.6M582.7 634.2L566.9 633.1M597 633.2L580.9 630.3M610.5 633.5L593.9 629.6M654.4 635L636.7 633.4M688 630.4L672.7 632.8M715.8 627.7L699.4 632.7M731.6 629.4L715.9 634.3M749.2 631L734.2 635.1M851.9 636.3L836.7 629.3M891.3 634L875.3 629.3M943.5 628.2L927.3 634.6M996.2 628L982.1 633.5M189.8 644.4L175.9 642.8M306 647.2L290.4 639.9M368.9 644.6L353.6 640M390.2 643L373.1 640M452.1 641L434.8 645.4M470 641.3L453.8 646.8M508.3 638.3L492.7 645M558.4 643.9L540.8 646.4M572.8 645.5L556.1 645.9M602.8 646.2L586 643.7M617.4 643.9L600.2 640.7M650.8 643.4L634.3 641.9M672.6 644.7L656.3 645.1M697 643.6L682.1 645.9M714.7 642.5L698.2 646M731.2 641.3L716.4 644.8M751.2 644.6L736.4 647.4M761.5 642L746.9 644.6M790.2 643.1L776.6 643.8M807 643.7L791.9 643.1M839.5 647.9L822.8 643.9M889 645.7L872.4 641.9M935.2 644.5L919.7 647.6M951.1 640.3L935.9 645.3M971.2 642.4L955.7 647.6M989 639.7L974.8 644M1022.7 644.5L1008.8 647.7" stroke="#3a2b27" stroke-opacity="0.52" stroke-width="1.16" fill="none"/><path d="M396.4 446.8L391.5 450L390.6 445.9ZM407.1 446L401.8 448.6L401.4 444.4ZM438.7 451.4L432.8 451.8L434 447.8ZM377 458L373.2 462.5L371.2 458.8ZM390.9 459.4L386.3 463.1L385 459.1ZM405.7 457.6L400.6 460.4L400 456.3ZM438.9 464.7L433.1 465L434.3 461ZM452.4 462.7L446.6 462L448.5 458.3ZM300.4 462.5L301.9 468.2L297.7 467.8ZM322 460.5L322 466.4L318.1 464.9ZM344.9 460.8L343.3 466.5L340 464ZM377.9 465L374.2 469.6L372.1 465.9ZM396.7 467.1L391.9 470.6L390.8 466.6ZM410.6 469.9L405.3 472.4L405 468.2ZM425.9 474.5L420.1 475.6L420.8 471.5ZM455.4 476.5L449.6 475.4L451.7 471.8ZM467.6 477.2L462 475.2L464.7 472ZM230.6 476.9L234.9 480.9L231.2 482.8ZM245 474.3L249 478.6L245.1 480.2ZM260.3 474.3L263.9 479L259.8 480.1ZM294.3 475.1L296.2 480.6L292 480.5ZM311.4 473.4L312.3 479.3L308.2 478.4ZM384.6 478.9L380.8 483.4L378.8 479.7ZM403.6 478.5L398.6 481.6L397.8 477.5ZM423 482L417.3 483.3L417.8 479.2ZM451.9 488.4L446.1 487.2L448.4 483.6ZM471.1 490.8L465.8 488.2L468.9 485.3ZM214.4 486.8L219 490.5L215.3 492.6ZM249.7 485.3L253.5 489.8L249.6 491.2ZM265.9 486.3L269.2 491.2L265.1 492.2ZM289.7 485.6L292 491L287.8 491.2ZM325.7 484.5L326.1 490.4L322.1 489.2ZM342.8 486L342.3 491.9L338.5 490ZM361.6 488.7L359.9 494.3L356.5 491.7ZM376.4 488L373.5 493.1L370.8 489.9ZM394.8 491.2L390.6 495.3L389 491.4ZM425.1 497.5L419.3 498.5L420.1 494.4ZM455.1 500.6L449.6 498.7L452.3 495.5ZM198.4 498.5L203.1 502L199.6 504.2ZM245.8 496L249.7 500.4L245.8 501.9ZM270.7 495.8L273.8 500.8L269.7 501.6ZM283.6 494.9L286.3 500.2L282.1 500.6ZM294.2 497.4L296.5 502.8L292.3 502.9ZM314.9 498.3L316.3 504.1L312.1 503.5ZM385.6 501.9L382.6 507L379.9 503.7ZM406.2 501.7L401.2 504.8L400.4 500.6ZM424.5 505.6L418.7 506.4L419.6 502.3ZM438.2 512.6L432.4 511.5L434.6 508ZM465.7 515.4L460.9 512L464.4 509.7ZM483.8 514.3L479.5 510.2L483.3 508.4ZM198.3 507.2L203 510.8L199.4 513ZM216.4 510.3L220.8 514.1L217.1 516.1ZM248.1 508L252 512.5L248.1 513.9ZM266.3 508.8L269.7 513.6L265.6 514.7ZM298.5 505.8L300.7 511.3L296.5 511.4ZM310 509L312 514.5L307.8 514.4ZM358.1 508.1L357.8 514L353.9 512.3ZM398.5 511.6L394.5 515.9L392.6 512.1ZM430.7 523L425 521.9L427.2 518.3ZM444.1 526.2L438.9 523.5L442.1 520.7ZM458.6 527.6L454.1 523.8L457.7 521.7ZM189.1 522L193.9 525.4L190.4 527.8ZM225.2 520.4L229.5 524.3L225.8 526.2ZM241 519.1L245.1 523.3L241.2 524.9ZM258.2 520.7L261.9 525.3L257.9 526.6ZM290.1 521.4L293 526.6L288.8 527.2ZM362.1 518.4L362.4 524.3L358.4 523ZM383 522.2L382.2 528L378.5 525.9ZM431.5 531.9L426.1 529.7L428.9 526.6ZM444.1 539.6L439.8 535.5L443.6 533.7ZM210 530.7L214.6 534.4L211 536.6ZM242.7 533.6L246.8 537.8L243 539.5ZM273.7 531L277.2 535.8L273.1 536.8ZM285.8 531.8L289 536.7L284.9 537.6ZM307.5 530L310.1 535.2L305.9 535.7ZM322.6 532.9L325.1 538.2L320.9 538.5ZM357.6 530.7L359.3 536.4L355.1 536ZM453 547.9L449.9 542.9L454 542.1ZM464.3 550.9L461.7 545.7L465.9 545.3ZM479.2 550.8L476.9 545.4L481.1 545.2ZM495.4 550.2L493.3 544.7L497.5 544.7ZM511.3 551.2L509.5 545.6L513.7 545.8ZM218.4 543.1L222.9 546.9L219.3 548.9ZM290.2 541L293.5 545.9L289.4 546.9ZM322 542.6L325 547.7L320.8 548.4ZM370.4 545L373.4 550L369.3 550.8ZM464.7 563.4L463.3 557.7L467.5 558.2ZM496.2 559L494.7 553.4L498.8 553.8ZM507.3 561L506 555.3L510.2 555.9ZM525.2 559.6L524.2 553.8L528.3 554.6ZM1067.5 555.8L1070.7 550.8L1073.2 554.2ZM1114.5 550.2L1120.3 549L1119.6 553.2ZM208.5 553.6L213.2 557.2L209.7 559.4ZM227.9 553.3L232.3 557.1L228.7 559.2ZM242.5 553.8L246.8 557.8L243 559.6ZM334.6 556.7L338.3 561.2L334.3 562.6ZM456.9 572.5L456.6 566.6L460.6 567.8ZM472.2 573L471.8 567.2L475.9 568.4ZM490.6 573.7L490.2 567.8L494.2 569ZM1073.4 569.5L1076.1 564.2L1078.9 567.4ZM1156.5 555.5L1161.8 558.1L1158.7 560.9ZM247.2 565.4L251.7 569.2L248 571.2ZM262.9 565.5L267.1 569.6L263.4 571.4ZM309.2 565.3L313.3 569.5L309.5 571.2ZM378.5 569L384.2 570.5L381.7 573.9ZM392.9 573.6L398.7 572.4L398 576.5ZM414 577L417.6 572.4L419.8 576ZM428.5 583.4L431.1 578.1L434 581.2ZM498.6 581.6L498.9 575.7L502.7 577.4ZM512.7 580.1L513.1 574.2L516.9 576ZM1089 579.9L1092.3 575.1L1094.7 578.5ZM1151.5 568.2L1156.5 571.4L1153.1 573.9ZM262.2 578.1L266.9 581.7L263.3 583.9ZM311 575.8L315.6 579.5L311.9 581.6ZM371.2 579.1L376.9 580.2L374.7 583.8ZM388.3 582.8L394.1 581.7L393.3 585.8ZM399.6 585.8L404.9 583.2L405.3 587.4ZM472.3 595.3L474 589.6L477.3 592.2ZM521.6 594.2L523.7 588.7L526.9 591.5ZM953.3 595.6L953.2 589.8L957.2 591.2ZM1051.3 593.1L1051.9 587.2L1055.6 589.1ZM1141.1 578.7L1145.9 582.2L1142.3 584.5ZM1160 577.7L1164.3 581.6L1160.6 583.5ZM262.6 590.8L267.7 593.8L264.5 596.4ZM292.5 591.5L297.6 594.5L294.3 597.1ZM325.8 588.5L331 591.3L327.9 594ZM434.7 601.4L438.3 596.7L440.5 600.3ZM452.8 602.8L455.6 597.7L458.4 600.9ZM483.6 605.3L485.9 599.9L488.9 602.8ZM514.9 602L517.3 596.7L520.3 599.6ZM843.8 588.7L848.5 592.3L845 594.5ZM862.9 591.9L867.9 595.2L864.5 597.6ZM242.5 602.1L248 604.2L245.3 607.3ZM255.6 600.5L261 602.8L258.1 605.8ZM292.2 600.1L297.5 602.6L294.5 605.5ZM325.7 600.8L331.2 602.9L328.4 606.1ZM405.4 612.3L410.7 609.6L411.2 613.8ZM424.4 613.6L428.9 609.7L430.3 613.7ZM439.8 612.7L443.6 608.3L445.6 612ZM488.4 614.6L491.3 609.4L494 612.7ZM504.9 617.4L508 612.4L510.5 615.7ZM521.5 616.3L525.2 611.6L527.3 615.2ZM621.2 605.4L627.1 605.3L625.7 609.3ZM640.6 607.9L646.4 606.6L645.8 610.7ZM691.5 613.3L695.7 609.1L697.4 613ZM839.1 603.5L844.5 605.7L841.7 608.7ZM868 604L873.6 605.7L871 609ZM877.6 606.9L883.5 607.7L881.5 611.4ZM897.8 610.7L903.2 608.4L903.3 612.6ZM914.8 613.2L918.6 608.7L920.6 612.4ZM929.2 616.8L932.2 611.7L934.8 615ZM948.7 614.2L950.9 608.7L954 611.6ZM960.6 614.9L963.1 609.6L966 612.6ZM235.5 616.5L241.3 617.5L239.2 621.1ZM326.9 613.7L332.6 615L330.2 618.5ZM341.7 614.5L347.5 615.4L345.5 619.1ZM355.7 619.4L361.6 619.5L360 623.4ZM400.9 623.6L406.3 621.2L406.5 625.4ZM419 620.9L423.8 617.6L424.8 621.7ZM464.6 624L468.2 619.3L470.4 622.9ZM515.2 626.1L519.1 621.6L521.1 625.3ZM530.2 624.2L534.6 620.3L536.1 624.2ZM599.3 617L605.2 616.7L603.9 620.7ZM613.4 617.6L619.2 617.2L618.1 621.2ZM632.9 620.6L638.7 619.5L638 623.6ZM653.1 619.1L658.5 616.9L658.6 621.1ZM680.5 621.2L685.2 617.6L686.4 621.7ZM700.1 623.4L704.5 619.4L706 623.3ZM731.1 623.2L735.5 619.3L737 623.2ZM825.1 615L830.9 615.9L828.8 619.5ZM838.3 613.9L844.1 615.3L841.7 618.8ZM890.6 619.8L896.3 618.2L895.9 622.4ZM902.9 620.5L908 617.6L908.7 621.8ZM939.5 626L942.9 621.2L945.2 624.7ZM960.4 623.4L963.6 618.4L966.1 621.8ZM278.7 625.9L284.5 626.9L282.3 630.5ZM377.5 633.3L383.3 632L382.7 636.2ZM395.5 631.1L401 629L401 633.2ZM425.5 635.9L430.3 632.6L431.3 636.7ZM493.5 636.3L497.5 631.9L499.4 635.7ZM509.5 634.5L513.6 630.3L515.4 634.1ZM544.3 635.8L549.4 632.9L550 637.1ZM565.8 633L571.4 631.3L571.1 635.5ZM579.8 630.1L585.5 629L584.8 633.1ZM592.7 629.3L598.5 628.5L597.6 632.6ZM635.5 633.3L641.2 631.7L640.8 635.9ZM671.5 632.9L676.6 630L677.3 634.2ZM698.3 633L702.9 629.4L704.1 633.4ZM714.7 634.7L719.4 631L720.6 635ZM733 635.4L737.8 631.9L738.9 636ZM835.6 628.8L841.5 629.2L839.8 633ZM874.2 628.9L880 628.5L878.8 632.5ZM926.2 635L930.5 631L932.1 634.9ZM981 634L985.3 630L986.9 633.9ZM174.7 642.6L180.4 641.2L179.9 645.4ZM289.3 639.4L295.2 639.8L293.4 643.6ZM352.4 639.6L358.3 639.2L357.1 643.2ZM371.9 639.8L377.6 638.7L376.9 642.8ZM433.7 645.7L438.5 642.3L439.5 646.4ZM452.7 647.2L457.2 643.5L458.6 647.4ZM491.6 645.5L495.8 641.4L497.5 645.2ZM539.6 646.5L544.8 643.7L545.4 647.8ZM554.9 646L560.3 643.7L560.4 647.9ZM584.8 643.5L590.6 642.2L590 646.4ZM599 640.5L604.8 639.4L604 643.5ZM633.1 641.8L638.8 640.2L638.4 644.4ZM655.1 645.2L660.5 642.9L660.6 647.1ZM680.9 646.1L686 643.2L686.7 647.4ZM697.1 646.3L702 643.1L702.9 647.2ZM715.2 645.1L720.1 641.8L721.1 645.9ZM735.2 647.6L740.2 644.5L741 648.6ZM745.7 644.8L750.8 641.8L751.5 645.9ZM775.4 643.8L780.7 641.5L780.9 645.7ZM790.7 643.1L796.3 641.2L796.1 645.4ZM821.6 643.6L827.5 642.8L826.5 646.9ZM871.2 641.6L877 640.8L876.1 644.9ZM918.6 647.9L923.5 644.7L924.4 648.8ZM934.8 645.6L939.4 641.9L940.7 645.9ZM954.5 648L959.1 644.2L960.4 648.2ZM973.6 644.4L978.3 640.8L979.5 644.8ZM1007.6 648L1012.5 644.7L1013.5 648.8Z" fill="#3a2b27" fill-opacity="0.52"/><path d="M408.1 460.7L426.6 463.4M349.4 477.9L363.4 465.5M425.2 465.3L442.7 472.3M323.2 492.1L330.5 475M339.2 492.3L350.7 476.3M355.7 489.9L370.1 477.6M420.2 479.7L438.5 486.9M303.5 504.4L305.4 486M389.2 496.8L409.6 493.9M420.1 491.1L438.6 499.9M459.8 486.7L472.4 502.9M241.3 514.3L233.7 497.8M327 513.9L333 494.8M337 516.2L344.5 497.8M356.1 511.1L368.4 496.1M437.7 499.7L450.6 512.4M236.5 523.5L228.4 506.8M282.4 527.5L279.3 508.9M323.1 526.7L326.6 505.8M337.7 525L344.2 504.9M362.3 525.4L374.9 507.6M464.8 506.3L473.1 524.8M280.4 536.6L276.5 518.1M308.7 537L308.3 516M323.2 537.2L324.2 519.1M339.4 537.9L343.3 516.7M454.1 521.3L459.8 539.7M468.1 518.8L473 538.2M499 520.1L500.9 540.1M264.3 549.8L257.2 529.4M340.6 549.2L341.3 528.9M367.4 548.1L371.2 529.1M248.4 562.8L240.2 545.4M264.2 558.7L257.3 540.3M278.1 562.3L271.6 541.8M309.5 559.9L305.9 540.5M343.1 561.3L340.5 542.5M356.7 560.6L354.7 539.6M452.5 538.9L451.3 560.7M485.4 541.9L483.1 562.2M266 570.5L258.3 551.9M279.9 572.5L273.3 554.8M296.8 572L290.8 552.8M311.9 574.3L305.9 554.8M326.8 574.3L321.3 557M353.6 573.6L347 554.4M371.8 571.3L364.4 552.5M449.4 554.2L442.1 572.2M512.7 555.8L506.6 574.9M288.4 584.9L279.6 565.9M303.8 585L295.9 567.4M335.9 583.1L327.6 565.5M354.5 582.5L345.2 565.9M374.2 584.6L361.1 569.6M459 566.7L448.9 582.2M474.6 566.8L464.8 584.4M485.4 567.3L476.9 584.1M288.9 594.4L278.4 576.1M302.2 593.3L292.7 576.6M339 592.1L328.5 575.9M356.6 593.4L343.5 577.5M374.2 591.2L358.6 576.5M440.3 583.2L424.4 592.3M454.9 581.8L439.5 594.8M468.1 579.2L454.2 594.7M502.5 578.9L490.8 595.4M516.2 580L503.4 596.9M290 607.8L277.3 592.2M321.1 605.2L309.3 590.7M350.8 605.1L335.8 590.6M368.8 602.9L353.5 591.7M386.6 603.6L367.7 594.9M399.2 601.3L381.2 596.8M420 598.3L399.4 599.7M435.8 592.5L417.1 599.4M478.7 591.3L462.8 606M514.2 588.1L501.3 602.5M285.1 614L272 600.5M320.3 614.4L306.7 600.8M353.3 615.3L338.2 604.4M368.5 614.7L351.6 605.1M390.3 614L370 607.6M407.9 608L388.3 606M475.5 604L457.8 616.2M491.5 605.7L475.5 617.9M864 614.4L850.7 600.2M283.7 625.3L268.4 613.6M298.5 626.1L283.1 614M311.8 625.6L295.7 612.7M325.2 625.1L310.7 614.1M385.1 623.9L367.6 618.7M405.8 622.7L385 620.6M449.2 619.9L429.2 626.4M465.2 618.2L446.6 627M499 616.7L481.1 628M515.7 612.9L498.1 624.6M873.4 625L855.7 612.9M892.6 623.6L875.4 616.4M940.8 615L922.6 624.3M305.7 637.8L287.9 627.2M318.6 638.2L303 629.2M335 636.5L316.2 625.7M349.5 638.2L330.5 629M368.5 637.9L350.4 631.4M383.9 635.9L364.4 630.9M434.6 628.9L414 632.3M460.3 630.5L440.6 637.4M473.7 629.9L456 637.5M497.2 626.6L478.7 636.3M545.4 630.3L528.1 635.8M628 636.1L609.6 632.1M642.1 635.1L624.1 632.1M672.4 633.5L653.1 634M703.3 627.8L685.7 632.2M872 634.4L855.2 626.2M911.4 631.6L890.3 630.3M927.8 629.9L908.2 633.6M961 628.5L944.4 636.6M978.4 630.7L960.6 638.6M289.7 646.8L272.9 639.5M325.6 649.4L306 640.7M337.6 649.6L318.8 641.7M356.4 646.8L336.2 639.3M406.5 643.9L385.4 642.5M421 645.6L401.5 646.4M435.6 641.9L416.6 644.7M485.6 638.5L467.3 645.9M495.9 637.6L477 645.7M530.5 642.6L510.1 649.3M546.8 639.5L528.5 644.1M640.3 644.7L619.4 641.7M684.3 642.3L664.3 644M861.1 649.3L842.2 643.4M875.4 645.7L857.1 639.7M905.4 647L885.3 645.1M923.2 643.4L902 645.1" stroke="#3a2b27" stroke-opacity="0.61" stroke-width="1.28" fill="none"/><path d="M427.8 463.6L421.4 465.1L422.1 460.3ZM364.3 464.7L361.3 470.5L358.2 466.9ZM443.9 472.7L437.3 472.7L439.1 468.2ZM331 473.9L330.8 480.5L326.4 478.6ZM351.4 475.3L349.8 481.6L345.9 478.8ZM371.1 476.8L368 482.6L364.9 478.9ZM439.6 487.3L433 487.3L434.8 482.8ZM305.5 484.8L307.3 491.1L302.5 490.6ZM410.8 493.7L405.1 496.9L404.4 492.2ZM439.7 500.4L433.1 500L435.2 495.6ZM473.1 503.9L467.5 500.5L471.3 497.6ZM233.2 496.7L238 501.2L233.6 503.2ZM333.3 493.6L333.8 500.2L329.2 498.7ZM345 496.7L344.9 503.2L340.4 501.4ZM369.2 495.1L367.2 501.4L363.4 498.3ZM451.5 513.2L445.4 510.6L448.8 507.2ZM227.9 505.7L232.7 510.2L228.4 512.3ZM279.1 507.7L282.4 513.4L277.7 514.2ZM326.8 504.6L328.1 511L323.4 510.2ZM344.6 503.7L345 510.3L340.4 508.8ZM375.6 506.6L374 513L370.1 510.2ZM473.6 525.9L468.9 521.3L473.2 519.4ZM276.3 517L279.9 522.4L275.2 523.4ZM308.3 514.8L310.8 520.9L306 521ZM324.3 517.9L326.3 524.1L321.6 523.8ZM343.5 515.5L344.8 521.9L340 521.1ZM460.1 540.9L456 535.8L460.6 534.4ZM473.3 539.3L469.5 534L474.1 532.8ZM501 541.3L498.1 535.4L502.9 535ZM256.8 528.3L261.1 533.2L256.6 534.8ZM341.3 527.7L343.5 533.9L338.7 533.7ZM371.5 527.9L372.6 534.4L367.9 533.4ZM239.7 544.3L244.5 548.8L240.1 550.8ZM256.9 539.2L261.3 544L256.8 545.7ZM271.2 540.7L275.4 545.8L270.8 547.2ZM305.7 539.3L309.2 544.9L304.4 545.7ZM340.4 541.3L343.6 547L338.8 547.7ZM354.6 538.4L357.5 544.3L352.8 544.7ZM451.2 561.9L449.1 555.6L453.9 555.9ZM483 563.3L481.3 557L486.1 557.5ZM257.9 550.8L262.4 555.5L258 557.3ZM272.9 553.7L277.2 558.6L272.7 560.3ZM290.5 551.6L294.6 556.7L290 558.2ZM305.6 553.7L309.7 558.8L305.1 560.2ZM320.9 555.8L325.1 560.9L320.5 562.3ZM346.6 553.3L350.9 558.2L346.3 559.8ZM363.9 551.3L368.4 556.1L363.9 557.9ZM441.6 573.3L441.7 566.8L446.2 568.6ZM506.2 576.1L505.8 569.5L510.3 571ZM279.1 564.8L283.9 569.4L279.5 571.4ZM295.4 566.3L300.1 570.9L295.7 572.9ZM327.1 564.4L331.9 568.9L327.5 570.9ZM344.6 564.8L349.7 569L345.5 571.3ZM360.3 568.7L366.1 571.7L362.5 574.9ZM448.2 583.2L449.5 576.8L453.6 579.4ZM464.2 585.5L465.1 579L469.2 581.3ZM476.3 585.1L476.9 578.6L481.2 580.8ZM277.8 575L282.9 579.1L278.7 581.5ZM292.2 575.6L297.2 579.7L293.1 582.1ZM327.9 574.9L333.2 578.7L329.2 581.3ZM342.8 576.6L348.5 579.8L344.8 582.8ZM357.7 575.7L363.8 578.1L360.5 581.6ZM423.3 592.9L427.4 587.8L429.8 592ZM438.6 595.6L441.7 589.8L444.8 593.5ZM453.4 595.6L455.7 589.4L459.3 592.6ZM490.2 596.3L491.7 590L495.6 592.8ZM502.7 597.9L504.5 591.6L508.3 594.5ZM276.6 591.2L282.3 594.5L278.5 597.5ZM308.6 589.8L314.3 593L310.5 596ZM335 589.7L341 592.2L337.7 595.7ZM352.5 591L358.9 592.7L356 596.5ZM366.6 594.4L373.1 594.8L371.1 599.1ZM380 596.5L386.5 595.7L385.4 600.3ZM398.2 599.8L404.1 597L404.4 601.8ZM416 599.8L420.9 595.4L422.6 599.9ZM461.9 606.8L464.8 600.9L468 604.5ZM500.5 603.4L502.8 597.3L506.3 600.5ZM271.2 599.7L277.2 602.4L273.7 605.7ZM305.9 599.9L311.9 602.5L308.5 605.9ZM337.2 603.7L343.5 605.3L340.7 609.2ZM350.5 604.5L357 605.4L354.6 609.6ZM368.9 607.2L375.4 606.8L374 611.3ZM387.1 605.9L393.4 604.1L392.9 608.9ZM456.8 616.8L460.5 611.4L463.2 615.4ZM474.5 618.6L477.9 613L480.8 616.9ZM849.8 599.3L855.8 602.1L852.3 605.4ZM267.5 612.9L273.8 614.7L270.9 618.5ZM282.1 613.2L288.4 615.1L285.4 618.9ZM294.7 611.9L301 613.9L298 617.6ZM309.7 613.4L316 615.2L313.1 619ZM366.5 618.3L373 617.8L371.6 622.4ZM383.8 620.4L390.1 618.7L389.6 623.5ZM428.1 626.8L433.1 622.6L434.6 627.2ZM445.5 627.5L450 622.7L452.1 627ZM480.1 628.6L484 623.4L486.5 627.4ZM497.1 625.3L500.8 619.9L503.5 623.9ZM854.7 612.2L861.1 613.7L858.4 617.6ZM874.3 616L880.8 616.1L879 620.5ZM921.6 624.9L925.9 620L928.1 624.2ZM286.8 626.6L293.3 627.7L290.8 631.8ZM302 628.6L308.5 629.5L306.1 633.7ZM315.2 625.1L321.6 626L319.3 630.2ZM329.4 628.4L335.9 628.9L333.8 633.3ZM349.3 631L355.8 630.8L354.2 635.3ZM363.3 630.6L369.8 629.8L368.6 634.5ZM412.8 632.5L418.4 629.1L419.2 633.9ZM439.4 637.8L444.4 633.5L446 638.1ZM454.9 638L459.6 633.3L461.5 637.7ZM477.7 636.9L482 631.9L484.2 636.2ZM527 636.1L532.1 632L533.5 636.6ZM608.4 631.8L614.9 630.8L613.9 635.5ZM622.9 631.9L629.3 630.5L628.6 635.2ZM651.9 634L657.9 631.5L658 636.3ZM684.6 632.5L689.9 628.7L691.1 633.3ZM854.1 625.7L860.7 626.2L858.6 630.5ZM889.1 630.2L895.4 628.2L895.1 633ZM907 633.8L912.5 630.3L913.4 635ZM943.3 637.2L947.7 632.3L949.8 636.7ZM959.5 639.1L964.1 634.4L966 638.8ZM271.8 639L278.4 639.3L276.5 643.7ZM304.9 640.2L311.5 640.5L309.5 644.9ZM317.7 641.2L324.2 641.4L322.4 645.8ZM335.1 638.9L341.7 638.8L340 643.3ZM384.2 642.4L390.5 640.4L390.1 645.2ZM400.3 646.5L406.3 643.8L406.5 648.6ZM415.4 644.9L421.1 641.6L421.8 646.4ZM466.2 646.4L470.9 641.8L472.7 646.3ZM475.9 646.2L480.5 641.6L482.4 646ZM509 649.7L514 645.5L515.5 650ZM527.3 644.4L532.7 640.6L533.8 645.3ZM618.2 641.5L624.6 640L623.9 644.7ZM663.1 644.1L669 641.2L669.4 646ZM841.1 643L847.6 642.5L846.2 647.1ZM855.9 639.3L862.5 638.9L861 643.5ZM884.1 645L890.4 643.2L889.9 647.9ZM900.8 645.2L906.7 642.3L907.1 647.1Z" fill="#3a2b27" fill-opacity="0.61"/>
<path d="M134 384 L367 384 L367 392 L404.3 408.7 L428.4 420.8 L452.5 435.2 L464.6 449.7 L470.6 465.4 L470.6 465.4 L452.5 447.3 L420 436 L380 435 L330 433 L290 429 L255 423 L230 414 L218 403 L209 398 L194 403 L170 411 L160 416 L156 426 L153 439 L146 459 L134 481 L122 495.5 L113.6 501.5 L150 417 L140 404 L134 395 Z" fill="#cfd0bc"/>
<path d="M218 398C220 399.8 223.8 405.7 230 409C236.2 412.3 245 415.5 255 418C265 420.5 277.5 422.3 290 424C302.5 425.7 315 427 330 428C345 429 365 429.5 380 430C395 430.5 413.3 430.8 420 431" fill="none" stroke="#d9b49e" stroke-width="10" opacity="0.65" filter="url(#blur3)"/>
<path d="M215 398C217.5 399.5 223.3 404.3 230 407C236.7 409.7 245 412.2 255 414C265 415.8 277.5 417 290 418C302.5 419 311.7 419.7 330 420C348.3 420.3 381.7 419 400 420C418.3 421 430.3 423 440 426C449.7 429 455 436 458 438" fill="none" stroke="#f3ece4" stroke-width="1.2" opacity="0.8"/>
<path d="M113 384 L134 384 L134 405 L140 409 L150 417 L151 426 L148.6 438 L143.7 453 L134 471 L122 486 L113.6 495.5 Z" fill="url(#gGreen)"/>
<path d="M153 417C153.2 418.5 154.2 422.5 154 426C153.8 429.5 152.8 433.5 151.6 438C150.4 442.5 149.1 447.5 146.7 453C144.3 458.5 140.6 465.5 137 471C133.4 476.5 128.4 481.9 125 486C121.6 490.1 118 493.9 116.6 495.5" fill="none" stroke="#8f8a6e" stroke-width="5" opacity="0.45" filter="url(#blur3)"/>
<path d="M367 382 L1204 382 L1204 522 L850 522 L700 519 L620 515 L560 506 L540 500.3 L512.8 501.5 L504.3 513.6 L500.7 501.5 L488.7 483.4 L470.6 465.4 L464.6 449.7 L452.5 435.2 L428.4 420.8 L404.3 408.7 L367 392 Z" fill="url(#gGreen2)"/>
<path d="M450 440C452.5 442.5 460.8 449.2 465 455C469.2 460.8 471.7 467.5 475 475C478.3 482.5 480 494.5 485 500C490 505.5 501.7 506.7 505 508" fill="none" stroke="#6f6a55" stroke-width="5" opacity="0.3" filter="url(#blur3)"/>
<path d="M620 515C630 514.7 661.7 517.8 700 519C738.3 520.2 800 521.4 850 522C900 522.6 941 522.4 1000 522.5C1059 522.6 1170 517.9 1204 522.5C1238 527.1 1213 545.9 1204 550C1195 554.1 1170.7 548.3 1150 547C1129.3 545.7 1097.5 543.7 1080 542C1062.5 540.3 1053.3 536.5 1045 537C1036.7 537.5 1034.2 538.7 1030 545C1025.8 551.3 1023.3 563.3 1020 575C1016.7 586.7 1013 606.8 1010 615C1007 623.2 1004.3 624.5 1002 624C999.7 623.5 995.8 620.2 996 612C996.2 603.8 1000.7 587 1003 575C1005.3 563 1009.8 547.7 1010 540C1010.2 532.3 1022.3 531.2 1004 529C985.7 526.8 934 527.5 900 527C866 526.5 833.3 526.5 800 526C766.7 525.5 726.7 524.8 700 524C673.3 523.2 653.3 522.5 640 521C626.7 519.5 610 515.3 620 515Z" fill="#c9ad89"/>
<ellipse cx="1012" cy="575" rx="12" ry="48" fill="#6f6050" opacity="0.5" filter="url(#blur6)"/>
<path d="M560 506 C620 514 700 519 850 522.5 L1204 523" fill="none" stroke="#3b3a30" stroke-width="1.3" opacity="0.8"/>
<ellipse cx="640" cy="548" rx="110" ry="18" fill="#c2958a" opacity="0.45" filter="url(#blur6)"/>
<ellipse cx="895" cy="548" rx="95" ry="18" fill="#c2958a" opacity="0.45" filter="url(#blur6)"/>
<ellipse cx="1120" cy="565" rx="80" ry="16" fill="#c2958a" opacity="0.45" filter="url(#blur6)"/>
<path d="M556 641C555 640 562.3 633.8 566 628C569.7 622.2 574 613.2 578 606C582 598.8 586 591.3 590 585C594 578.7 598 572.8 602 568C606 563.2 614.3 559.5 614 556C613.7 552.5 599.3 548.2 600 547C600.7 545.8 612.7 548.8 618 549C623.3 549.2 627.7 547.8 632 548C636.3 548.2 644.3 548.7 644 550C643.7 551.3 634 554 630 556C626 558 623.3 558.8 620 562C616.7 565.2 613.7 569.3 610 575C606.3 580.7 602 589.2 598 596C594 602.8 590.3 609.7 586 616C581.7 622.3 577 629.8 572 634C567 638.2 557 642 556 641Z" fill="#c9ad89"/>
<path d="M619 611 C620 628 624 640 638 645 C700 650 820 650 884 646 C895 640 899 628 898 611 C894 626 889 634 878 636 C800 640 700 640 640 636 C630 632 624 624 619 611 Z" fill="#c9ad89"/>
<line x1="782" y1="529" x2="781" y2="640" stroke="#c9ad89" stroke-width="4" />
<path d="M160 470C162.5 463.3 170 440 175 430C180 420 185.8 415 190 410C194.2 405 198.3 401.7 200 400" fill="none" stroke="#f4efe8" stroke-width="1" opacity="0.7"/>
<path d="M120 548C120.7 544.2 120.7 534.3 124 525C127.3 515.7 134 502.8 140 492C146 481.2 154.2 467.8 160 460C165.8 452.2 169.2 446.5 175 445C180.8 443.5 189 448.8 195 451C201 453.2 200.2 457 211 458C221.8 459 236.3 457.2 260 457C283.7 456.8 324.7 456.2 353 456.5C381.3 456.8 413 456.6 430 458.5C447 460.4 448.7 462.8 455 468C461.3 473.2 465.8 486.3 468 490" fill="none" stroke="#f4efe8" stroke-width="1" opacity="0.7"/>
<path d="M480 480C483.3 481.2 486.7 484.7 500 487C513.3 489.3 540 491.8 560 494C580 496.2 580 498.5 620 500C660 501.5 702.7 502.2 800 503C897.3 503.8 1136.7 504.7 1204 505" fill="none" stroke="#f4efe8" stroke-width="1" opacity="0.7"/>
<path d="M505 495C514.2 495.8 535.8 498.3 560 500C584.2 501.7 610 503.5 650 505C690 506.5 707.7 507.8 800 509C892.3 510.2 1136.7 511.5 1204 512" fill="none" stroke="#f4efe8" stroke-width="1" opacity="0.7"/>
<path d="M530 525C541.7 525.5 571.7 526.8 600 528C628.3 529.2 671.7 530.5 700 532C728.3 533.5 755 535.7 770 537C785 538.3 786.7 539.5 790 540" fill="none" stroke="#f4efe8" stroke-width="1" opacity="0.7"/>
<path d="M1040 547C1050 547.2 1072.7 547 1100 548C1127.3 549 1186.7 552.2 1204 553" fill="none" stroke="#f4efe8" stroke-width="1" opacity="0.7"/>
<path d="M113 383 L130 383 L139 386 L137 394 L134 399 L113 401 Z" fill="#c8bfb9"/>
<path d="M113 401 L134 399 L133 405 L125 409 L113 411 Z" fill="#a0958f"/>
<path d="M134 383 L250 384 L367 385 L367 388.5 L250 387.5 L139 387 Z" fill="#c2bab4"/>
<path d="M367 385 L470 385.5 L520 380.4 L560 381 L700 382 L1204 382 L1204 402 L600 402 L540 402.7 L500 395 L475 394 L465 396 L450 392 L367 391 Z" fill="#c8bfb9"/>
<path d="M367 391 L450 392 L465 396 L475 394 L500 395 L540 402.7 L600 402 L1204 402 L1204 415 L600 415 L540 413.6 L500 404 L475 401 L462 405 L450 400 L420 396 L367 392.5 Z" fill="#a0958f"/>
<path d="M200 386 L208 392 L214 386" fill="none" stroke="#555" stroke-width="1.5" opacity="0.6"/>
</g>
<path d="M113 383C119.2 383 134.2 382.5 150 383C165.8 383.5 183 385.7 208 386C233 386.3 274.2 385.3 300 385C325.8 384.7 334.7 384.2 363 384C391.3 383.8 443.8 384.5 470 384C496.2 383.5 505 381.5 520 381C535 380.5 446 380.8 560 381C674 381.2 1096.7 381.8 1204 382" fill="none" stroke="#555" stroke-width="1.2"/>
<line x1="474.6" y1="48.2" x2="474.6" y2="656" stroke="#111" stroke-width="2.8" stroke-dasharray="6.5 7.5"/>
<path d="M475.4 40.6 L482.1 37.6" stroke="#111" stroke-width="3"/>
<text x="1101.4" y="149.6" font-size="25" fill="#fff" textLength="77" lengthAdjust="spacingAndGlyphs">SCLM</text>
<text x="842.7" y="309.1" font-size="24.5" fill="#fff" textLength="337.9" lengthAdjust="spacingAndGlyphs">Convective removal SCLM</text>
<text x="254.7" y="273" font-size="25" fill="#fff" textLength="150.6" lengthAdjust="spacingAndGlyphs">Suboceanic</text>
<text x="239.1" y="303.6" font-size="25" fill="#fff" textLength="189.8" lengthAdjust="spacingAndGlyphs">asthenosphere</text>
<line x1="730" y1="265" x2="795" y2="229" stroke="#fff" stroke-width="4" />
<path d="M806 223 L788 223 L797 237 Z" fill="#fff"/>
<text x="168.5" y="495" font-size="24.5" fill="#fff" textLength="147.1" lengthAdjust="spacingAndGlyphs">Convection</text>
<text x="119.1" y="572.3" font-size="24.5" fill="#fff" textLength="190.4" lengthAdjust="spacingAndGlyphs">(Typical ascent</text>
<text x="152.2" y="604.1" font-size="24.5" fill="#fff" textLength="159" lengthAdjust="spacingAndGlyphs">times shown</text>
<text x="177" y="634.8" font-size="24.5" fill="#fff" textLength="134" lengthAdjust="spacingAndGlyphs">in c and d)</text>
<text x="458.6" y="454.3" font-size="24.5" fill="#fff" textLength="48.4" lengthAdjust="spacingAndGlyphs">EM1</text>
<text x="609.5" y="501" font-size="24.5" fill="#fff" textLength="568" lengthAdjust="spacingAndGlyphs">Convective instability migrates craton-wards</text>
<text x="665.7" y="623.9" font-size="24.5" fill="#fff" textLength="211.4" lengthAdjust="spacingAndGlyphs">Lateral transport</text>
<line x1="649" y1="617" x2="515" y2="617" stroke="#fff" stroke-width="4" />
<path d="M503 617 L519 609 L519 625 Z" fill="#fff"/>
<line x1="923" y1="549" x2="985" y2="539" stroke="#fff" stroke-width="4" />
<path d="M997 537 L982 531 L984 546 Z" fill="#fff"/>
<path d="M472 572C468.3 576.7 459.2 591 450 600C440.8 609 429.7 620.5 417 626C404.3 631.5 386.7 634.5 374 633C361.3 631.5 349 626.7 341 617C333 607.3 328 589.8 326 575C324 560.2 326.7 542.5 329 528C331.3 513.5 336.2 500.7 340 488C343.8 475.3 350 458 352 452" fill="none" stroke="#e9ddd8" stroke-width="6" opacity="0.9" stroke-linecap="round"/>
<path d="M355 437 L346 458 L363 458 Z" fill="#e9ddd8" opacity="0.95"/>
<circle cx="473" cy="572" r="7" fill="#ddd0cc" opacity="0.9"/>
<ellipse cx="422" cy="517.6" rx="23" ry="31" transform="rotate(12 422 517.6)" fill="none" stroke="#fff" stroke-width="3"/>
<line x1="433" y1="487" x2="450.5" y2="461.7" stroke="#fff" stroke-width="3" />
<path d="M417.5 535 C418 526 426 514 436 508 C436 516 430 526 417.5 535 Z" fill="#c9ad89"/>
<path d="M369 532 C372 522 376 512 381 505" stroke="#c9ad89" stroke-width="1.5" fill="none"/>
<line x1="113" y1="65.6" x2="113" y2="340.5" stroke="#222" stroke-width="2" />
<line x1="113" y1="340.5" x2="1204" y2="340.5" stroke="#222" stroke-width="2" />
<line x1="1203.6" y1="65.6" x2="1203.6" y2="340.5" stroke="#222" stroke-width="1.2" />
<line x1="104" y1="70.2" x2="113" y2="70.2" stroke="#222" stroke-width="2" />
<text x="76.3" y="78.2" font-size="22.9" textLength="16.2" lengthAdjust="spacingAndGlyphs">0</text>
<line x1="104" y1="159" x2="113" y2="159" stroke="#222" stroke-width="2" />
<text x="49.4" y="167" font-size="22.9" textLength="43" lengthAdjust="spacingAndGlyphs">100</text>
<line x1="104" y1="249.7" x2="113" y2="249.7" stroke="#222" stroke-width="2" />
<text x="46.3" y="257.7" font-size="22.9" textLength="46.2" lengthAdjust="spacingAndGlyphs">200</text>
<line x1="104" y1="340.5" x2="113" y2="340.5" stroke="#222" stroke-width="2" />
<text x="46.5" y="348.5" font-size="22.9" textLength="45.9" lengthAdjust="spacingAndGlyphs">300</text>
<line x1="118.2" y1="340.5" x2="118.2" y2="350" stroke="#222" stroke-width="2" />
<line x1="293.9" y1="340.5" x2="293.9" y2="350" stroke="#222" stroke-width="2" />
<line x1="475" y1="340.5" x2="475" y2="350" stroke="#222" stroke-width="2" />
<line x1="656.8" y1="340.5" x2="656.8" y2="350" stroke="#222" stroke-width="2" />
<line x1="837.5" y1="340.5" x2="837.5" y2="350" stroke="#222" stroke-width="2" />
<line x1="1018.6" y1="340.5" x2="1018.6" y2="350" stroke="#222" stroke-width="2" />
<line x1="1200" y1="340.5" x2="1200" y2="350" stroke="#222" stroke-width="2" />
<line x1="113" y1="383.8" x2="113" y2="656" stroke="#222" stroke-width="2" />
<line x1="113" y1="656" x2="1204" y2="656" stroke="#222" stroke-width="2" />
<line x1="1203.6" y1="383.8" x2="1203.6" y2="656" stroke="#222" stroke-width="1.2" />
<line x1="104" y1="386.8" x2="113" y2="386.8" stroke="#222" stroke-width="2" />
<text x="76.3" y="394.8" font-size="22.9" textLength="16.2" lengthAdjust="spacingAndGlyphs">0</text>
<line x1="104" y1="476.4" x2="113" y2="476.4" stroke="#222" stroke-width="2" />
<text x="49.4" y="484.4" font-size="22.9" textLength="43" lengthAdjust="spacingAndGlyphs">100</text>
<line x1="104" y1="566.4" x2="113" y2="566.4" stroke="#222" stroke-width="2" />
<text x="46.3" y="574.4" font-size="22.9" textLength="46.2" lengthAdjust="spacingAndGlyphs">200</text>
<line x1="104" y1="655.8" x2="113" y2="655.8" stroke="#222" stroke-width="2" />
<text x="46.5" y="663.8" font-size="22.9" textLength="45.9" lengthAdjust="spacingAndGlyphs">300</text>
<line x1="118.2" y1="656" x2="118.2" y2="665.5" stroke="#222" stroke-width="2" />
<line x1="293.9" y1="656" x2="293.9" y2="665.5" stroke="#222" stroke-width="2" />
<line x1="475" y1="656" x2="475" y2="665.5" stroke="#222" stroke-width="2" />
<line x1="656.8" y1="656" x2="656.8" y2="665.5" stroke="#222" stroke-width="2" />
<line x1="837.5" y1="656" x2="837.5" y2="665.5" stroke="#222" stroke-width="2" />
<line x1="1018.6" y1="656" x2="1018.6" y2="665.5" stroke="#222" stroke-width="2" />
<line x1="1200" y1="656" x2="1200" y2="665.5" stroke="#222" stroke-width="2" />
<text x="90.1" y="695.2" font-size="22.5" textLength="57.4" lengthAdjust="spacingAndGlyphs">−200</text>
<text x="286" y="695.2" font-size="22.5" textLength="15.8" lengthAdjust="spacingAndGlyphs">0</text>
<text x="452.2" y="695.2" font-size="22.5" textLength="45.4" lengthAdjust="spacingAndGlyphs">200</text>
<text x="634.8" y="695.2" font-size="22.5" textLength="44.5" lengthAdjust="spacingAndGlyphs">400</text>
<text x="814.7" y="695.2" font-size="22.5" textLength="45.4" lengthAdjust="spacingAndGlyphs">600</text>
<text x="996" y="695.2" font-size="22.5" textLength="44.9" lengthAdjust="spacingAndGlyphs">800</text>
<text x="1167.5" y="695.2" font-size="22.5" textLength="64.1" lengthAdjust="spacingAndGlyphs">1,000</text>
<text x="362.7" y="738.5" font-size="26" textLength="591.4" lengthAdjust="spacingAndGlyphs">Distance from continent–ocean boundary (km)</text>
<text x="-2.3" y="0" transform="translate(24.3 264.2) rotate(-90)" font-size="27" textLength="141" lengthAdjust="spacingAndGlyphs">Depth (km)</text>
<text x="-2.3" y="0" transform="translate(24.3 566.5) rotate(-90)" font-size="27" textLength="143.4" lengthAdjust="spacingAndGlyphs">Depth (km)</text>
<text x="112.5" y="50.8" font-size="26.5" textLength="269.6" lengthAdjust="spacingAndGlyphs">Continental break-up</text>
<text x="482.5" y="20" font-size="26.5" textLength="284" lengthAdjust="spacingAndGlyphs">Measurement transect</text>
<text x="526.2" y="50.8" font-size="26.5" textLength="198.8" lengthAdjust="spacingAndGlyphs">used in analysis</text>
<text x="963.8" y="52.1" font-size="21.8" textLength="239.4" lengthAdjust="spacingAndGlyphs">30 Myr since rift onset</text>
<text x="964" y="373.1" font-size="21.8" textLength="239.4" lengthAdjust="spacingAndGlyphs">40 Myr since rift onset</text>
<rect x="1244.8" y="68.4" width="24.8" height="24.2" fill="#c8bfb9"/>
<text x="1283.4" y="92.1" font-size="26" textLength="152" lengthAdjust="spacingAndGlyphs">Upper crust</text>
<rect x="1244.8" y="123.9" width="24.8" height="24.2" fill="#a0958f"/>
<text x="1283.3" y="145.7" font-size="26" textLength="150.3" lengthAdjust="spacingAndGlyphs">Lower crust</text>
<rect x="1244.8" y="178.6" width="24.8" height="24.2" fill="#ccd0bb"/>
<text x="1284.3" y="201.2" font-size="26" textLength="258.7" lengthAdjust="spacingAndGlyphs">Oceanic lithosphere</text>
<rect x="1244.8" y="234.3" width="24.8" height="24.2" fill="#a3b58f"/>
<text x="1283.2" y="255.1" font-size="26" textLength="255.3" lengthAdjust="spacingAndGlyphs">Lithospheric mantle</text>
<rect x="1244.8" y="289.8" width="24.8" height="24.2" fill="#d6b584"/>
<text x="1285.5" y="311.6" font-size="26" textLength="366.6" lengthAdjust="spacingAndGlyphs">Variably metasomatized keel</text>
<rect x="1244.8" y="342.6" width="24.8" height="24.2" fill="url(#gAstLeg)"/>
<text x="1285.6" y="366.3" font-size="26" textLength="192" lengthAdjust="spacingAndGlyphs">Asthenosphere</text>
<rect x="1283.4" y="427.5" width="314" height="15.6" fill="url(#gTemp)" stroke="#222" stroke-width="1.5"/>
<line x1="1283.4" y1="443.1" x2="1283.4" y2="448.8" stroke="#222" stroke-width="1.5" />
<text x="1250.6" y="477.7" font-size="22.4" textLength="63.7" lengthAdjust="spacingAndGlyphs">1,000</text>
<line x1="1361.4" y1="443.1" x2="1361.4" y2="448.8" stroke="#222" stroke-width="1.5" />
<text x="1331.9" y="477.7" font-size="22.4" textLength="58.2" lengthAdjust="spacingAndGlyphs">1,100</text>
<line x1="1440" y1="443.1" x2="1440" y2="448.8" stroke="#222" stroke-width="1.5" />
<text x="1409.8" y="477.7" font-size="22.4" textLength="60.4" lengthAdjust="spacingAndGlyphs">1,200</text>
<line x1="1519.5" y1="443.1" x2="1519.5" y2="448.8" stroke="#222" stroke-width="1.5" />
<text x="1487.8" y="477.7" font-size="22.4" textLength="61.5" lengthAdjust="spacingAndGlyphs">1,300</text>
<line x1="1597.4" y1="443.1" x2="1597.4" y2="448.8" stroke="#222" stroke-width="1.5" />
<text x="1565.6" y="477.7" font-size="22.4" textLength="62.6" lengthAdjust="spacingAndGlyphs">1,400</text>
<text x="1332.4" y="522" font-size="25.5" textLength="219.4" lengthAdjust="spacingAndGlyphs">Temperature (°C)</text>
<rect x="1283" y="567" width="315" height="17" fill="url(#gStrain)" stroke="#222" stroke-width="1.5"/>
<path d="M1283 584L1283 590M1302 584L1302 588M1313.1 584L1313.1 588M1320.9 584L1320.9 588M1327 584L1327 588M1332 584L1332 588M1336.2 584L1336.2 588M1339.9 584L1339.9 588M1343.1 584L1343.1 588M1346 584L1346 590M1365 584L1365 588M1376.1 584L1376.1 588M1383.9 584L1383.9 588M1390 584L1390 588M1395 584L1395 588M1399.2 584L1399.2 588M1402.9 584L1402.9 588M1406.1 584L1406.1 588M1409 584L1409 590M1428 584L1428 588M1439.1 584L1439.1 588M1446.9 584L1446.9 588M1453 584L1453 588M1458 584L1458 588M1462.2 584L1462.2 588M1465.9 584L1465.9 588M1469.1 584L1469.1 588M1472 584L1472 590M1491 584L1491 588M1502.1 584L1502.1 588M1509.9 584L1509.9 588M1516 584L1516 588M1521 584L1521 588M1525.2 584L1525.2 588M1528.9 584L1528.9 588M1532.1 584L1532.1 588M1535 584L1535 590M1554 584L1554 588M1565.1 584L1565.1 588M1572.9 584L1572.9 588M1579 584L1579 588M1584 584L1584 588M1588.2 584L1588.2 588M1591.9 584L1591.9 588M1595.1 584L1595.1 588M1598 584L1598 590" stroke="#222" stroke-width="1.1"/>
<text x="1255" y="628.3" font-size="21" textLength="25" lengthAdjust="spacingAndGlyphs">10</text>
<text x="1280.4" y="616" font-size="18.5" textLength="29.4" lengthAdjust="spacingAndGlyphs">−18</text>
<text x="1319.1" y="628.3" font-size="21" textLength="24.9" lengthAdjust="spacingAndGlyphs">10</text>
<text x="1344.6" y="616" font-size="18.5" textLength="27.2" lengthAdjust="spacingAndGlyphs">−17</text>
<text x="1379.9" y="628.3" font-size="21" textLength="27.4" lengthAdjust="spacingAndGlyphs">10</text>
<text x="1407.6" y="616" font-size="18.5" textLength="28.2" lengthAdjust="spacingAndGlyphs">−16</text>
<text x="1444" y="628.3" font-size="21" textLength="26.1" lengthAdjust="spacingAndGlyphs">10</text>
<text x="1470.6" y="616" font-size="18.5" textLength="28.2" lengthAdjust="spacingAndGlyphs">−15</text>
<text x="1507" y="628.3" font-size="21" textLength="26.1" lengthAdjust="spacingAndGlyphs">10</text>
<text x="1532.4" y="616" font-size="18.5" textLength="29.2" lengthAdjust="spacingAndGlyphs">−14</text>
<text x="1570" y="628.3" font-size="21" textLength="26.1" lengthAdjust="spacingAndGlyphs">10</text>
<text x="1596.6" y="616" font-size="18.5" textLength="28.2" lengthAdjust="spacingAndGlyphs">−13</text>
<text x="1271" y="671.5" font-size="26" textLength="341" lengthAdjust="spacingAndGlyphs">Logarithmic strain rate (s<tspan font-size="16" dy="-10">−1</tspan><tspan dy="10">)</tspan></text>
<rect x="262.3" y="855.5" width="245" height="835.5" fill="#f6f6f6"/>
<line x1="141.5" y1="1077.3" x2="871.7" y2="1077.3" stroke="#000" stroke-width="1.6" />
<line x1="167.8" y1="854.8" x2="167.8" y2="1200.2" stroke="#283482" stroke-width="2.2" stroke-dasharray="13 8.4"/>
<polyline points="176.4,1077.3 181.6,1012.3 184.7,1064.4 191,1066.4 195.2,1075.8 200.4,1077.3 235.7,1075.8 239.9,1062.3 242,1037.3 246.1,1029 249.3,988.4 252.4,1073.7 255.5,1075.8 258.6,1039.4 264.9,1018.6 270.1,1003 273.2,1004 277.4,1016.5 280.5,1022.7 283.2,949.9 285.7,987.4 288.8,1016.5 291.9,1037.3 295,1051.9 298.2,1057.1 302.3,1056 306.5,1049.8 310.7,1041.5 316.9,1024.8 321.1,1023.8 323.6,1036.3 327.3,965.5 330.4,1035.2 333.5,974.9 339.8,935.3 343.5,1022.7 347.1,962.4 350.6,868.7 354.4,966.5 357.5,1020.7 362.7,1045.6 366.8,1071.6 368.9,1075.8 374.1,1077.3 378.3,1076.8 384.5,1077.3 389.7,1075.8 394.9,1037.3 398.1,940.5 402.2,995.7 407.4,1077.9 416.8,1077.3 419.9,1070.6 423,1031.1 428.2,1039.4 433.4,1031.1 436.6,1036.3 440.7,1020.7 444.9,1004 448,978 452.2,989.4 456.3,981.1 458.8,932.2 462.6,1031.1 465.7,995.7 468.8,1076.8 473,1093.5 477.1,1131 480.3,1187.1 483.4,1170.5 486.5,1118.5 491.7,1101.8 498,1110.1 503.2,1117.4 503.1,1116.4 510,928 514.6,1045.6 522.9,1014.4 528.1,1037.3 534.3,1058.1 541.6,1066.4 549.9,1070.6 554.1,1075.8 560.4,1085.2 564.5,1083.1 570.8,1067.5 576,1070.6 584.1,1008.2 587.4,1068.5 597.8,1087.3 610.3,1074.8 614.5,974.9 618.6,999.8 621.7,1043.5 624.9,1042.5 628,1016.5 632.2,1020.7 635.3,1070.6 641.5,1074.8 662.3,1076.8 665.5,1068.5 668.6,1077.3 686.3,1077.3 689.4,1063.3 693.5,1064.4 697.7,1073.7 702.9,1076.8 833,1076.8 837.6,1005 842.4,1075.8 865.2,1075.8 869.4,1063.3 871.9,1061.2" fill="none" stroke="#b4b4b4" stroke-width="3.6" stroke-linejoin="round" />
<polyline points="140,1069.6 158.7,1072.7 162.9,1074.3 174.3,1075.8 195.2,1076.8 199.3,1074.8 206.6,1075.2 213.9,1077.9 270.1,1077.3 276.3,1066 281.5,1065.4 283.6,1066.4 285.7,1037.3 289.8,920.8 294,999.8 298.2,1037.3 302.3,1049.8 306.5,1057.1 309.6,1064.4 313.8,1068.5 319,1068.5 324.2,1072.7 328.3,1076.8 334.6,1077.3 337.3,1100.8 340.8,1076.8 344,1085.2 348.1,1077.3 366.8,1077.3 371,1054 375.2,1057.1 379.3,1070.6 384.5,1077.3 387.7,1085.2 390.8,1113.3 396,1080 402.2,1072.7 406.4,1058.1 411.6,1062.3 414.7,1074.8 418.9,1091.4 423,1087.3 427.2,1081 433.4,1077.9 442.8,1077.3 448,1058.1 452.2,1083.1 456.3,1077.9 514.6,1077.3 871,1077.3" fill="none" stroke="#0e9210" stroke-width="3.8" stroke-linejoin="round" />
<polyline points="140,1077.3 174.3,1077.3 178.5,1046.7 182.7,1064.4 185.8,1065.4 191,1060.2 194.5,1047.7 199.3,1049.8 202.4,1062.3 206.6,1066.4 209.7,1067.5 216,1077.3 270.1,1077.3 276.3,926 283.6,1050.8 289.8,1077.3 303.4,1077.3 310.2,972.8 314.8,1008.2 317.9,1015.5 322.1,1016.5 324.2,1022.7 329.4,1047.7 334.6,1058.1 339.8,1064.4 344,1066.4 350.2,1077.3 357.5,1077.3 360.6,1062.7 364.8,1067.5 371,1072.7 377.3,1076.8 381,1136.2 384.5,1039.4 391.8,1074.8 394.9,1054 401.2,1077.3 408.5,1047.7 411.6,1077.3 416.8,1066.4 422,1025.9 425.1,1077.3 466.7,1077.3 469.9,1074.8 476.1,1073.7 482.4,950.9 486.5,1026.9 492.8,1093.5 498,1083.1 501.1,1077.3 514.6,1077.3 500,1077.3 516.6,1077.3 519.8,1054 522.9,1077.3 530.2,1077.3 533.3,1064.4 538.5,1075.8 548.9,1077.3 553.1,1070.6 557.2,1012.3 562.4,1047.7 566.6,1068.5 570.8,1072.7 574.9,1072.7 578,1077.3 584.3,1077.3 587.4,1054 591.6,1055 596.8,1070.6 599.9,1087.3 605.1,1089.3 610.3,1077.3 666.5,1077.3" fill="none" stroke="#dc2a16" stroke-width="3.8" stroke-linejoin="round" />
<line x1="275" y1="864.6" x2="495" y2="864.6" stroke="#000" stroke-width="4" />
<path d="M262.6 864.6 L279.6 857.6 L274.8 864.6 L279.6 871.6 Z" fill="#000"/>
<path d="M507.5 864.6 L490.5 871.6 L495.3 864.6 L490.5 857.6 Z" fill="#000"/>
<line x1="853.2" y1="878" x2="853.2" y2="1073.7" stroke="#283482" stroke-width="3.8" />
<line x1="853.2" y1="1083.1" x2="853.2" y2="1152" stroke="#283482" stroke-width="3.8" />
<line x1="845.5" y1="1073.7" x2="861" y2="1073.7" stroke="#283482" stroke-width="3.2" />
<line x1="845.5" y1="1083.1" x2="861" y2="1083.1" stroke="#283482" stroke-width="3.2" />
<path d="M853.2 864.2 L860.5 881.2 L853.2 876.4 L845.9 881.2 Z" fill="#283482"/>
<path d="M853.2 1165.3 L845.9 1148.3 L853.2 1153.1 L860.5 1148.3 Z" fill="#283482"/>
<text x="680.7" y="973.8" font-size="26" fill="#283482" textLength="168.9" lengthAdjust="spacingAndGlyphs">Ocean-wards</text>
<text x="637.5" y="1127.4" font-size="26" fill="#283482" textLength="212.1" lengthAdjust="spacingAndGlyphs">Continent-wards</text>
<rect x="141.5" y="853.8" width="730.2" height="346.4" fill="none" stroke="#333" stroke-width="1.6"/>
<line x1="167.7" y1="1200.2" x2="167.7" y2="1209.7" stroke="#333" stroke-width="1.6" />
<text x="160" y="1237.2" font-size="21.8" textLength="15.4" lengthAdjust="spacingAndGlyphs">0</text>
<line x1="303" y1="1200.2" x2="303" y2="1209.7" stroke="#333" stroke-width="1.6" />
<text x="288" y="1237.2" font-size="21.8" textLength="29.8" lengthAdjust="spacingAndGlyphs">20</text>
<line x1="438.3" y1="1200.2" x2="438.3" y2="1209.7" stroke="#333" stroke-width="1.6" />
<text x="424.1" y="1237.2" font-size="21.8" textLength="28.9" lengthAdjust="spacingAndGlyphs">40</text>
<line x1="573.7" y1="1200.2" x2="573.7" y2="1209.7" stroke="#333" stroke-width="1.6" />
<text x="558.6" y="1237.2" font-size="21.8" textLength="29.8" lengthAdjust="spacingAndGlyphs">60</text>
<line x1="709" y1="1200.2" x2="709" y2="1209.7" stroke="#333" stroke-width="1.6" />
<text x="694.1" y="1237.2" font-size="21.8" textLength="29.6" lengthAdjust="spacingAndGlyphs">80</text>
<line x1="844.3" y1="1200.2" x2="844.3" y2="1209.7" stroke="#333" stroke-width="1.6" />
<text x="823.4" y="1237.2" font-size="21.8" textLength="40.9" lengthAdjust="spacingAndGlyphs">100</text>
<line x1="131.5" y1="884" x2="141.5" y2="884" stroke="#333" stroke-width="1.6" />
<line x1="131.5" y1="980.4" x2="141.5" y2="980.4" stroke="#333" stroke-width="1.6" />
<line x1="131.5" y1="1077.3" x2="141.5" y2="1077.3" stroke="#333" stroke-width="1.6" />
<line x1="131.5" y1="1173.8" x2="141.5" y2="1173.8" stroke="#333" stroke-width="1.6" />
<text x="50.4" y="893.7" font-size="22.3" textLength="13.1" lengthAdjust="spacingAndGlyphs">4</text><text x="69.5" y="893.7" font-size="20" textLength="11.7" lengthAdjust="spacingAndGlyphs">×</text><text x="85.7" y="893.7" font-size="22.3" textLength="25.7" lengthAdjust="spacingAndGlyphs">10</text><text x="111.8" y="880.7" font-size="14.7" textLength="8.8" lengthAdjust="spacingAndGlyphs">5</text>
<text x="51.1" y="990.1" font-size="22.3" textLength="14.1" lengthAdjust="spacingAndGlyphs">2</text><text x="69.5" y="990.1" font-size="20" textLength="11.7" lengthAdjust="spacingAndGlyphs">×</text><text x="85.7" y="990.1" font-size="22.3" textLength="25.7" lengthAdjust="spacingAndGlyphs">10</text><text x="111.8" y="977.1" font-size="14.7" textLength="8.8" lengthAdjust="spacingAndGlyphs">5</text>
<text x="33.7" y="1182.9" font-size="22.3" textLength="12.2" lengthAdjust="spacingAndGlyphs">−</text><text x="44.9" y="1182.9" font-size="22.3" textLength="14.3" lengthAdjust="spacingAndGlyphs">2</text><text x="63.6" y="1182.9" font-size="20" textLength="11.5" lengthAdjust="spacingAndGlyphs">×</text><text x="79.8" y="1182.9" font-size="22.3" textLength="25.6" lengthAdjust="spacingAndGlyphs">10</text><text x="105.8" y="1169.9" font-size="14.7" textLength="8.7" lengthAdjust="spacingAndGlyphs">5</text>
<text x="105.2" y="1086.6" font-size="21.5" textLength="14.7" lengthAdjust="spacingAndGlyphs">0</text>
<text x="33" y="1027.4" font-size="26" text-anchor="middle" transform="rotate(-90 33 1027.4)" textLength="235" lengthAdjust="spacingAndGlyphs">Flow rate (m Myr<tspan font-size="16" dy="-10">−1</tspan><tspan dy="10">)</tspan></text>
<text x="119.1" y="803" font-size="20" textLength="96.3" lengthAdjust="spacingAndGlyphs">Break-up</text>
<line x1="167.6" y1="815" x2="167.6" y2="832" stroke="#000" stroke-width="3.5" />
<path d="M167.6 845.5 L160.6 828.5 L167.6 833.3 L174.6 828.5 Z" fill="#000"/>
<text x="249.6" y="803.5" font-size="20.5" textLength="263" lengthAdjust="spacingAndGlyphs">Peak SCLM/EM1 delivery</text>
<text x="250.3" y="834" font-size="20.5" textLength="270.6" lengthAdjust="spacingAndGlyphs">~15–50 Myr post-breakup</text>
<line x1="167.8" y1="1291.5" x2="167.8" y2="1691.7" stroke="#283482" stroke-width="2.2" stroke-dasharray="13 8.4"/>
<polyline points="176,1691.8 179.4,1689.5 184.1,1684.8 193.4,1682.5 236.3,1682.5 242.1,1677.9 247.9,1669.7 250.2,1666.3 256,1666.3 265.3,1655.8 274.6,1639.6 283.8,1630.3 285,1621 290.8,1615.2 293.1,1609.4 302.4,1604.8 314,1595.5 324.4,1582.7 327.9,1573.5 332.6,1567.7 336,1553.8 341.8,1535.2 345.3,1530.6 348.8,1512 351.1,1502.7 355.8,1493.4 361.6,1487.6 395.2,1487.6 399.8,1474.9 403.3,1470.2 421.9,1470.2 427.7,1464.4 439.3,1451.7 446.2,1440.1 455.5,1419.2 460.1,1405.3 464.8,1398.3 470.6,1393.7 475.2,1397.2 478.7,1405.3 482.2,1414.6 488,1419.2 497.3,1425 503.1,1432 505.4,1426.2 508.9,1412.2 513.5,1407.6 520,1403 503.5,1432 508.1,1419.2 511.6,1409.9 517.4,1406.4 525.5,1396 534.8,1390.2 546.4,1387.9 555.7,1386.7 565,1388.6 574.2,1387.2 578.9,1384.4 585.8,1375.6 592.8,1375.1 599.8,1377 611.4,1377 618.3,1362.4 625.3,1356.6 632.2,1347.3 639.2,1346.1 662.4,1345.4 685.6,1345 694.9,1342.2 732,1342.2 834.1,1342.2 838.7,1335.7 845.7,1335.7" fill="none" stroke="#b4b4b4" stroke-width="3.6" stroke-linejoin="round" />
<polyline points="173.6,1691.8 178.3,1683.7 189.9,1674.4 199.2,1659.3 211.9,1651.2 269.9,1651.2 273.4,1628 279.2,1583.9 285,1574.6 303.6,1574.6 307,1563 311.7,1535.2 321,1502.7 327.9,1479.5 337.2,1465.6 346.5,1458.6 356.9,1458.6 366.2,1452.8 377.8,1451.2 381.3,1464.4 385.9,1454 390.6,1451.7 395.2,1445.9 404.5,1443.6 408,1438.9 416.1,1437.8 419.5,1433.1 421.9,1423.8 464.8,1423.8 476.4,1420.4 481,1384.4 485.7,1362.4 489.1,1361.7 496.1,1367 515.8,1367 500,1367 516.2,1367 520.9,1361.7 530.2,1361.7 534.8,1358.9 553.4,1358.9 558,1342.6 562.6,1333.4 571.9,1329.2 584.7,1329.2 592.8,1318.3 597.4,1314.8 604.4,1319.4 609,1321.3 667,1321.3" fill="none" stroke="#dc2a16" stroke-width="3.8" stroke-linejoin="round" />
<polyline points="167.8,1607.1 170.2,1605.9 195.7,1605.9 208.4,1601.3 214.2,1602 269.9,1602 273.4,1600.1 279.2,1588.5 283.8,1579.3 285.7,1558.4 287.3,1523.6 288.5,1488.8 289.6,1454 292,1419.2 295.4,1389 300.1,1365.8 307,1345 314,1335.7 324.4,1322.9 334.9,1322.9 337.2,1335.7 340.7,1336.8 344.2,1341.5 368.5,1341.5 374.3,1316 379,1313.6 385.9,1314.3 389.4,1319.4 391.7,1338 395.2,1340.8 401,1339.2 404.5,1332.2 413.8,1309.7 417.2,1310.2 423,1324.1 430,1328.7 441.6,1329.9 446.2,1327.6 449.7,1317.1 452,1320.6 520,1320.6 845.2,1320.6" fill="none" stroke="#0e9210" stroke-width="3.8" stroke-linejoin="round" />
<rect x="145.8" y="1290.5" width="715.7" height="401.2" fill="none" stroke="#333" stroke-width="1.6"/>
<line x1="167.7" y1="1691.7" x2="167.7" y2="1700.5" stroke="#333" stroke-width="1.6" />
<text x="160" y="1730.5" font-size="21.8" textLength="15.4" lengthAdjust="spacingAndGlyphs">0</text>
<line x1="303" y1="1691.7" x2="303" y2="1700.5" stroke="#333" stroke-width="1.6" />
<text x="288" y="1730.5" font-size="21.8" textLength="29.8" lengthAdjust="spacingAndGlyphs">20</text>
<line x1="438.3" y1="1691.7" x2="438.3" y2="1700.5" stroke="#333" stroke-width="1.6" />
<text x="424.1" y="1730.5" font-size="21.8" textLength="28.9" lengthAdjust="spacingAndGlyphs">40</text>
<line x1="573.7" y1="1691.7" x2="573.7" y2="1700.5" stroke="#333" stroke-width="1.6" />
<text x="558.6" y="1730.5" font-size="21.8" textLength="29.8" lengthAdjust="spacingAndGlyphs">60</text>
<line x1="709" y1="1691.7" x2="709" y2="1700.5" stroke="#333" stroke-width="1.6" />
<text x="694.1" y="1730.5" font-size="21.8" textLength="29.6" lengthAdjust="spacingAndGlyphs">80</text>
<line x1="844.3" y1="1691.7" x2="844.3" y2="1700.5" stroke="#333" stroke-width="1.6" />
<text x="823.4" y="1730.5" font-size="21.8" textLength="40.9" lengthAdjust="spacingAndGlyphs">100</text>
<line x1="137.2" y1="1319.4" x2="145.8" y2="1319.4" stroke="#333" stroke-width="1.6" />
<text x="79.7" y="1326.5" font-size="22.6" textLength="47.6" lengthAdjust="spacingAndGlyphs">1.00</text>
<line x1="137.2" y1="1412.2" x2="145.8" y2="1412.2" stroke="#333" stroke-width="1.6" />
<text x="76.9" y="1419.3" font-size="22.6" textLength="50.7" lengthAdjust="spacingAndGlyphs">0.75</text>
<line x1="137.2" y1="1505" x2="145.8" y2="1505" stroke="#333" stroke-width="1.6" />
<text x="76.9" y="1512.1" font-size="22.6" textLength="50.5" lengthAdjust="spacingAndGlyphs">0.50</text>
<line x1="137.2" y1="1597.8" x2="145.8" y2="1597.8" stroke="#333" stroke-width="1.6" />
<text x="76.9" y="1604.9" font-size="22.6" textLength="50.7" lengthAdjust="spacingAndGlyphs">0.25</text>
<line x1="137.2" y1="1690.6" x2="145.8" y2="1690.6" stroke="#333" stroke-width="1.6" />
<text x="111.6" y="1697.7" font-size="22.6" textLength="16" lengthAdjust="spacingAndGlyphs">0</text>
<text x="-1.5" y="0" transform="translate(57.4 1631.7) rotate(-90)" font-size="26" textLength="281.5" lengthAdjust="spacingAndGlyphs">Cumulative frequency</text>
<text x="339.3" y="1773.7" font-size="26" textLength="329.3" lengthAdjust="spacingAndGlyphs">Time since break-up (Myr)</text>
<line x1="167.5" y1="1750" x2="167.5" y2="1772.7" stroke="#000" stroke-width="3.5" />
<path d="M167.5 1735.9 L174.5 1752.9 L167.5 1748.1 L160.5 1752.9 Z" fill="#000"/>
<text x="110.8" y="1796.7" font-size="26" textLength="114.6" lengthAdjust="spacingAndGlyphs">Break-up</text>
<rect x="448.6" y="1571.9" width="402.7" height="104.7" fill="#fff" stroke="#222" stroke-width="1.6"/>
<line x1="462" y1="1592" x2="485.7" y2="1592" stroke="#dc2a16" stroke-width="3" />
<line x1="462" y1="1622.9" x2="485.7" y2="1622.9" stroke="#0e9210" stroke-width="3" />
<line x1="462" y1="1654" x2="485.7" y2="1654" stroke="#b4b4b4" stroke-width="3" />
<text x="496" y="1600.2" font-size="24" textLength="261" lengthAdjust="spacingAndGlyphs">Reference model (see <tspan font-weight="bold">a</tspan>)</text>
<text x="494.9" y="1630.3" font-size="24" textLength="347" lengthAdjust="spacingAndGlyphs">Symmetric boundary conditions</text>
<text x="496" y="1661.6" font-size="24" textLength="305" lengthAdjust="spacingAndGlyphs">Fast divergence (20 mm yr<tspan font-size="15" dy="-9">−1</tspan><tspan dy="9">)</tspan></text>
<line x1="1034.3" y1="1214.6" x2="1688" y2="1214.6" stroke="#b0b0b0" stroke-width="1.5" />
<rect x="1047" y="1209.2" width="37.4" height="5.6" fill="#c5d0db" stroke="#111" stroke-width="1.5"/>
<rect x="1084.4" y="1003.9" width="37.4" height="210.9" fill="#c5d0db" stroke="#111" stroke-width="1.5"/>
<rect x="1121.7" y="866.1" width="37.4" height="348.7" fill="#c5d0db" stroke="#111" stroke-width="1.5"/>
<rect x="1159.1" y="954.3" width="37.4" height="260.5" fill="#c5d0db" stroke="#111" stroke-width="1.5"/>
<rect x="1196.5" y="1061.4" width="37.4" height="153.4" fill="#c5d0db" stroke="#111" stroke-width="1.5"/>
<rect x="1233.9" y="1142.5" width="37.4" height="72.3" fill="#c5d0db" stroke="#111" stroke-width="1.5"/>
<rect x="1271.3" y="1182.8" width="37.4" height="32" fill="#c5d0db" stroke="#111" stroke-width="1.5"/>
<rect x="1308.6" y="1209.2" width="37.4" height="5.6" fill="#c5d0db" stroke="#111" stroke-width="1.5"/>
<rect x="1346" y="1211.8" width="37.4" height="3" fill="#c5d0db" stroke="#111" stroke-width="1.5"/>
<rect x="1383.4" y="1211.8" width="37.4" height="3" fill="#c5d0db" stroke="#111" stroke-width="1.5"/>
<rect x="1420.8" y="1211.8" width="37.4" height="3" fill="#c5d0db" stroke="#111" stroke-width="1.5"/>
<rect x="1458.2" y="1211.8" width="37.4" height="3" fill="#c5d0db" stroke="#111" stroke-width="1.5"/>
<rect x="1495.5" y="1211.8" width="37.4" height="3" fill="#c5d0db" stroke="#111" stroke-width="1.5"/>
<rect x="1532.9" y="1211.8" width="37.4" height="3" fill="#c5d0db" stroke="#111" stroke-width="1.5"/>
<rect x="1570.3" y="1211.8" width="37.4" height="3" fill="#c5d0db" stroke="#111" stroke-width="1.5"/>
<rect x="1607.7" y="1211.8" width="37.4" height="3" fill="#c5d0db" stroke="#111" stroke-width="1.5"/>
<line x1="1101" y1="856" x2="1101" y2="1227" stroke="#6b6b6b" stroke-width="3" stroke-dasharray="14 8"/>
<line x1="1158.2" y1="856" x2="1158.2" y2="1227" stroke="#555" stroke-width="2.2" stroke-dasharray="11 3"/>
<line x1="1172" y1="858" x2="1172" y2="1227" stroke="#6b6b6b" stroke-width="3" stroke-dasharray="3 6"/>
<line x1="1279.6" y1="856" x2="1279.6" y2="1227" stroke="#6b6b6b" stroke-width="3" stroke-dasharray="14 8"/>
<polyline points="1057.4,1214.4 1059.5,1214.4 1061.5,1214.2 1063.5,1214 1065.6,1213.7 1067.6,1213.3 1069.6,1212.5 1071.6,1209.1 1073.7,1204.3 1075.7,1198.3 1077.7,1190.6 1079.8,1182.2 1081.8,1172.5 1083.8,1161.4 1085.8,1148.3 1087.9,1133.5 1089.9,1118.2 1091.9,1102.1 1093.9,1085.5 1096,1068.9 1098,1051.6 1100,1030.9 1102.1,1007.2 1104.1,993 1106.1,983.1 1108.1,969.9 1110.2,954.8 1112.2,940 1114.2,926.9 1116.3,914.6 1118.3,903 1120.3,891.5 1122.3,879.9 1124.4,872.7 1126.4,869.2 1128.4,867.1 1130.4,867.2 1132.5,868.9 1134.5,871.5 1136.5,875 1138.6,881.2 1140.6,888.7 1142.6,895.7 1144.6,903.2 1146.7,910.1 1148.7,914.7 1150.7,917.6 1152.8,919.9 1154.8,922.1 1156.8,924.8 1158.8,928 1160.9,931.5 1162.9,935.3 1164.9,939.4 1166.9,943.9 1169,948.8 1171,953.8 1173,958.9 1175.1,964.2 1177.1,969.6 1179.1,975.1 1181.1,980.7 1183.2,986.7 1185.2,992.7 1187.2,998.6 1189.3,1003.9 1191.3,1008.5 1193.3,1012.5 1195.3,1016.2 1197.4,1019.9 1199.4,1023.8 1201.4,1028.2 1203.4,1033.7 1205.5,1040.5 1207.5,1048 1209.5,1055.5 1211.6,1062.2 1213.6,1068.5 1215.6,1074.6 1217.6,1080.3 1219.7,1085.4 1221.7,1089.9 1223.7,1093.8 1225.8,1097.5 1227.8,1101.4 1229.8,1105.5 1231.8,1109.5 1233.9,1113.6 1235.9,1117.7 1237.9,1121.8 1239.9,1126 1242,1130.3 1244,1134.5 1246,1138.4 1248.1,1141.7 1250.1,1144.5 1252.1,1147 1254.1,1149.4 1256.2,1151.8 1258.2,1154.5 1260.2,1157.4 1262.3,1160.5 1264.3,1163.6 1266.3,1166.8 1268.3,1170.3 1270.4,1173.6 1272.4,1176.1 1274.4,1177.6 1276.4,1178.8 1278.5,1179.7 1280.5,1180.4 1282.5,1181 1284.6,1181.5 1286.6,1181.9 1288.6,1182.4 1290.6,1183 1292.7,1183.9 1294.7,1185.1 1296.7,1186.4 1298.8,1187.9 1300.8,1189.4 1302.8,1191.2 1304.8,1193.3 1306.9,1195.5 1308.9,1197.6 1310.9,1199.6 1312.9,1201.6 1315,1203.7 1317,1205.7 1319,1207.2 1321.1,1208.1 1323.1,1208.7 1325.1,1209.3 1327.1,1209.7 1329.2,1210.1 1331.2,1210.3 1333.2,1210.4 1335.3,1210.5 1337.3,1210.6 1339.3,1210.6 1341.3,1210.7 1343.4,1210.7 1345.4,1210.7 1347.4,1210.8 1349.4,1210.8 1351.5,1210.8 1353.5,1210.8 1355.5,1210.8 1357.6,1210.9 1359.6,1210.9 1361.6,1210.9 1363.6,1210.8 1365.7,1210.8 1367.7,1210.8 1369.7,1210.8 1371.8,1210.8 1373.8,1210.7 1375.8,1210.7 1377.8,1210.7 1379.9,1210.6 1381.9,1210.6 1383.9,1210.6 1385.9,1210.5 1388,1210.5 1390,1210.4 1392,1210.4 1394.1,1210.3 1396.1,1210.3 1398.1,1210.2 1400.1,1210.2 1402.2,1210.1 1404.2,1210.1 1406.2,1210 1408.3,1210 1410.3,1210 1412.3,1209.9 1414.3,1209.9 1416.4,1209.9 1418.4,1209.8 1420.4,1209.8 1422.4,1209.8 1424.5,1209.8 1426.5,1209.8 1428.5,1209.7 1430.6,1209.7 1432.6,1209.7 1434.6,1209.7 1436.6,1209.6 1438.7,1209.6 1440.7,1209.6 1442.7,1209.6 1444.8,1209.6 1446.8,1209.5 1448.8,1209.5 1450.8,1209.5 1452.9,1209.5 1454.9,1209.5 1456.9,1209.5 1458.9,1209.5 1461,1209.4 1463,1209.4 1465,1209.4 1467.1,1209.4 1469.1,1209.4 1471.1,1209.4 1473.1,1209.4 1475.2,1209.4 1477.2,1209.4 1479.2,1209.4 1481.3,1209.4 1483.3,1209.4 1485.3,1209.4 1487.3,1209.4 1489.4,1209.5 1491.4,1209.5 1493.4,1209.5 1495.4,1209.5 1497.5,1209.6 1499.5,1209.6 1501.5,1209.6 1503.6,1209.7 1505.6,1209.7 1507.6,1209.7 1509.6,1209.8 1511.7,1209.8 1513.7,1209.9 1515.7,1209.9 1517.8,1209.9 1519.8,1210 1521.8,1210 1523.8,1210.1 1525.9,1210.1 1527.9,1210.1 1529.9,1210.2 1531.9,1210.2 1534,1210.2 1536,1210.3 1538,1210.3 1540.1,1210.3 1542.1,1210.4 1544.1,1210.4 1546.1,1210.4 1548.2,1210.5 1550.2,1210.5 1552.2,1210.5 1554.3,1210.6 1556.3,1210.6 1558.3,1210.6 1560.3,1210.7 1562.4,1210.7 1564.4,1210.7 1566.4,1210.8 1568.4,1210.8 1570.5,1210.9 1572.5,1210.9 1574.5,1210.9 1576.6,1211 1578.6,1211 1580.6,1211.1 1582.6,1211.1 1584.7,1211.2 1586.7,1211.2 1588.7,1211.3 1590.8,1211.3 1592.8,1211.4 1594.8,1211.4 1596.8,1211.5 1598.9,1211.6 1600.9,1211.7 1602.9,1211.8 1604.9,1211.9 1607,1211.9 1609,1212 1611,1212.1 1613.1,1212.2 1615.1,1212.3 1617.1,1212.4 1619.1,1212.5 1621.2,1212.5 1623.2,1212.6 1625.2,1212.7 1627.3,1212.8 1629.3,1212.8 1631.3,1212.9 1633.3,1213 1635.4,1213 1637.4,1213.1 1639.4,1213.1 1641.4,1213.2 1643.5,1213.3 1645.5,1213.3 1647.5,1213.4 1649.6,1213.4 1651.6,1213.5 1653.6,1213.5 1655.6,1213.6 1657.7,1213.6 1659.7,1213.7 1661.7,1213.7 1663.8,1213.8" fill="none" stroke="#b8301f" stroke-width="3.6" stroke-linejoin="round" />
<rect x="1034.3" y="852.7" width="653.7" height="375.5" fill="none" stroke="#333" stroke-width="1.6"/>
<line x1="1024.7" y1="1214.4" x2="1034.3" y2="1214.4" stroke="#b8301f" stroke-width="1.6" />
<text x="997.5" y="1222" font-size="22.1" fill="#b8301f" textLength="15.6" lengthAdjust="spacingAndGlyphs">0</text>
<line x1="1024.7" y1="1110.1" x2="1034.3" y2="1110.1" stroke="#b8301f" stroke-width="1.6" />
<text x="963.6" y="1117.7" font-size="22.1" fill="#b8301f" textLength="49.4" lengthAdjust="spacingAndGlyphs">0.05</text>
<line x1="1024.7" y1="1005.8" x2="1034.3" y2="1005.8" stroke="#b8301f" stroke-width="1.6" />
<text x="967.2" y="1013.4" font-size="22.1" fill="#b8301f" textLength="45.6" lengthAdjust="spacingAndGlyphs">0.10</text>
<line x1="1024.7" y1="901.5" x2="1034.3" y2="901.5" stroke="#b8301f" stroke-width="1.6" />
<text x="967.2" y="909.1" font-size="22.1" fill="#b8301f" textLength="45.7" lengthAdjust="spacingAndGlyphs">0.15</text>
<text x="-2.2" y="0" transform="translate(938.8 1085.4) rotate(-90)" font-size="26.4" fill="#b8301f" textLength="93.4" lengthAdjust="spacingAndGlyphs">Density</text>
<line x1="1688" y1="1214.6" x2="1697.5" y2="1214.6" stroke="#333" stroke-width="1.6" />
<text x="1707.6" y="1222.2" font-size="21.5" textLength="16.9" lengthAdjust="spacingAndGlyphs">0</text>
<line x1="1688" y1="1162.8" x2="1697.5" y2="1162.8" stroke="#333" stroke-width="1.6" />
<text x="1707.5" y="1170.4" font-size="21.5" textLength="67.5" lengthAdjust="spacingAndGlyphs">2,000</text>
<line x1="1688" y1="1059.3" x2="1697.5" y2="1059.3" stroke="#333" stroke-width="1.6" />
<text x="1707.4" y="1066.9" font-size="21.5" textLength="68.3" lengthAdjust="spacingAndGlyphs">6,000</text>
<line x1="1688" y1="955.7" x2="1697.5" y2="955.7" stroke="#333" stroke-width="1.6" />
<text x="1706.8" y="963.3" font-size="21.5" textLength="80.3" lengthAdjust="spacingAndGlyphs">10,000</text>
<line x1="1688" y1="852.1" x2="1697.5" y2="852.1" stroke="#333" stroke-width="1.6" />
<text x="1706.9" y="859.7" font-size="21.5" textLength="78" lengthAdjust="spacingAndGlyphs">14,000</text>
<text x="-2.3" y="0" transform="translate(1805.6 974) rotate(90)" font-size="26" textLength="136.3" lengthAdjust="spacingAndGlyphs">Frequency</text>
<line x1="1103" y1="1228.2" x2="1103" y2="1237.6" stroke="#333" stroke-width="1.6" />
<text x="1095.3" y="1267.2" font-size="21.8" textLength="15.5" lengthAdjust="spacingAndGlyphs">5</text>
<line x1="1196.5" y1="1228.2" x2="1196.5" y2="1237.6" stroke="#333" stroke-width="1.6" />
<text x="1182.7" y="1267.2" font-size="21.8" textLength="26.6" lengthAdjust="spacingAndGlyphs">10</text>
<line x1="1290" y1="1228.2" x2="1290" y2="1237.6" stroke="#333" stroke-width="1.6" />
<text x="1276.2" y="1267.2" font-size="21.8" textLength="26.8" lengthAdjust="spacingAndGlyphs">15</text>
<line x1="1383.4" y1="1228.2" x2="1383.4" y2="1237.6" stroke="#333" stroke-width="1.6" />
<text x="1368.3" y="1267.2" font-size="21.8" textLength="29.8" lengthAdjust="spacingAndGlyphs">20</text>
<line x1="1476.9" y1="1228.2" x2="1476.9" y2="1237.6" stroke="#333" stroke-width="1.6" />
<text x="1461.8" y="1267.2" font-size="21.8" textLength="29.9" lengthAdjust="spacingAndGlyphs">25</text>
<line x1="1570.3" y1="1228.2" x2="1570.3" y2="1237.6" stroke="#333" stroke-width="1.6" />
<text x="1555.5" y="1267.2" font-size="21.8" textLength="29.5" lengthAdjust="spacingAndGlyphs">30</text>
<line x1="1663.8" y1="1228.2" x2="1663.8" y2="1237.6" stroke="#333" stroke-width="1.6" />
<text x="1649" y="1267.2" font-size="21.8" textLength="29.6" lengthAdjust="spacingAndGlyphs">35</text>
<text x="1132.5" y="1303" font-size="24.6" textLength="457.8" lengthAdjust="spacingAndGlyphs">Estimated time since break-up (Myr)</text>
<text x="-0.9" y="0" transform="translate(1096.4 838.9) rotate(-30)" font-size="20.5" textLength="32.7" lengthAdjust="spacingAndGlyphs">5%</text>
<text x="-1.9" y="0" transform="translate(1146.4 839.6) rotate(-30)" font-size="20.5" textLength="79" lengthAdjust="spacingAndGlyphs">Median</text>
<text x="-1.9" y="0" transform="translate(1188.2 839.6) rotate(-30)" font-size="20.5" textLength="59.5" lengthAdjust="spacingAndGlyphs">Mean</text>
<text x="-1" y="0" transform="translate(1278.5 838.9) rotate(-30)" font-size="20.5" textLength="45.9" lengthAdjust="spacingAndGlyphs">95%</text>
<line x1="1035.2" y1="1360.6" x2="1688.9" y2="1360.6" stroke="#b5b5b5" stroke-width="3" />
<line x1="1035.2" y1="1707.9" x2="1688.9" y2="1707.9" stroke="#b5b5b5" stroke-width="3" />
<line x1="1035.2" y1="1378" x2="1684.9" y2="1378" stroke="#6e6e6e" stroke-width="3" stroke-dasharray="16.7 10.9"/>
<line x1="1035.2" y1="1690.5" x2="1684.9" y2="1690.5" stroke="#6e6e6e" stroke-width="3" stroke-dasharray="16.7 10.9"/>
<polyline points="1016.9,1707.9 1018.6,1707.9 1020.3,1707.9 1021.9,1707.9 1023.6,1707.9 1025.3,1707.9 1026.9,1707.9 1028.6,1707.9 1030.3,1707.9 1031.9,1707.9 1033.6,1707.9 1035.2,1707.9 1036.9,1707.9 1038.6,1707.9 1040.2,1707.9 1041.9,1707.9 1043.6,1707.9 1045.2,1707.9 1046.9,1707.9 1048.5,1707.9 1050.2,1707.9 1051.9,1707.9 1053.5,1707.9 1055.2,1707.9 1056.9,1707.9 1058.5,1707.9 1060.2,1707.9 1061.9,1707.9 1063.5,1707.9 1065.2,1707.9 1066.8,1707.9 1068.5,1707.9 1070.2,1707.9 1071.8,1707.9 1073.5,1707.9 1075.2,1707.9 1076.8,1707.9 1078.5,1707.9 1080.2,1707.9 1081.8,1707.9 1083.5,1707.9 1085.1,1707.9 1086.8,1707.9 1088.5,1707.9 1090.1,1707.9 1091.8,1707.9 1093.5,1707.9 1095.1,1707.9 1096.8,1707.9 1098.4,1707.9 1100.1,1707.8 1101.8,1707.8 1103.4,1707.7 1105.1,1707.5 1106.8,1707.1 1108.4,1706.6 1110.1,1706.1 1111.8,1705.4 1113.4,1704.4 1115.1,1703 1116.7,1701.4 1118.4,1699.1 1120.1,1696.1 1121.7,1692.9 1123.4,1689.8 1125.1,1686.7 1126.7,1683.4 1128.4,1679.8 1130.1,1675.7 1131.7,1671.4 1133.4,1666.7 1135,1662 1136.7,1657.3 1138.4,1652.6 1140,1647.8 1141.7,1643 1143.4,1638 1145,1632.9 1146.7,1627.6 1148.3,1622 1150,1616.3 1151.7,1610.5 1153.3,1604.6 1155,1598.7 1156.7,1592.5 1158.3,1586.3 1160,1580.2 1161.7,1574.4 1163.3,1569 1165,1563.7 1166.6,1558.6 1168.3,1553.7 1170,1549 1171.6,1544.5 1173.3,1540.1 1175,1535.9 1176.6,1531.7 1178.3,1527.7 1180,1523.7 1181.6,1519.8 1183.3,1515.9 1184.9,1512 1186.6,1508.2 1188.3,1504.5 1189.9,1500.8 1191.6,1497.2 1193.3,1493.6 1194.9,1490.2 1196.6,1486.8 1198.2,1483.5 1199.9,1480.2 1201.6,1476.9 1203.2,1473.7 1204.9,1470.3 1206.6,1466.9 1208.2,1463.5 1209.9,1460.1 1211.6,1456.7 1213.2,1453.4 1214.9,1450.3 1216.5,1447.2 1218.2,1444.1 1219.9,1441.1 1221.5,1438.1 1223.2,1435.3 1224.9,1432.6 1226.5,1430 1228.2,1427.6 1229.9,1425.4 1231.5,1423.3 1233.2,1421.2 1234.8,1419.2 1236.5,1417.2 1238.2,1415.3 1239.8,1413.3 1241.5,1411.3 1243.2,1409.3 1244.8,1407.4 1246.5,1405.5 1248.2,1403.7 1249.8,1402 1251.5,1400.4 1253.1,1399 1254.8,1397.7 1256.5,1396.5 1258.1,1395.3 1259.8,1394.2 1261.5,1393.1 1263.1,1392 1264.8,1391 1266.4,1389.9 1268.1,1388.9 1269.8,1387.8 1271.4,1386.8 1273.1,1385.8 1274.8,1384.8 1276.4,1383.8 1278.1,1382.9 1279.8,1382.1 1281.4,1381.3 1283.1,1380.5 1284.7,1379.8 1286.4,1379.2 1288.1,1378.5 1289.7,1377.9 1291.4,1377.3 1293.1,1376.7 1294.7,1376.1 1296.4,1375.5 1298.1,1374.9 1299.7,1374.3 1301.4,1373.7 1303,1373.2 1304.7,1372.7 1306.4,1372.2 1308,1371.8 1309.7,1371.5 1311.4,1371.2 1313,1370.8 1314.7,1370.6 1316.3,1370.3 1318,1370.1 1319.7,1369.9 1321.3,1369.7 1323,1369.6 1324.7,1369.5 1326.3,1369.4 1328,1369.3 1329.7,1369.2 1331.3,1369.2 1333,1369.1 1334.6,1369 1336.3,1369 1338,1368.9 1339.6,1368.9 1341.3,1368.8 1343,1368.8 1344.6,1368.7 1346.3,1368.7 1348,1368.6 1349.6,1368.6 1351.3,1368.5 1352.9,1368.5 1354.6,1368.4 1356.3,1368.4 1357.9,1368.3 1359.6,1368.3 1361.3,1368.2 1362.9,1368.1 1364.6,1368.1 1366.2,1368 1367.9,1367.9 1369.6,1367.9 1371.2,1367.8 1372.9,1367.8 1374.6,1367.7 1376.2,1367.6 1377.9,1367.6 1379.6,1367.5 1381.2,1367.4 1382.9,1367.4 1384.5,1367.3 1386.2,1367.3 1387.9,1367.2 1389.5,1367.1 1391.2,1367.1 1392.9,1367 1394.5,1367 1396.2,1366.9 1397.9,1366.8 1399.5,1366.8 1401.2,1366.7 1402.8,1366.6 1404.5,1366.6 1406.2,1366.5 1407.8,1366.5 1409.5,1366.4 1411.2,1366.3 1412.8,1366.3 1414.5,1366.2 1416.2,1366.2 1417.8,1366.1 1419.5,1366 1421.1,1366 1422.8,1365.9 1424.5,1365.8 1426.1,1365.8 1427.8,1365.7 1429.5,1365.7 1431.1,1365.6 1432.8,1365.5 1434.4,1365.5 1436.1,1365.4 1437.8,1365.4 1439.4,1365.3 1441.1,1365.2 1442.8,1365.2 1444.4,1365.1 1446.1,1365.1 1447.8,1365 1449.4,1364.9 1451.1,1364.9 1452.7,1364.8 1454.4,1364.8 1456.1,1364.7 1457.7,1364.6 1459.4,1364.6 1461.1,1364.5 1462.7,1364.5 1464.4,1364.4 1466.1,1364.3 1467.7,1364.3 1469.4,1364.2 1471,1364.2 1472.7,1364.1 1474.4,1364.1 1476,1364 1477.7,1363.9 1479.4,1363.9 1481,1363.8 1482.7,1363.8 1484.3,1363.7 1486,1363.7 1487.7,1363.6 1489.3,1363.6 1491,1363.5 1492.7,1363.5 1494.3,1363.4 1496,1363.3 1497.7,1363.3 1499.3,1363.2 1501,1363.2 1502.6,1363.1 1504.3,1363.1 1506,1363 1507.6,1363 1509.3,1362.9 1511,1362.9 1512.6,1362.8 1514.3,1362.8 1516,1362.7 1517.6,1362.7 1519.3,1362.6 1520.9,1362.6 1522.6,1362.5 1524.3,1362.5 1525.9,1362.4 1527.6,1362.4 1529.3,1362.3 1530.9,1362.3 1532.6,1362.2 1534.2,1362.2 1535.9,1362.2 1537.6,1362.1 1539.2,1362.1 1540.9,1362 1542.6,1362 1544.2,1361.9 1545.9,1361.9 1547.6,1361.9 1549.2,1361.8 1550.9,1361.8 1552.5,1361.7 1554.2,1361.7 1555.9,1361.6 1557.5,1361.6 1559.2,1361.6 1560.9,1361.5 1562.5,1361.5 1564.2,1361.5 1565.9,1361.4 1567.5,1361.4 1569.2,1361.3 1570.8,1361.3 1572.5,1361.3 1574.2,1361.2 1575.8,1361.2 1577.5,1361.2 1579.2,1361.1 1580.8,1361.1 1582.5,1361.1 1584.1,1361.1 1585.8,1361 1587.5,1361 1589.1,1361 1590.8,1361 1592.5,1360.9 1594.1,1360.9 1595.8,1360.9 1597.5,1360.8 1599.1,1360.8 1600.8,1360.8 1602.4,1360.8 1604.1,1360.7 1605.8,1360.7 1607.4,1360.7 1609.1,1360.7 1610.8,1360.7 1612.4,1360.6 1614.1,1360.6 1615.8,1360.6 1617.4,1360.6 1619.1,1360.6 1620.7,1360.6 1622.4,1360.6 1624.1,1360.6 1625.7,1360.6 1627.4,1360.6 1629.1,1360.6 1630.7,1360.6 1632.4,1360.6 1634.1,1360.6 1635.7,1360.6 1637.4,1360.6 1639,1360.6 1640.7,1360.6 1642.4,1360.6 1644,1360.6 1645.7,1360.6 1647.4,1360.6 1649,1360.6 1650.7,1360.6 1652.3,1360.6 1654,1360.6 1655.7,1360.6 1657.3,1360.6 1659,1360.6 1660.7,1360.6 1662.3,1360.6 1664,1360.6 1665.7,1360.6 1667.3,1360.6 1669,1360.6 1670.6,1360.6 1672.3,1360.6 1674,1360.6 1675.6,1360.6 1677.3,1360.6 1679,1360.6 1680.6,1360.6" fill="none" stroke="#d03514" stroke-width="3.7" stroke-linejoin="round" />
<rect x="1035.2" y="1346.5" width="653.7" height="375.5" fill="none" stroke="#333" stroke-width="1.6"/>
<line x1="1025.9" y1="1707.9" x2="1035.2" y2="1707.9" stroke="#333" stroke-width="1.6" />
<text x="998.6" y="1714.9" font-size="22.3" textLength="15.8" lengthAdjust="spacingAndGlyphs">0</text>
<line x1="1025.9" y1="1638.4" x2="1035.2" y2="1638.4" stroke="#333" stroke-width="1.6" />
<text x="978.8" y="1645.4" font-size="22.3" textLength="35.7" lengthAdjust="spacingAndGlyphs">0.2</text>
<line x1="1025.9" y1="1569" x2="1035.2" y2="1569" stroke="#333" stroke-width="1.6" />
<text x="978.9" y="1576" font-size="22.3" textLength="35.2" lengthAdjust="spacingAndGlyphs">0.4</text>
<line x1="1025.9" y1="1499.5" x2="1035.2" y2="1499.5" stroke="#333" stroke-width="1.6" />
<text x="978.9" y="1506.5" font-size="22.3" textLength="35.5" lengthAdjust="spacingAndGlyphs">0.6</text>
<line x1="1025.9" y1="1430.1" x2="1035.2" y2="1430.1" stroke="#333" stroke-width="1.6" />
<text x="978.9" y="1437.1" font-size="22.3" textLength="35.5" lengthAdjust="spacingAndGlyphs">0.8</text>
<line x1="1025.9" y1="1360.6" x2="1035.2" y2="1360.6" stroke="#333" stroke-width="1.6" />
<text x="981.7" y="1367.6" font-size="22.3" textLength="32.4" lengthAdjust="spacingAndGlyphs">1.0</text>
<line x1="1040.5" y1="1722" x2="1040.5" y2="1731" stroke="#333" stroke-width="1.6" />
<text x="1032.7" y="1760.8" font-size="22.1" textLength="15.6" lengthAdjust="spacingAndGlyphs">0</text>
<line x1="1125.8" y1="1722" x2="1125.8" y2="1731" stroke="#333" stroke-width="1.6" />
<text x="1118" y="1760.8" font-size="22.1" textLength="15.7" lengthAdjust="spacingAndGlyphs">5</text>
<line x1="1211.2" y1="1722" x2="1211.2" y2="1731" stroke="#333" stroke-width="1.6" />
<text x="1197.3" y="1760.8" font-size="22.1" textLength="27" lengthAdjust="spacingAndGlyphs">10</text>
<line x1="1296.5" y1="1722" x2="1296.5" y2="1731" stroke="#333" stroke-width="1.6" />
<text x="1282.6" y="1760.8" font-size="22.1" textLength="27.1" lengthAdjust="spacingAndGlyphs">15</text>
<line x1="1381.9" y1="1722" x2="1381.9" y2="1731" stroke="#333" stroke-width="1.6" />
<text x="1366.6" y="1760.8" font-size="22.1" textLength="30.2" lengthAdjust="spacingAndGlyphs">20</text>
<line x1="1467.2" y1="1722" x2="1467.2" y2="1731" stroke="#333" stroke-width="1.6" />
<text x="1452" y="1760.8" font-size="22.1" textLength="30.3" lengthAdjust="spacingAndGlyphs">25</text>
<line x1="1552.6" y1="1722" x2="1552.6" y2="1731" stroke="#333" stroke-width="1.6" />
<text x="1537.6" y="1760.8" font-size="22.1" textLength="29.9" lengthAdjust="spacingAndGlyphs">30</text>
<line x1="1638" y1="1722" x2="1638" y2="1731" stroke="#333" stroke-width="1.6" />
<text x="1623" y="1760.8" font-size="22.1" textLength="30" lengthAdjust="spacingAndGlyphs">35</text>
<text x="1132.5" y="1803.5" font-size="24.6" textLength="458.9" lengthAdjust="spacingAndGlyphs">Estimated time since break-up (Myr)</text>
<text x="955" y="1534.5" font-size="25" text-anchor="middle" transform="rotate(-90 955 1534.5)">Fn(<tspan font-style="italic">x</tspan>)</text>
<text x="1485.7" y="1569.9" font-size="22" textLength="122.7" lengthAdjust="spacingAndGlyphs">Median 8.0</text>
<text x="1485.8" y="1601" font-size="22" textLength="99.1" lengthAdjust="spacingAndGlyphs">Mean 8.7</text>
<text x="1486.8" y="1632.1" font-size="22" textLength="72" lengthAdjust="spacingAndGlyphs">5% 4.9</text>
<text x="1486.7" y="1663.2" font-size="22" textLength="95.2" lengthAdjust="spacingAndGlyphs">95% 14.5</text>
<text x="-0.1" y="30.2" font-size="40" font-weight="bold" textLength="21.3" lengthAdjust="spacingAndGlyphs">a</text>
<text x="-1.7" y="814.5" font-size="40" font-weight="bold" textLength="28.2" lengthAdjust="spacingAndGlyphs">b</text>
<text x="915.4" y="814" font-size="40" font-weight="bold" textLength="24.3" lengthAdjust="spacingAndGlyphs">c</text>
<text x="915" y="1340.8" font-size="40" font-weight="bold" textLength="28.9" lengthAdjust="spacingAndGlyphs">d</text>
</svg>
</body></html>
